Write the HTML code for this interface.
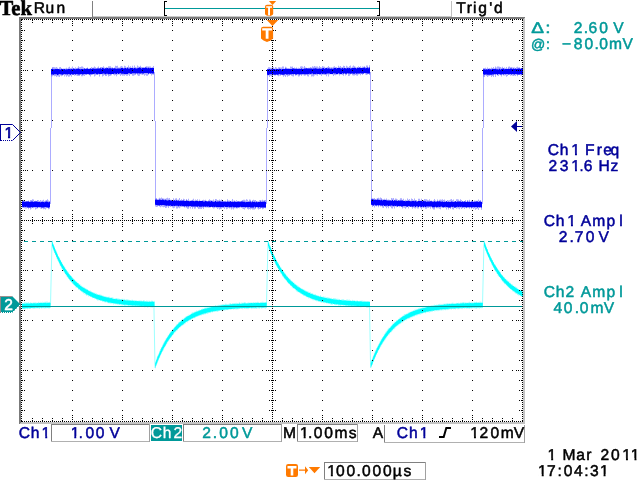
<!DOCTYPE html>
<html lang="en"><head><meta charset="utf-8"><title>Tek oscilloscope capture</title>
<style>
html,body{margin:0;padding:0;background:#fff;overflow:hidden}
svg{display:block;will-change:transform;text-rendering:geometricPrecision;font-family:"Liberation Sans",sans-serif}
text{stroke-linejoin:round;white-space:pre}
</style></head><body>
<svg width="640" height="480" viewBox="0 0 640 480">
<rect width="640" height="480" fill="#fff"/>
<g shape-rendering="crispEdges">
<rect x="51" y="72" width="1" height="56" fill="#acacff"/>
<rect x="50" y="128" width="1" height="76" fill="#acacff"/>
<rect x="267" y="72" width="1" height="56" fill="#acacff"/>
<rect x="266" y="128" width="1" height="76" fill="#acacff"/>
<rect x="483" y="72" width="1" height="56" fill="#acacff"/>
<rect x="482" y="128" width="1" height="76" fill="#acacff"/>
<rect x="154" y="72" width="1" height="49" fill="#acacff"/>
<rect x="155" y="121" width="1" height="80" fill="#acacff"/>
<rect x="370" y="72" width="1" height="49" fill="#acacff"/>
<rect x="371" y="121" width="1" height="80" fill="#acacff"/>
</g>
<path d="M22.0,200.7 23.0,200.7 23.0,199.9 24.0,199.9 24.0,200.2 25.0,200.2 25.0,201.3 26.0,201.3 26.0,201.3 27.0,201.3 27.0,201.3 28.0,201.3 28.0,200.5 29.0,200.5 29.0,201.2 30.0,201.2 30.0,200.0 31.0,200.0 31.0,200.1 32.0,200.1 32.0,199.2 33.0,199.2 33.0,199.5 34.0,199.5 34.0,201.2 35.0,201.2 35.0,200.8 36.0,200.8 36.0,201.1 37.0,201.1 37.0,200.0 38.0,200.0 38.0,200.3 39.0,200.3 39.0,201.4 40.0,201.4 40.0,200.0 41.0,200.0 41.0,200.8 42.0,200.8 42.0,200.5 43.0,200.5 43.0,199.7 44.0,199.7 44.0,201.0 45.0,201.0 45.0,200.4 46.0,200.4 46.0,199.9 47.0,199.9 47.0,199.3 48.0,199.3 48.0,200.6 49.0,200.6 49.0,201.2 50.0,201.2 50.0,208.7 49.0,208.7 49.0,209.3 48.0,209.3 48.0,207.8 47.0,207.8 47.0,208.2 46.0,208.2 46.0,209.6 45.0,209.6 45.0,208.9 44.0,208.9 44.0,209.2 43.0,209.2 43.0,208.2 42.0,208.2 42.0,208.9 41.0,208.9 41.0,208.5 40.0,208.5 40.0,208.0 39.0,208.0 39.0,207.7 38.0,207.7 38.0,208.4 37.0,208.4 37.0,208.8 36.0,208.8 36.0,209.4 35.0,209.4 35.0,207.8 34.0,207.8 34.0,208.2 33.0,208.2 33.0,207.6 32.0,207.6 32.0,208.4 31.0,208.4 31.0,209.6 30.0,209.6 30.0,208.0 29.0,208.0 29.0,209.3 28.0,209.3 28.0,207.6 27.0,207.6 27.0,208.4 26.0,208.4 26.0,208.6 25.0,208.6 25.0,208.3 24.0,208.3 24.0,207.6 23.0,207.6 23.0,207.7 22.0,207.7Z" fill="#5a5aff" fill-opacity="0.5"/>
<path d="M51.0,68.8 52.0,68.8 52.0,67.1 53.0,67.1 53.0,66.9 54.0,66.9 54.0,67.3 55.0,67.3 55.0,67.5 56.0,67.5 56.0,66.9 57.0,66.9 57.0,67.7 58.0,67.7 58.0,68.7 59.0,68.7 59.0,67.3 60.0,67.3 60.0,66.9 61.0,66.9 61.0,67.9 62.0,67.9 62.0,68.7 63.0,68.7 63.0,68.4 64.0,68.4 64.0,68.6 65.0,68.6 65.0,68.4 66.0,68.4 66.0,67.8 67.0,67.8 67.0,68.5 68.0,68.5 68.0,67.4 69.0,67.4 69.0,66.8 70.0,66.8 70.0,68.0 71.0,68.0 71.0,67.8 72.0,67.8 72.0,66.4 73.0,66.4 73.0,68.2 74.0,68.2 74.0,68.1 75.0,68.1 75.0,67.2 76.0,67.2 76.0,68.6 77.0,68.6 77.0,67.7 78.0,67.7 78.0,66.3 79.0,66.3 79.0,67.3 80.0,67.3 80.0,67.0 81.0,67.0 81.0,66.4 82.0,66.4 82.0,66.5 83.0,66.5 83.0,67.6 84.0,67.6 84.0,68.2 85.0,68.2 85.0,68.3 86.0,68.3 86.0,67.9 87.0,67.9 87.0,67.6 88.0,67.6 88.0,68.4 89.0,68.4 89.0,68.2 90.0,68.2 90.0,68.3 91.0,68.3 91.0,66.9 92.0,66.9 92.0,67.8 93.0,67.8 93.0,67.5 94.0,67.5 94.0,66.4 95.0,66.4 95.0,67.2 96.0,67.2 96.0,68.1 97.0,68.1 97.0,67.5 98.0,67.5 98.0,66.4 99.0,66.4 99.0,68.2 100.0,68.2 100.0,67.0 101.0,67.0 101.0,67.0 102.0,67.0 102.0,67.0 103.0,67.0 103.0,66.2 104.0,66.2 104.0,67.6 105.0,67.6 105.0,67.8 106.0,67.8 106.0,66.9 107.0,66.9 107.0,67.4 108.0,67.4 108.0,66.3 109.0,66.3 109.0,66.2 110.0,66.2 110.0,66.2 111.0,66.2 111.0,67.6 112.0,67.6 112.0,67.3 113.0,67.3 113.0,68.0 114.0,68.0 114.0,67.5 115.0,67.5 115.0,65.8 116.0,65.8 116.0,65.9 117.0,65.9 117.0,65.8 118.0,65.8 118.0,67.5 119.0,67.5 119.0,67.5 120.0,67.5 120.0,66.5 121.0,66.5 121.0,66.0 122.0,66.0 122.0,66.4 123.0,66.4 123.0,67.7 124.0,67.7 124.0,65.8 125.0,65.8 125.0,66.2 126.0,66.2 126.0,67.5 127.0,67.5 127.0,67.1 128.0,67.1 128.0,65.6 129.0,65.6 129.0,66.9 130.0,66.9 130.0,66.2 131.0,66.2 131.0,67.5 132.0,67.5 132.0,65.7 133.0,65.7 133.0,67.5 134.0,67.5 134.0,65.5 135.0,65.5 135.0,67.0 136.0,67.0 136.0,67.5 137.0,67.5 137.0,65.5 138.0,65.5 138.0,66.5 139.0,66.5 139.0,66.7 140.0,66.7 140.0,65.8 141.0,65.8 141.0,67.1 142.0,67.1 142.0,67.1 143.0,67.1 143.0,67.1 144.0,67.1 144.0,67.3 145.0,67.3 145.0,66.8 146.0,66.8 146.0,66.3 147.0,66.3 147.0,66.6 148.0,66.6 148.0,66.4 149.0,66.4 149.0,66.4 150.0,66.4 150.0,66.6 151.0,66.6 151.0,67.5 152.0,67.5 152.0,67.1 153.0,67.1 153.0,65.9 154.0,65.9 154.0,74.8 153.0,74.8 153.0,74.6 152.0,74.6 152.0,75.4 151.0,75.4 151.0,74.0 150.0,74.0 150.0,73.6 149.0,73.6 149.0,74.8 148.0,74.8 148.0,75.7 147.0,75.7 147.0,75.7 146.0,75.7 146.0,74.7 145.0,74.7 145.0,75.7 144.0,75.7 144.0,74.6 143.0,74.6 143.0,75.0 142.0,75.0 142.0,74.4 141.0,74.4 141.0,74.2 140.0,74.2 140.0,75.7 139.0,75.7 139.0,75.9 138.0,75.9 138.0,75.2 137.0,75.2 137.0,73.8 136.0,73.8 136.0,75.0 135.0,75.0 135.0,75.3 134.0,75.3 134.0,75.7 133.0,75.7 133.0,75.7 132.0,75.7 132.0,74.2 131.0,74.2 131.0,74.2 130.0,74.2 130.0,76.0 129.0,76.0 129.0,74.8 128.0,74.8 128.0,75.7 127.0,75.7 127.0,75.7 126.0,75.7 126.0,75.0 125.0,75.0 125.0,75.7 124.0,75.7 124.0,75.4 123.0,75.4 123.0,75.8 122.0,75.8 122.0,75.1 121.0,75.1 121.0,76.0 120.0,76.0 120.0,74.5 119.0,74.5 119.0,74.5 118.0,74.5 118.0,74.8 117.0,74.8 117.0,76.3 116.0,76.3 116.0,75.1 115.0,75.1 115.0,75.6 114.0,75.6 114.0,74.7 113.0,74.7 113.0,74.1 112.0,74.1 112.0,75.3 111.0,75.3 111.0,75.8 110.0,75.8 110.0,76.0 109.0,76.0 109.0,76.4 108.0,76.4 108.0,74.7 107.0,74.7 107.0,76.0 106.0,76.0 106.0,75.9 105.0,75.9 105.0,75.0 104.0,75.0 104.0,75.8 103.0,75.8 103.0,76.5 102.0,76.5 102.0,74.3 101.0,74.3 101.0,74.6 100.0,74.6 100.0,76.4 99.0,76.4 99.0,74.6 98.0,74.6 98.0,74.9 97.0,74.9 97.0,74.5 96.0,74.5 96.0,75.4 95.0,75.4 95.0,76.6 94.0,76.6 94.0,74.6 93.0,74.6 93.0,75.1 92.0,75.1 92.0,74.7 91.0,74.7 91.0,76.4 90.0,76.4 90.0,75.2 89.0,75.2 89.0,74.7 88.0,74.7 88.0,74.5 87.0,74.5 87.0,74.8 86.0,74.8 86.0,74.6 85.0,74.6 85.0,75.9 84.0,75.9 84.0,75.4 83.0,75.4 83.0,76.3 82.0,76.3 82.0,76.3 81.0,76.3 81.0,74.6 80.0,74.6 80.0,75.9 79.0,75.9 79.0,76.1 78.0,76.1 78.0,75.9 77.0,75.9 77.0,75.5 76.0,75.5 76.0,75.2 75.0,75.2 75.0,75.7 74.0,75.7 74.0,75.1 73.0,75.1 73.0,75.0 72.0,75.0 72.0,76.7 71.0,76.7 71.0,75.6 70.0,75.6 70.0,76.6 69.0,76.6 69.0,76.7 68.0,76.7 68.0,75.7 67.0,75.7 67.0,76.7 66.0,76.7 66.0,75.3 65.0,75.3 65.0,76.5 64.0,76.5 64.0,75.0 63.0,75.0 63.0,75.8 62.0,75.8 62.0,76.3 61.0,76.3 61.0,75.4 60.0,75.4 60.0,77.1 59.0,77.1 59.0,76.4 58.0,76.4 58.0,76.3 57.0,76.3 57.0,77.0 56.0,77.0 56.0,75.9 55.0,75.9 55.0,76.2 54.0,76.2 54.0,75.6 53.0,75.6 53.0,76.2 52.0,76.2 52.0,76.4 51.0,76.4Z" fill="#5a5aff" fill-opacity="0.5"/>
<path d="M155.0,198.5 156.0,198.5 156.0,198.0 157.0,198.0 157.0,199.1 158.0,199.1 158.0,198.8 159.0,198.8 159.0,197.7 160.0,197.7 160.0,198.2 161.0,198.2 161.0,197.5 162.0,197.5 162.0,198.2 163.0,198.2 163.0,198.5 164.0,198.5 164.0,198.7 165.0,198.7 165.0,198.7 166.0,198.7 166.0,198.2 167.0,198.2 167.0,197.7 168.0,197.7 168.0,198.6 169.0,198.6 169.0,198.0 170.0,198.0 170.0,199.7 171.0,199.7 171.0,199.8 172.0,199.8 172.0,199.9 173.0,199.9 173.0,198.3 174.0,198.3 174.0,199.8 175.0,199.8 175.0,198.6 176.0,198.6 176.0,198.2 177.0,198.2 177.0,199.7 178.0,199.7 178.0,199.4 179.0,199.4 179.0,198.0 180.0,198.0 180.0,200.0 181.0,200.0 181.0,199.2 182.0,199.2 182.0,200.0 183.0,200.0 183.0,198.8 184.0,198.8 184.0,199.2 185.0,199.2 185.0,200.4 186.0,200.4 186.0,199.1 187.0,199.1 187.0,200.4 188.0,200.4 188.0,198.8 189.0,198.8 189.0,200.4 190.0,200.4 190.0,200.5 191.0,200.5 191.0,200.0 192.0,200.0 192.0,199.7 193.0,199.7 193.0,198.8 194.0,198.8 194.0,200.4 195.0,200.4 195.0,199.4 196.0,199.4 196.0,200.6 197.0,200.6 197.0,199.2 198.0,199.2 198.0,200.7 199.0,200.7 199.0,199.4 200.0,199.4 200.0,200.7 201.0,200.7 201.0,200.7 202.0,200.7 202.0,199.9 203.0,199.9 203.0,199.7 204.0,199.7 204.0,200.3 205.0,200.3 205.0,199.7 206.0,199.7 206.0,200.7 207.0,200.7 207.0,200.9 208.0,200.9 208.0,200.3 209.0,200.3 209.0,199.3 210.0,199.3 210.0,199.9 211.0,199.9 211.0,200.3 212.0,200.3 212.0,200.5 213.0,200.5 213.0,199.4 214.0,199.4 214.0,200.7 215.0,200.7 215.0,199.0 216.0,199.0 216.0,199.3 217.0,199.3 217.0,200.0 218.0,200.0 218.0,200.3 219.0,200.3 219.0,199.6 220.0,199.6 220.0,200.4 221.0,200.4 221.0,199.6 222.0,199.6 222.0,200.3 223.0,200.3 223.0,201.1 224.0,201.1 224.0,201.1 225.0,201.1 225.0,200.7 226.0,200.7 226.0,201.1 227.0,201.1 227.0,199.3 228.0,199.3 228.0,200.6 229.0,200.6 229.0,200.6 230.0,200.6 230.0,201.0 231.0,201.0 231.0,200.7 232.0,200.7 232.0,199.1 233.0,199.1 233.0,200.8 234.0,200.8 234.0,200.6 235.0,200.6 235.0,201.4 236.0,201.4 236.0,200.3 237.0,200.3 237.0,200.9 238.0,200.9 238.0,201.4 239.0,201.4 239.0,201.2 240.0,201.2 240.0,201.3 241.0,201.3 241.0,200.7 242.0,200.7 242.0,200.1 243.0,200.1 243.0,199.7 244.0,199.7 244.0,199.8 245.0,199.8 245.0,200.6 246.0,200.6 246.0,199.2 247.0,199.2 247.0,199.8 248.0,199.8 248.0,201.4 249.0,201.4 249.0,199.4 250.0,199.4 250.0,199.8 251.0,199.8 251.0,201.2 252.0,201.2 252.0,200.3 253.0,200.3 253.0,199.7 254.0,199.7 254.0,200.2 255.0,200.2 255.0,200.0 256.0,200.0 256.0,201.0 257.0,201.0 257.0,201.2 258.0,201.2 258.0,201.3 259.0,201.3 259.0,200.3 260.0,200.3 260.0,200.1 261.0,200.1 261.0,200.4 262.0,200.4 262.0,199.7 263.0,199.7 263.0,200.4 264.0,200.4 264.0,200.1 265.0,200.1 265.0,199.9 266.0,199.9 266.0,208.2 265.0,208.2 265.0,207.7 264.0,207.7 264.0,208.8 263.0,208.8 263.0,209.3 262.0,209.3 262.0,207.6 261.0,207.6 261.0,209.1 260.0,209.1 260.0,209.0 259.0,209.0 259.0,209.5 258.0,209.5 258.0,208.4 257.0,208.4 257.0,207.6 256.0,207.6 256.0,209.1 255.0,209.1 255.0,209.6 254.0,209.6 254.0,209.4 253.0,209.4 253.0,209.4 252.0,209.4 252.0,208.7 251.0,208.7 251.0,209.4 250.0,209.4 250.0,208.9 249.0,208.9 249.0,209.4 248.0,209.4 248.0,208.9 247.0,208.9 247.0,207.8 246.0,207.8 246.0,208.2 245.0,208.2 245.0,209.5 244.0,209.5 244.0,209.0 243.0,209.0 243.0,208.6 242.0,208.6 242.0,208.0 241.0,208.0 241.0,207.5 240.0,207.5 240.0,208.3 239.0,208.3 239.0,208.0 238.0,208.0 238.0,208.5 237.0,208.5 237.0,208.5 236.0,208.5 236.0,208.2 235.0,208.2 235.0,208.2 234.0,208.2 234.0,209.6 233.0,209.6 233.0,208.6 232.0,208.6 232.0,209.5 231.0,209.5 231.0,208.3 230.0,208.3 230.0,208.4 229.0,208.4 229.0,207.9 228.0,207.9 228.0,208.8 227.0,208.8 227.0,209.2 226.0,209.2 226.0,207.6 225.0,207.6 225.0,209.0 224.0,209.0 224.0,207.5 223.0,207.5 223.0,208.0 222.0,208.0 222.0,208.7 221.0,208.7 221.0,209.1 220.0,209.1 220.0,209.4 219.0,209.4 219.0,208.3 218.0,208.3 218.0,209.1 217.0,209.1 217.0,208.1 216.0,208.1 216.0,207.4 215.0,207.4 215.0,208.2 214.0,208.2 214.0,208.4 213.0,208.4 213.0,207.1 212.0,207.1 212.0,207.1 211.0,207.1 211.0,207.5 210.0,207.5 210.0,207.7 209.0,207.7 209.0,207.7 208.0,207.7 208.0,207.5 207.0,207.5 207.0,207.4 206.0,207.4 206.0,207.5 205.0,207.5 205.0,207.2 204.0,207.2 204.0,209.1 203.0,209.1 203.0,207.7 202.0,207.7 202.0,208.9 201.0,208.9 201.0,208.8 200.0,208.8 200.0,208.7 199.0,208.7 199.0,209.0 198.0,209.0 198.0,207.8 197.0,207.8 197.0,206.9 196.0,206.9 196.0,208.4 195.0,208.4 195.0,208.8 194.0,208.8 194.0,207.3 193.0,207.3 193.0,208.8 192.0,208.8 192.0,207.0 191.0,207.0 191.0,208.4 190.0,208.4 190.0,207.2 189.0,207.2 189.0,208.8 188.0,208.8 188.0,208.8 187.0,208.8 187.0,207.7 186.0,207.7 186.0,207.3 185.0,207.3 185.0,207.5 184.0,207.5 184.0,206.5 183.0,206.5 183.0,207.1 182.0,207.1 182.0,207.1 181.0,207.1 181.0,207.3 180.0,207.3 180.0,208.2 179.0,208.2 179.0,207.4 178.0,207.4 178.0,208.4 177.0,208.4 177.0,208.4 176.0,208.4 176.0,206.5 175.0,206.5 175.0,207.8 174.0,207.8 174.0,208.2 173.0,208.2 173.0,207.6 172.0,207.6 172.0,206.6 171.0,206.6 171.0,207.0 170.0,207.0 170.0,206.2 169.0,206.2 169.0,208.1 168.0,208.1 168.0,206.4 167.0,206.4 167.0,207.8 166.0,207.8 166.0,207.9 165.0,207.9 165.0,206.9 164.0,206.9 164.0,207.3 163.0,207.3 163.0,206.8 162.0,206.8 162.0,206.6 161.0,206.6 161.0,207.3 160.0,207.3 160.0,206.6 159.0,206.6 159.0,206.1 158.0,206.1 158.0,206.7 157.0,206.7 157.0,207.1 156.0,207.1 156.0,206.4 155.0,206.4Z" fill="#5a5aff" fill-opacity="0.5"/>
<path d="M267.0,68.7 268.0,68.7 268.0,67.2 269.0,67.2 269.0,67.2 270.0,67.2 270.0,67.7 271.0,67.7 271.0,67.7 272.0,67.7 272.0,67.1 273.0,67.1 273.0,67.3 274.0,67.3 274.0,68.5 275.0,68.5 275.0,67.1 276.0,67.1 276.0,67.5 277.0,67.5 277.0,68.6 278.0,68.6 278.0,67.2 279.0,67.2 279.0,67.2 280.0,67.2 280.0,67.5 281.0,67.5 281.0,67.6 282.0,67.6 282.0,66.6 283.0,66.6 283.0,66.4 284.0,66.4 284.0,68.6 285.0,68.6 285.0,66.8 286.0,66.8 286.0,67.6 287.0,67.6 287.0,68.1 288.0,68.1 288.0,68.1 289.0,68.1 289.0,68.3 290.0,68.3 290.0,66.4 291.0,66.4 291.0,66.7 292.0,66.7 292.0,66.5 293.0,66.5 293.0,68.0 294.0,68.0 294.0,67.4 295.0,67.4 295.0,68.5 296.0,68.5 296.0,67.5 297.0,67.5 297.0,68.2 298.0,68.2 298.0,67.8 299.0,67.8 299.0,68.5 300.0,68.5 300.0,66.5 301.0,66.5 301.0,66.3 302.0,66.3 302.0,66.4 303.0,66.4 303.0,67.6 304.0,67.6 304.0,66.1 305.0,66.1 305.0,67.6 306.0,67.6 306.0,67.7 307.0,67.7 307.0,68.1 308.0,68.1 308.0,67.7 309.0,67.7 309.0,67.8 310.0,67.8 310.0,67.1 311.0,67.1 311.0,67.4 312.0,67.4 312.0,66.3 313.0,66.3 313.0,66.8 314.0,66.8 314.0,66.1 315.0,66.1 315.0,66.6 316.0,66.6 316.0,66.6 317.0,66.6 317.0,66.5 318.0,66.5 318.0,67.6 319.0,67.6 319.0,66.1 320.0,66.1 320.0,67.1 321.0,67.1 321.0,67.5 322.0,67.5 322.0,65.9 323.0,65.9 323.0,66.6 324.0,66.6 324.0,66.8 325.0,66.8 325.0,67.7 326.0,67.7 326.0,67.6 327.0,67.6 327.0,66.9 328.0,66.9 328.0,66.0 329.0,66.0 329.0,67.0 330.0,67.0 330.0,67.6 331.0,67.6 331.0,67.3 332.0,67.3 332.0,67.5 333.0,67.5 333.0,66.7 334.0,66.7 334.0,66.3 335.0,66.3 335.0,67.0 336.0,67.0 336.0,67.1 337.0,67.1 337.0,67.8 338.0,67.8 338.0,65.7 339.0,65.7 339.0,66.8 340.0,66.8 340.0,65.9 341.0,65.9 341.0,67.3 342.0,67.3 342.0,67.0 343.0,67.0 343.0,65.7 344.0,65.7 344.0,65.9 345.0,65.9 345.0,67.8 346.0,67.8 346.0,65.8 347.0,65.8 347.0,66.5 348.0,66.5 348.0,66.9 349.0,66.9 349.0,65.9 350.0,65.9 350.0,65.5 351.0,65.5 351.0,67.5 352.0,67.5 352.0,66.6 353.0,66.6 353.0,65.6 354.0,65.6 354.0,66.2 355.0,66.2 355.0,66.7 356.0,66.7 356.0,67.6 357.0,67.6 357.0,67.2 358.0,67.2 358.0,66.2 359.0,66.2 359.0,67.4 360.0,67.4 360.0,66.2 361.0,66.2 361.0,67.4 362.0,67.4 362.0,66.4 363.0,66.4 363.0,66.7 364.0,66.7 364.0,66.2 365.0,66.2 365.0,66.9 366.0,66.9 366.0,65.4 367.0,65.4 367.0,65.5 368.0,65.5 368.0,67.0 369.0,67.0 369.0,65.3 370.0,65.3 370.0,75.1 369.0,75.1 369.0,74.1 368.0,74.1 368.0,74.6 367.0,74.6 367.0,75.0 366.0,75.0 366.0,74.6 365.0,74.6 365.0,73.6 364.0,73.6 364.0,74.1 363.0,74.1 363.0,75.0 362.0,75.0 362.0,73.8 361.0,73.8 361.0,75.3 360.0,75.3 360.0,74.2 359.0,74.2 359.0,74.4 358.0,74.4 358.0,75.8 357.0,75.8 357.0,75.5 356.0,75.5 356.0,75.0 355.0,75.0 355.0,75.5 354.0,75.5 354.0,75.4 353.0,75.4 353.0,75.3 352.0,75.3 352.0,74.1 351.0,74.1 351.0,74.4 350.0,74.4 350.0,75.8 349.0,75.8 349.0,75.9 348.0,75.9 348.0,73.8 347.0,73.8 347.0,74.9 346.0,74.9 346.0,75.5 345.0,75.5 345.0,73.9 344.0,73.9 344.0,75.8 343.0,75.8 343.0,74.9 342.0,74.9 342.0,74.5 341.0,74.5 341.0,74.4 340.0,74.4 340.0,75.4 339.0,75.4 339.0,74.2 338.0,74.2 338.0,74.6 337.0,74.6 337.0,74.7 336.0,74.7 336.0,75.2 335.0,75.2 335.0,74.9 334.0,74.9 334.0,76.1 333.0,76.1 333.0,74.6 332.0,74.6 332.0,74.2 331.0,74.2 331.0,74.3 330.0,74.3 330.0,74.4 329.0,74.4 329.0,76.4 328.0,76.4 328.0,74.6 327.0,74.6 327.0,76.2 326.0,76.2 326.0,74.5 325.0,74.5 325.0,75.0 324.0,75.0 324.0,74.8 323.0,74.8 323.0,74.8 322.0,74.8 322.0,75.9 321.0,75.9 321.0,75.0 320.0,75.0 320.0,74.5 319.0,74.5 319.0,74.3 318.0,74.3 318.0,75.7 317.0,75.7 317.0,75.3 316.0,75.3 316.0,74.4 315.0,74.4 315.0,75.5 314.0,75.5 314.0,76.4 313.0,76.4 313.0,76.2 312.0,76.2 312.0,76.5 311.0,76.5 311.0,74.8 310.0,74.8 310.0,74.9 309.0,74.9 309.0,76.5 308.0,76.5 308.0,76.3 307.0,76.3 307.0,74.5 306.0,74.5 306.0,75.4 305.0,75.4 305.0,75.8 304.0,75.8 304.0,75.3 303.0,75.3 303.0,75.1 302.0,75.1 302.0,76.1 301.0,76.1 301.0,74.7 300.0,74.7 300.0,76.2 299.0,76.2 299.0,76.4 298.0,76.4 298.0,75.3 297.0,75.3 297.0,75.2 296.0,75.2 296.0,75.7 295.0,75.7 295.0,74.6 294.0,74.6 294.0,76.6 293.0,76.6 293.0,76.2 292.0,76.2 292.0,75.7 291.0,75.7 291.0,74.9 290.0,74.9 290.0,75.8 289.0,75.8 289.0,76.0 288.0,76.0 288.0,76.8 287.0,76.8 287.0,75.3 286.0,75.3 286.0,76.9 285.0,76.9 285.0,75.7 284.0,75.7 284.0,76.8 283.0,76.8 283.0,75.2 282.0,75.2 282.0,75.0 281.0,75.0 281.0,75.8 280.0,75.8 280.0,75.4 279.0,75.4 279.0,76.3 278.0,76.3 278.0,75.4 277.0,75.4 277.0,74.8 276.0,74.8 276.0,75.5 275.0,75.5 275.0,75.4 274.0,75.4 274.0,75.0 273.0,75.0 273.0,76.3 272.0,76.3 272.0,76.4 271.0,76.4 271.0,75.7 270.0,75.7 270.0,77.1 269.0,77.1 269.0,75.4 268.0,75.4 268.0,75.5 267.0,75.5Z" fill="#5a5aff" fill-opacity="0.5"/>
<path d="M371.0,198.5 372.0,198.5 372.0,198.2 373.0,198.2 373.0,198.4 374.0,198.4 374.0,197.9 375.0,197.9 375.0,198.9 376.0,198.9 376.0,198.7 377.0,198.7 377.0,198.0 378.0,198.0 378.0,197.8 379.0,197.8 379.0,198.5 380.0,198.5 380.0,197.5 381.0,197.5 381.0,197.9 382.0,197.9 382.0,199.3 383.0,199.3 383.0,199.2 384.0,199.2 384.0,198.8 385.0,198.8 385.0,199.4 386.0,199.4 386.0,198.4 387.0,198.4 387.0,199.7 388.0,199.7 388.0,199.6 389.0,199.6 389.0,199.8 390.0,199.8 390.0,200.0 391.0,200.0 391.0,198.1 392.0,198.1 392.0,198.5 393.0,198.5 393.0,198.1 394.0,198.1 394.0,199.8 395.0,199.8 395.0,198.6 396.0,198.6 396.0,198.8 397.0,198.8 397.0,199.5 398.0,199.5 398.0,200.0 399.0,200.0 399.0,199.8 400.0,199.8 400.0,198.3 401.0,198.3 401.0,198.3 402.0,198.3 402.0,199.7 403.0,199.7 403.0,198.7 404.0,198.7 404.0,200.5 405.0,200.5 405.0,199.7 406.0,199.7 406.0,200.2 407.0,200.2 407.0,198.6 408.0,198.6 408.0,199.7 409.0,199.7 409.0,198.9 410.0,198.9 410.0,200.6 411.0,200.6 411.0,198.6 412.0,198.6 412.0,199.1 413.0,199.1 413.0,200.0 414.0,200.0 414.0,198.6 415.0,198.6 415.0,200.2 416.0,200.2 416.0,200.1 417.0,200.1 417.0,200.9 418.0,200.9 418.0,198.8 419.0,198.8 419.0,198.8 420.0,198.8 420.0,200.4 421.0,200.4 421.0,198.8 422.0,198.8 422.0,200.1 423.0,200.1 423.0,200.0 424.0,200.0 424.0,198.9 425.0,198.9 425.0,199.2 426.0,199.2 426.0,199.2 427.0,199.2 427.0,199.7 428.0,199.7 428.0,200.3 429.0,200.3 429.0,199.3 430.0,199.3 430.0,200.7 431.0,200.7 431.0,200.6 432.0,200.6 432.0,201.1 433.0,201.1 433.0,200.4 434.0,200.4 434.0,199.1 435.0,199.1 435.0,200.6 436.0,200.6 436.0,201.0 437.0,201.0 437.0,199.6 438.0,199.6 438.0,200.7 439.0,200.7 439.0,199.8 440.0,199.8 440.0,199.5 441.0,199.5 441.0,199.7 442.0,199.7 442.0,199.3 443.0,199.3 443.0,200.0 444.0,200.0 444.0,199.6 445.0,199.6 445.0,200.7 446.0,200.7 446.0,201.0 447.0,201.0 447.0,200.0 448.0,200.0 448.0,200.4 449.0,200.4 449.0,200.2 450.0,200.2 450.0,199.5 451.0,199.5 451.0,199.1 452.0,199.1 452.0,200.3 453.0,200.3 453.0,199.5 454.0,199.5 454.0,201.3 455.0,201.3 455.0,201.1 456.0,201.1 456.0,199.2 457.0,199.2 457.0,199.3 458.0,199.3 458.0,199.4 459.0,199.4 459.0,200.8 460.0,200.8 460.0,199.3 461.0,199.3 461.0,200.1 462.0,200.1 462.0,201.0 463.0,201.0 463.0,201.1 464.0,201.1 464.0,200.9 465.0,200.9 465.0,200.0 466.0,200.0 466.0,201.5 467.0,201.5 467.0,199.9 468.0,199.9 468.0,200.8 469.0,200.8 469.0,199.7 470.0,199.7 470.0,201.4 471.0,201.4 471.0,200.6 472.0,200.6 472.0,200.1 473.0,200.1 473.0,201.2 474.0,201.2 474.0,200.6 475.0,200.6 475.0,200.8 476.0,200.8 476.0,200.8 477.0,200.8 477.0,200.7 478.0,200.7 478.0,199.6 479.0,199.6 479.0,200.7 480.0,200.7 480.0,199.9 481.0,199.9 481.0,201.6 482.0,201.6 482.0,209.7 481.0,209.7 481.0,208.0 480.0,208.0 480.0,208.0 479.0,208.0 479.0,209.9 478.0,209.9 478.0,208.5 477.0,208.5 477.0,208.9 476.0,208.9 476.0,209.7 475.0,209.7 475.0,208.2 474.0,208.2 474.0,209.1 473.0,209.1 473.0,207.7 472.0,207.7 472.0,208.8 471.0,208.8 471.0,207.8 470.0,207.8 470.0,208.8 469.0,208.8 469.0,208.0 468.0,208.0 468.0,207.9 467.0,207.9 467.0,208.2 466.0,208.2 466.0,208.0 465.0,208.0 465.0,208.9 464.0,208.9 464.0,207.9 463.0,207.9 463.0,208.3 462.0,208.3 462.0,208.9 461.0,208.9 461.0,207.7 460.0,207.7 460.0,209.2 459.0,209.2 459.0,208.5 458.0,208.5 458.0,208.3 457.0,208.3 457.0,208.8 456.0,208.8 456.0,207.8 455.0,207.8 455.0,208.1 454.0,208.1 454.0,209.5 453.0,209.5 453.0,209.3 452.0,209.3 452.0,207.6 451.0,207.6 451.0,208.9 450.0,208.9 450.0,207.9 449.0,207.9 449.0,209.6 448.0,209.6 448.0,208.1 447.0,208.1 447.0,209.4 446.0,209.4 446.0,207.9 445.0,207.9 445.0,207.8 444.0,207.8 444.0,208.1 443.0,208.1 443.0,207.9 442.0,207.9 442.0,207.5 441.0,207.5 441.0,209.2 440.0,209.2 440.0,208.8 439.0,208.8 439.0,208.2 438.0,208.2 438.0,208.2 437.0,208.2 437.0,208.3 436.0,208.3 436.0,207.4 435.0,207.4 435.0,209.4 434.0,209.4 434.0,209.4 433.0,209.4 433.0,208.4 432.0,208.4 432.0,207.3 431.0,207.3 431.0,208.8 430.0,208.8 430.0,207.3 429.0,207.3 429.0,207.9 428.0,207.9 428.0,207.8 427.0,207.8 427.0,208.8 426.0,208.8 426.0,208.7 425.0,208.7 425.0,207.4 424.0,207.4 424.0,208.1 423.0,208.1 423.0,207.6 422.0,207.6 422.0,209.2 421.0,209.2 421.0,208.0 420.0,208.0 420.0,207.0 419.0,207.0 419.0,208.4 418.0,208.4 418.0,208.6 417.0,208.6 417.0,207.5 416.0,207.5 416.0,208.5 415.0,208.5 415.0,208.2 414.0,208.2 414.0,207.4 413.0,207.4 413.0,208.8 412.0,208.8 412.0,207.3 411.0,207.3 411.0,206.9 410.0,206.9 410.0,206.8 409.0,206.8 409.0,208.5 408.0,208.5 408.0,206.7 407.0,206.7 407.0,207.5 406.0,207.5 406.0,208.7 405.0,208.7 405.0,207.7 404.0,207.7 404.0,207.5 403.0,207.5 403.0,208.4 402.0,208.4 402.0,207.0 401.0,207.0 401.0,206.7 400.0,206.7 400.0,207.2 399.0,207.2 399.0,206.4 398.0,206.4 398.0,207.1 397.0,207.1 397.0,207.2 396.0,207.2 396.0,206.4 395.0,206.4 395.0,208.4 394.0,208.4 394.0,207.0 393.0,207.0 393.0,208.5 392.0,208.5 392.0,208.2 391.0,208.2 391.0,207.0 390.0,207.0 390.0,206.2 389.0,206.2 389.0,208.3 388.0,208.3 388.0,206.9 387.0,206.9 387.0,208.2 386.0,208.2 386.0,206.9 385.0,206.9 385.0,206.3 384.0,206.3 384.0,208.0 383.0,208.0 383.0,207.6 382.0,207.6 382.0,206.3 381.0,206.3 381.0,206.4 380.0,206.4 380.0,206.1 379.0,206.1 379.0,207.3 378.0,207.3 378.0,206.0 377.0,206.0 377.0,206.5 376.0,206.5 376.0,205.5 375.0,205.5 375.0,207.5 374.0,207.5 374.0,206.0 373.0,206.0 373.0,206.9 372.0,206.9 372.0,205.3 371.0,205.3Z" fill="#5a5aff" fill-opacity="0.5"/>
<path d="M483.0,67.9 484.0,67.9 484.0,68.0 485.0,68.0 485.0,67.8 486.0,67.8 486.0,68.8 487.0,68.8 487.0,67.4 488.0,67.4 488.0,68.6 489.0,68.6 489.0,68.0 490.0,68.0 490.0,68.5 491.0,68.5 491.0,67.6 492.0,67.6 492.0,68.5 493.0,68.5 493.0,66.9 494.0,66.9 494.0,68.3 495.0,68.3 495.0,66.6 496.0,66.6 496.0,67.6 497.0,67.6 497.0,66.6 498.0,66.6 498.0,66.6 499.0,66.6 499.0,66.8 500.0,66.8 500.0,66.9 501.0,66.9 501.0,67.7 502.0,67.7 502.0,66.7 503.0,66.7 503.0,68.1 504.0,68.1 504.0,67.4 505.0,67.4 505.0,68.3 506.0,68.3 506.0,66.9 507.0,66.9 507.0,68.5 508.0,68.5 508.0,66.8 509.0,66.8 509.0,66.6 510.0,66.6 510.0,67.2 511.0,67.2 511.0,67.1 512.0,67.1 512.0,67.5 513.0,67.5 513.0,67.5 514.0,67.5 514.0,67.5 515.0,67.5 515.0,68.4 516.0,68.4 516.0,67.3 517.0,67.3 517.0,66.7 518.0,66.7 518.0,67.4 519.0,67.4 519.0,67.3 520.0,67.3 520.0,68.1 521.0,68.1 521.0,68.2 522.0,68.2 522.0,67.2 523.0,67.2 523.0,74.5 522.0,74.5 522.0,75.4 521.0,75.4 521.0,75.4 520.0,75.4 520.0,74.7 519.0,74.7 519.0,74.8 518.0,74.8 518.0,76.2 517.0,76.2 517.0,75.0 516.0,75.0 516.0,75.9 515.0,75.9 515.0,75.5 514.0,75.5 514.0,76.0 513.0,76.0 513.0,75.8 512.0,75.8 512.0,75.2 511.0,75.2 511.0,75.8 510.0,75.8 510.0,74.8 509.0,74.8 509.0,74.6 508.0,74.6 508.0,75.9 507.0,75.9 507.0,76.7 506.0,76.7 506.0,75.2 505.0,75.2 505.0,75.5 504.0,75.5 504.0,75.5 503.0,75.5 503.0,75.1 502.0,75.1 502.0,76.6 501.0,76.6 501.0,75.2 500.0,75.2 500.0,75.1 499.0,75.1 499.0,76.1 498.0,76.1 498.0,75.6 497.0,75.6 497.0,74.8 496.0,74.8 496.0,77.0 495.0,77.0 495.0,75.0 494.0,75.0 494.0,77.0 493.0,77.0 493.0,75.9 492.0,75.9 492.0,76.9 491.0,76.9 491.0,75.5 490.0,75.5 490.0,76.0 489.0,76.0 489.0,76.3 488.0,76.3 488.0,76.9 487.0,76.9 487.0,76.1 486.0,76.1 486.0,75.2 485.0,75.2 485.0,76.9 484.0,76.9 484.0,76.8 483.0,76.8Z" fill="#5a5aff" fill-opacity="0.5"/>
<path d="M22.0,201.6 23.0,201.6 23.0,201.5 24.0,201.5 24.0,201.7 25.0,201.7 25.0,201.7 26.0,201.7 26.0,201.4 27.0,201.4 27.0,201.5 28.0,201.5 28.0,201.6 29.0,201.6 29.0,202.0 30.0,202.0 30.0,201.8 31.0,201.8 31.0,201.4 32.0,201.4 32.0,201.5 33.0,201.5 33.0,202.1 34.0,202.1 34.0,201.6 35.0,201.6 35.0,201.5 36.0,201.5 36.0,201.6 37.0,201.6 37.0,201.8 38.0,201.8 38.0,202.1 39.0,202.1 39.0,201.8 40.0,201.8 40.0,202.2 41.0,202.2 41.0,202.1 42.0,202.1 42.0,201.7 43.0,201.7 43.0,202.1 44.0,202.1 44.0,202.2 45.0,202.2 45.0,201.7 46.0,201.7 46.0,201.6 47.0,201.6 47.0,201.8 48.0,201.8 48.0,202.2 49.0,202.2 49.0,201.8 50.0,201.8 50.0,207.2 49.0,207.2 49.0,207.7 48.0,207.7 48.0,207.6 47.0,207.6 47.0,207.3 46.0,207.3 46.0,207.1 45.0,207.1 45.0,207.3 44.0,207.3 44.0,207.5 43.0,207.5 43.0,207.6 42.0,207.6 42.0,207.6 41.0,207.6 41.0,207.0 40.0,207.0 40.0,207.1 39.0,207.1 39.0,207.0 38.0,207.0 38.0,207.5 37.0,207.5 37.0,206.9 36.0,206.9 36.0,207.0 35.0,207.0 35.0,206.9 34.0,206.9 34.0,207.1 33.0,207.1 33.0,207.5 32.0,207.5 32.0,206.9 31.0,206.9 31.0,207.5 30.0,207.5 30.0,207.5 29.0,207.5 29.0,207.4 28.0,207.4 28.0,207.5 27.0,207.5 27.0,206.8 26.0,206.8 26.0,207.0 25.0,207.0 25.0,206.8 24.0,206.8 24.0,207.3 23.0,207.3 23.0,206.8 22.0,206.8Z" fill="#0000ff" fill-opacity="1"/>
<path d="M51.0,69.0 52.0,69.0 52.0,68.8 53.0,68.8 53.0,69.3 54.0,69.3 54.0,69.2 55.0,69.2 55.0,68.9 56.0,68.9 56.0,68.9 57.0,68.9 57.0,69.0 58.0,69.0 58.0,69.0 59.0,69.0 59.0,69.2 60.0,69.2 60.0,69.5 61.0,69.5 61.0,69.0 62.0,69.0 62.0,69.0 63.0,69.0 63.0,69.3 64.0,69.3 64.0,68.9 65.0,68.9 65.0,69.4 66.0,69.4 66.0,69.3 67.0,69.3 67.0,69.2 68.0,69.2 68.0,68.9 69.0,68.9 69.0,68.9 70.0,68.9 70.0,69.2 71.0,69.2 71.0,69.1 72.0,69.1 72.0,69.2 73.0,69.2 73.0,68.6 74.0,68.6 74.0,69.0 75.0,69.0 75.0,69.3 76.0,69.3 76.0,68.8 77.0,68.8 77.0,68.7 78.0,68.7 78.0,68.5 79.0,68.5 79.0,69.0 80.0,69.0 80.0,69.2 81.0,69.2 81.0,68.9 82.0,68.9 82.0,69.1 83.0,69.1 83.0,69.2 84.0,69.2 84.0,68.4 85.0,68.4 85.0,69.0 86.0,69.0 86.0,68.7 87.0,68.7 87.0,68.5 88.0,68.5 88.0,68.9 89.0,68.9 89.0,69.0 90.0,69.0 90.0,68.4 91.0,68.4 91.0,69.1 92.0,69.1 92.0,68.5 93.0,68.5 93.0,68.4 94.0,68.4 94.0,68.8 95.0,68.8 95.0,68.8 96.0,68.8 96.0,68.7 97.0,68.7 97.0,68.4 98.0,68.4 98.0,68.4 99.0,68.4 99.0,68.5 100.0,68.5 100.0,68.3 101.0,68.3 101.0,68.7 102.0,68.7 102.0,68.1 103.0,68.1 103.0,68.2 104.0,68.2 104.0,68.7 105.0,68.7 105.0,68.3 106.0,68.3 106.0,68.3 107.0,68.3 107.0,68.1 108.0,68.1 108.0,68.6 109.0,68.6 109.0,68.3 110.0,68.3 110.0,68.3 111.0,68.3 111.0,68.4 112.0,68.4 112.0,68.2 113.0,68.2 113.0,68.4 114.0,68.4 114.0,68.3 115.0,68.3 115.0,68.6 116.0,68.6 116.0,68.7 117.0,68.7 117.0,68.6 118.0,68.6 118.0,68.6 119.0,68.6 119.0,68.4 120.0,68.4 120.0,68.6 121.0,68.6 121.0,68.1 122.0,68.1 122.0,68.1 123.0,68.1 123.0,68.6 124.0,68.6 124.0,68.3 125.0,68.3 125.0,67.9 126.0,67.9 126.0,68.5 127.0,68.5 127.0,67.8 128.0,67.8 128.0,68.5 129.0,68.5 129.0,68.5 130.0,68.5 130.0,67.9 131.0,67.9 131.0,68.0 132.0,68.0 132.0,68.0 133.0,68.0 133.0,68.4 134.0,68.4 134.0,67.9 135.0,67.9 135.0,68.2 136.0,68.2 136.0,68.4 137.0,68.4 137.0,68.2 138.0,68.2 138.0,68.1 139.0,68.1 139.0,67.6 140.0,67.6 140.0,67.7 141.0,67.7 141.0,68.4 142.0,68.4 142.0,68.0 143.0,68.0 143.0,68.1 144.0,68.1 144.0,67.9 145.0,67.9 145.0,67.6 146.0,67.6 146.0,67.7 147.0,67.7 147.0,68.3 148.0,68.3 148.0,67.7 149.0,67.7 149.0,68.3 150.0,68.3 150.0,67.9 151.0,67.9 151.0,68.1 152.0,68.1 152.0,68.0 153.0,68.0 153.0,68.0 154.0,68.0 154.0,73.6 153.0,73.6 153.0,73.5 152.0,73.5 152.0,73.2 151.0,73.2 151.0,73.5 150.0,73.5 150.0,73.3 149.0,73.3 149.0,73.7 148.0,73.7 148.0,73.1 147.0,73.1 147.0,73.1 146.0,73.1 146.0,73.0 145.0,73.0 145.0,73.1 144.0,73.1 144.0,73.5 143.0,73.5 143.0,73.6 142.0,73.6 142.0,73.3 141.0,73.3 141.0,73.5 140.0,73.5 140.0,73.4 139.0,73.4 139.0,73.3 138.0,73.3 138.0,73.6 137.0,73.6 137.0,73.3 136.0,73.3 136.0,73.4 135.0,73.4 135.0,73.2 134.0,73.2 134.0,73.2 133.0,73.2 133.0,73.3 132.0,73.3 132.0,73.8 131.0,73.8 131.0,73.8 130.0,73.8 130.0,73.2 129.0,73.2 129.0,73.3 128.0,73.3 128.0,73.9 127.0,73.9 127.0,73.9 126.0,73.9 126.0,73.9 125.0,73.9 125.0,73.9 124.0,73.9 124.0,73.7 123.0,73.7 123.0,73.8 122.0,73.8 122.0,73.8 121.0,73.8 121.0,73.3 120.0,73.3 120.0,73.4 119.0,73.4 119.0,74.0 118.0,74.0 118.0,73.3 117.0,73.3 117.0,74.1 116.0,74.1 116.0,73.8 115.0,73.8 115.0,73.6 114.0,73.6 114.0,73.9 113.0,73.9 113.0,74.1 112.0,74.1 112.0,74.1 111.0,74.1 111.0,74.2 110.0,74.2 110.0,74.0 109.0,74.0 109.0,74.2 108.0,74.2 108.0,73.7 107.0,73.7 107.0,73.7 106.0,73.7 106.0,74.2 105.0,74.2 105.0,73.7 104.0,73.7 104.0,73.5 103.0,73.5 103.0,73.7 102.0,73.7 102.0,74.0 101.0,74.0 101.0,74.0 100.0,74.0 100.0,73.9 99.0,73.9 99.0,73.8 98.0,73.8 98.0,74.3 97.0,74.3 97.0,74.2 96.0,74.2 96.0,73.6 95.0,73.6 95.0,73.7 94.0,73.7 94.0,74.0 93.0,74.0 93.0,74.0 92.0,74.0 92.0,74.3 91.0,74.3 91.0,74.2 90.0,74.2 90.0,74.4 89.0,74.4 89.0,73.9 88.0,73.9 88.0,73.9 87.0,73.9 87.0,74.2 86.0,74.2 86.0,74.2 85.0,74.2 85.0,73.9 84.0,73.9 84.0,74.2 83.0,74.2 83.0,74.4 82.0,74.4 82.0,74.0 81.0,74.0 81.0,74.2 80.0,74.2 80.0,74.5 79.0,74.5 79.0,74.4 78.0,74.4 78.0,74.2 77.0,74.2 77.0,74.1 76.0,74.1 76.0,74.4 75.0,74.4 75.0,74.1 74.0,74.1 74.0,74.5 73.0,74.5 73.0,74.4 72.0,74.4 72.0,74.0 71.0,74.0 71.0,74.7 70.0,74.7 70.0,74.3 69.0,74.3 69.0,74.1 68.0,74.1 68.0,74.5 67.0,74.5 67.0,74.3 66.0,74.3 66.0,74.3 65.0,74.3 65.0,74.0 64.0,74.0 64.0,74.2 63.0,74.2 63.0,74.8 62.0,74.8 62.0,74.4 61.0,74.4 61.0,74.2 60.0,74.2 60.0,74.1 59.0,74.1 59.0,74.6 58.0,74.6 58.0,74.9 57.0,74.9 57.0,74.3 56.0,74.3 56.0,74.2 55.0,74.2 55.0,74.3 54.0,74.3 54.0,74.8 53.0,74.8 53.0,74.6 52.0,74.6 52.0,74.4 51.0,74.4Z" fill="#0000ff" fill-opacity="1"/>
<path d="M155.0,199.7 156.0,199.7 156.0,199.4 157.0,199.4 157.0,200.0 158.0,200.0 158.0,200.1 159.0,200.1 159.0,199.6 160.0,199.6 160.0,199.7 161.0,199.7 161.0,199.9 162.0,199.9 162.0,199.6 163.0,199.6 163.0,199.7 164.0,199.7 164.0,200.2 165.0,200.2 165.0,199.7 166.0,199.7 166.0,200.2 167.0,200.2 167.0,200.4 168.0,200.4 168.0,200.2 169.0,200.2 169.0,200.0 170.0,200.0 170.0,200.4 171.0,200.4 171.0,200.6 172.0,200.6 172.0,200.2 173.0,200.2 173.0,200.7 174.0,200.7 174.0,200.2 175.0,200.2 175.0,200.8 176.0,200.8 176.0,200.2 177.0,200.2 177.0,200.8 178.0,200.8 178.0,200.4 179.0,200.4 179.0,200.9 180.0,200.9 180.0,200.8 181.0,200.8 181.0,200.7 182.0,200.7 182.0,200.8 183.0,200.8 183.0,200.4 184.0,200.4 184.0,201.1 185.0,201.1 185.0,201.1 186.0,201.1 186.0,200.4 187.0,200.4 187.0,200.7 188.0,200.7 188.0,201.1 189.0,201.1 189.0,201.2 190.0,201.2 190.0,201.0 191.0,201.0 191.0,201.0 192.0,201.0 192.0,200.8 193.0,200.8 193.0,200.9 194.0,200.9 194.0,201.3 195.0,201.3 195.0,201.1 196.0,201.1 196.0,200.7 197.0,200.7 197.0,201.0 198.0,201.0 198.0,201.2 199.0,201.2 199.0,201.0 200.0,201.0 200.0,200.9 201.0,200.9 201.0,200.9 202.0,200.9 202.0,201.1 203.0,201.1 203.0,201.4 204.0,201.4 204.0,201.6 205.0,201.6 205.0,201.0 206.0,201.0 206.0,201.2 207.0,201.2 207.0,201.4 208.0,201.4 208.0,201.2 209.0,201.2 209.0,201.2 210.0,201.2 210.0,201.6 211.0,201.6 211.0,201.1 212.0,201.1 212.0,201.4 213.0,201.4 213.0,201.8 214.0,201.8 214.0,201.7 215.0,201.7 215.0,201.1 216.0,201.1 216.0,201.8 217.0,201.8 217.0,201.4 218.0,201.4 218.0,201.5 219.0,201.5 219.0,201.2 220.0,201.2 220.0,201.6 221.0,201.6 221.0,201.7 222.0,201.7 222.0,201.6 223.0,201.6 223.0,201.8 224.0,201.8 224.0,201.7 225.0,201.7 225.0,201.7 226.0,201.7 226.0,202.0 227.0,202.0 227.0,201.6 228.0,201.6 228.0,201.7 229.0,201.7 229.0,201.8 230.0,201.8 230.0,201.3 231.0,201.3 231.0,201.9 232.0,201.9 232.0,201.7 233.0,201.7 233.0,201.9 234.0,201.9 234.0,201.4 235.0,201.4 235.0,201.7 236.0,201.7 236.0,201.9 237.0,201.9 237.0,201.8 238.0,201.8 238.0,201.4 239.0,201.4 239.0,201.7 240.0,201.7 240.0,201.7 241.0,201.7 241.0,201.5 242.0,201.5 242.0,201.5 243.0,201.5 243.0,201.8 244.0,201.8 244.0,201.8 245.0,201.8 245.0,202.2 246.0,202.2 246.0,201.9 247.0,201.9 247.0,201.9 248.0,201.9 248.0,201.8 249.0,201.8 249.0,201.7 250.0,201.7 250.0,201.4 251.0,201.4 251.0,202.2 252.0,202.2 252.0,201.5 253.0,201.5 253.0,202.1 254.0,202.1 254.0,201.7 255.0,201.7 255.0,202.2 256.0,202.2 256.0,201.7 257.0,201.7 257.0,202.2 258.0,202.2 258.0,202.1 259.0,202.1 259.0,202.0 260.0,202.0 260.0,201.5 261.0,201.5 261.0,202.1 262.0,202.1 262.0,201.8 263.0,201.8 263.0,201.7 264.0,201.7 264.0,201.6 265.0,201.6 265.0,202.1 266.0,202.1 266.0,207.4 265.0,207.4 265.0,207.5 264.0,207.5 264.0,207.6 263.0,207.6 263.0,207.5 262.0,207.5 262.0,207.6 261.0,207.6 261.0,207.5 260.0,207.5 260.0,207.0 259.0,207.0 259.0,207.5 258.0,207.5 258.0,207.0 257.0,207.0 257.0,207.0 256.0,207.0 256.0,207.6 255.0,207.6 255.0,206.8 254.0,206.8 254.0,207.5 253.0,207.5 253.0,207.4 252.0,207.4 252.0,207.5 251.0,207.5 251.0,207.5 250.0,207.5 250.0,207.1 249.0,207.1 249.0,207.3 248.0,207.3 248.0,207.2 247.0,207.2 247.0,207.0 246.0,207.0 246.0,207.3 245.0,207.3 245.0,206.9 244.0,206.9 244.0,206.9 243.0,206.9 243.0,206.9 242.0,206.9 242.0,207.0 241.0,207.0 241.0,206.8 240.0,206.8 240.0,206.9 239.0,206.9 239.0,207.3 238.0,207.3 238.0,207.2 237.0,207.2 237.0,207.4 236.0,207.4 236.0,207.1 235.0,207.1 235.0,207.2 234.0,207.2 234.0,207.3 233.0,207.3 233.0,206.8 232.0,206.8 232.0,207.3 231.0,207.3 231.0,207.0 230.0,207.0 230.0,207.2 229.0,207.2 229.0,206.8 228.0,206.8 228.0,207.1 227.0,207.1 227.0,206.9 226.0,206.9 226.0,206.9 225.0,206.9 225.0,206.6 224.0,206.6 224.0,207.3 223.0,207.3 223.0,207.1 222.0,207.1 222.0,207.1 221.0,207.1 221.0,207.3 220.0,207.3 220.0,206.9 219.0,206.9 219.0,207.0 218.0,207.0 218.0,207.0 217.0,207.0 217.0,206.9 216.0,206.9 216.0,206.8 215.0,206.8 215.0,207.0 214.0,207.0 214.0,206.8 213.0,206.8 213.0,207.2 212.0,207.2 212.0,206.7 211.0,206.7 211.0,206.9 210.0,206.9 210.0,207.1 209.0,207.1 209.0,206.6 208.0,206.6 208.0,206.7 207.0,206.7 207.0,206.5 206.0,206.5 206.0,206.8 205.0,206.8 205.0,206.6 204.0,206.6 204.0,206.7 203.0,206.7 203.0,206.6 202.0,206.6 202.0,206.7 201.0,206.7 201.0,206.7 200.0,206.7 200.0,206.8 199.0,206.8 199.0,206.3 198.0,206.3 198.0,206.7 197.0,206.7 197.0,206.4 196.0,206.4 196.0,206.6 195.0,206.6 195.0,206.5 194.0,206.5 194.0,206.4 193.0,206.4 193.0,206.4 192.0,206.4 192.0,206.6 191.0,206.6 191.0,206.0 190.0,206.0 190.0,206.1 189.0,206.1 189.0,206.4 188.0,206.4 188.0,206.2 187.0,206.2 187.0,206.5 186.0,206.5 186.0,206.1 185.0,206.1 185.0,206.5 184.0,206.5 184.0,206.3 183.0,206.3 183.0,205.9 182.0,205.9 182.0,205.8 181.0,205.8 181.0,205.9 180.0,205.9 180.0,205.7 179.0,205.7 179.0,206.2 178.0,206.2 178.0,205.8 177.0,205.8 177.0,205.7 176.0,205.7 176.0,205.8 175.0,205.8 175.0,205.9 174.0,205.9 174.0,205.7 173.0,205.7 173.0,205.9 172.0,205.9 172.0,206.0 171.0,206.0 171.0,205.5 170.0,205.5 170.0,205.7 169.0,205.7 169.0,205.8 168.0,205.8 168.0,205.5 167.0,205.5 167.0,205.8 166.0,205.8 166.0,205.5 165.0,205.5 165.0,205.2 164.0,205.2 164.0,205.0 163.0,205.0 163.0,205.0 162.0,205.0 162.0,205.2 161.0,205.2 161.0,205.1 160.0,205.1 160.0,205.4 159.0,205.4 159.0,205.3 158.0,205.3 158.0,205.2 157.0,205.2 157.0,205.0 156.0,205.0 156.0,204.7 155.0,204.7Z" fill="#0000ff" fill-opacity="1"/>
<path d="M267.0,69.2 268.0,69.2 268.0,69.2 269.0,69.2 269.0,69.1 270.0,69.1 270.0,69.4 271.0,69.4 271.0,69.2 272.0,69.2 272.0,69.2 273.0,69.2 273.0,69.1 274.0,69.1 274.0,69.1 275.0,69.1 275.0,69.5 276.0,69.5 276.0,69.1 277.0,69.1 277.0,68.9 278.0,68.9 278.0,69.2 279.0,69.2 279.0,68.7 280.0,68.7 280.0,68.9 281.0,68.9 281.0,69.4 282.0,69.4 282.0,68.9 283.0,68.9 283.0,69.1 284.0,69.1 284.0,69.0 285.0,69.0 285.0,68.6 286.0,68.6 286.0,68.8 287.0,68.8 287.0,69.1 288.0,69.1 288.0,69.0 289.0,69.0 289.0,68.9 290.0,68.9 290.0,69.1 291.0,69.1 291.0,68.9 292.0,68.9 292.0,68.6 293.0,68.6 293.0,68.6 294.0,68.6 294.0,68.8 295.0,68.8 295.0,68.8 296.0,68.8 296.0,68.7 297.0,68.7 297.0,68.9 298.0,68.9 298.0,68.9 299.0,68.9 299.0,68.7 300.0,68.7 300.0,69.1 301.0,69.1 301.0,68.4 302.0,68.4 302.0,69.1 303.0,69.1 303.0,69.1 304.0,69.1 304.0,68.4 305.0,68.4 305.0,68.6 306.0,68.6 306.0,68.3 307.0,68.3 307.0,68.6 308.0,68.6 308.0,68.5 309.0,68.5 309.0,68.5 310.0,68.5 310.0,68.5 311.0,68.5 311.0,68.4 312.0,68.4 312.0,68.8 313.0,68.8 313.0,68.4 314.0,68.4 314.0,68.4 315.0,68.4 315.0,68.3 316.0,68.3 316.0,68.5 317.0,68.5 317.0,68.7 318.0,68.7 318.0,68.7 319.0,68.7 319.0,68.4 320.0,68.4 320.0,68.8 321.0,68.8 321.0,68.8 322.0,68.8 322.0,68.2 323.0,68.2 323.0,68.1 324.0,68.1 324.0,68.8 325.0,68.8 325.0,68.3 326.0,68.3 326.0,68.0 327.0,68.0 327.0,68.5 328.0,68.5 328.0,68.3 329.0,68.3 329.0,68.6 330.0,68.6 330.0,68.7 331.0,68.7 331.0,68.6 332.0,68.6 332.0,68.7 333.0,68.7 333.0,68.6 334.0,68.6 334.0,68.1 335.0,68.1 335.0,68.1 336.0,68.1 336.0,68.6 337.0,68.6 337.0,68.1 338.0,68.1 338.0,68.1 339.0,68.1 339.0,68.1 340.0,68.1 340.0,68.2 341.0,68.2 341.0,68.4 342.0,68.4 342.0,68.0 343.0,68.0 343.0,68.6 344.0,68.6 344.0,67.9 345.0,67.9 345.0,68.3 346.0,68.3 346.0,68.4 347.0,68.4 347.0,68.1 348.0,68.1 348.0,68.2 349.0,68.2 349.0,68.1 350.0,68.1 350.0,68.4 351.0,68.4 351.0,68.2 352.0,68.2 352.0,68.0 353.0,68.0 353.0,68.1 354.0,68.1 354.0,67.7 355.0,67.7 355.0,68.0 356.0,68.0 356.0,68.4 357.0,68.4 357.0,67.8 358.0,67.8 358.0,68.1 359.0,68.1 359.0,67.6 360.0,67.6 360.0,67.9 361.0,67.9 361.0,68.0 362.0,68.0 362.0,68.0 363.0,68.0 363.0,67.8 364.0,67.8 364.0,67.6 365.0,67.6 365.0,68.3 366.0,68.3 366.0,67.9 367.0,67.9 367.0,67.6 368.0,67.6 368.0,68.2 369.0,68.2 369.0,67.6 370.0,67.6 370.0,73.5 369.0,73.5 369.0,73.5 368.0,73.5 368.0,73.6 367.0,73.6 367.0,73.3 366.0,73.3 366.0,73.1 365.0,73.1 365.0,73.1 364.0,73.1 364.0,73.6 363.0,73.6 363.0,73.5 362.0,73.5 362.0,73.6 361.0,73.6 361.0,73.2 360.0,73.2 360.0,73.6 359.0,73.6 359.0,73.5 358.0,73.5 358.0,73.6 357.0,73.6 357.0,73.8 356.0,73.8 356.0,73.2 355.0,73.2 355.0,73.7 354.0,73.7 354.0,73.7 353.0,73.7 353.0,73.4 352.0,73.4 352.0,73.6 351.0,73.6 351.0,73.7 350.0,73.7 350.0,73.6 349.0,73.6 349.0,73.6 348.0,73.6 348.0,73.2 347.0,73.2 347.0,73.8 346.0,73.8 346.0,73.7 345.0,73.7 345.0,73.2 344.0,73.2 344.0,73.7 343.0,73.7 343.0,73.2 342.0,73.2 342.0,74.0 341.0,74.0 341.0,74.0 340.0,74.0 340.0,73.8 339.0,73.8 339.0,73.3 338.0,73.3 338.0,73.9 337.0,73.9 337.0,73.9 336.0,73.9 336.0,73.4 335.0,73.4 335.0,73.5 334.0,73.5 334.0,73.3 333.0,73.3 333.0,74.0 332.0,74.0 332.0,74.1 331.0,74.1 331.0,73.9 330.0,73.9 330.0,73.4 329.0,73.4 329.0,73.5 328.0,73.5 328.0,73.5 327.0,73.5 327.0,73.8 326.0,73.8 326.0,74.2 325.0,74.2 325.0,73.7 324.0,73.7 324.0,73.8 323.0,73.8 323.0,73.9 322.0,73.9 322.0,73.6 321.0,73.6 321.0,73.9 320.0,73.9 320.0,74.2 319.0,74.2 319.0,73.9 318.0,73.9 318.0,73.9 317.0,73.9 317.0,73.7 316.0,73.7 316.0,74.2 315.0,74.2 315.0,73.9 314.0,73.9 314.0,74.3 313.0,74.3 313.0,73.6 312.0,73.6 312.0,73.7 311.0,73.7 311.0,74.0 310.0,74.0 310.0,73.8 309.0,73.8 309.0,74.1 308.0,74.1 308.0,74.2 307.0,74.2 307.0,74.2 306.0,74.2 306.0,74.3 305.0,74.3 305.0,74.2 304.0,74.2 304.0,73.9 303.0,73.9 303.0,74.0 302.0,74.0 302.0,74.2 301.0,74.2 301.0,74.3 300.0,74.3 300.0,74.4 299.0,74.4 299.0,74.3 298.0,74.3 298.0,74.0 297.0,74.0 297.0,74.4 296.0,74.4 296.0,74.6 295.0,74.6 295.0,74.1 294.0,74.1 294.0,74.2 293.0,74.2 293.0,74.1 292.0,74.1 292.0,74.3 291.0,74.3 291.0,74.2 290.0,74.2 290.0,74.5 289.0,74.5 289.0,74.3 288.0,74.3 288.0,74.6 287.0,74.6 287.0,74.4 286.0,74.4 286.0,74.0 285.0,74.0 285.0,74.4 284.0,74.4 284.0,74.8 283.0,74.8 283.0,74.7 282.0,74.7 282.0,74.5 281.0,74.5 281.0,74.5 280.0,74.5 280.0,74.1 279.0,74.1 279.0,74.4 278.0,74.4 278.0,74.7 277.0,74.7 277.0,74.5 276.0,74.5 276.0,74.8 275.0,74.8 275.0,74.8 274.0,74.8 274.0,74.5 273.0,74.5 273.0,74.2 272.0,74.2 272.0,74.2 271.0,74.2 271.0,74.3 270.0,74.3 270.0,74.4 269.0,74.4 269.0,74.9 268.0,74.9 268.0,74.8 267.0,74.8Z" fill="#0000ff" fill-opacity="1"/>
<path d="M371.0,199.5 372.0,199.5 372.0,199.3 373.0,199.3 373.0,199.5 374.0,199.5 374.0,199.8 375.0,199.8 375.0,199.7 376.0,199.7 376.0,200.1 377.0,200.1 377.0,199.5 378.0,199.5 378.0,199.8 379.0,199.8 379.0,200.0 380.0,200.0 380.0,200.2 381.0,200.2 381.0,199.8 382.0,199.8 382.0,200.4 383.0,200.4 383.0,199.9 384.0,199.9 384.0,200.1 385.0,200.1 385.0,199.9 386.0,199.9 386.0,200.3 387.0,200.3 387.0,200.6 388.0,200.6 388.0,200.6 389.0,200.6 389.0,200.5 390.0,200.5 390.0,200.5 391.0,200.5 391.0,200.7 392.0,200.7 392.0,200.1 393.0,200.1 393.0,200.9 394.0,200.9 394.0,200.3 395.0,200.3 395.0,200.5 396.0,200.5 396.0,200.6 397.0,200.6 397.0,201.0 398.0,201.0 398.0,200.4 399.0,200.4 399.0,200.7 400.0,200.7 400.0,200.5 401.0,200.5 401.0,200.4 402.0,200.4 402.0,200.6 403.0,200.6 403.0,201.0 404.0,201.0 404.0,201.1 405.0,201.1 405.0,201.2 406.0,201.2 406.0,200.9 407.0,200.9 407.0,201.0 408.0,201.0 408.0,200.7 409.0,200.7 409.0,200.9 410.0,200.9 410.0,201.3 411.0,201.3 411.0,201.2 412.0,201.2 412.0,201.0 413.0,201.0 413.0,201.0 414.0,201.0 414.0,201.2 415.0,201.2 415.0,200.8 416.0,200.8 416.0,201.4 417.0,201.4 417.0,201.4 418.0,201.4 418.0,200.9 419.0,200.9 419.0,201.0 420.0,201.0 420.0,201.0 421.0,201.0 421.0,201.1 422.0,201.1 422.0,201.6 423.0,201.6 423.0,201.1 424.0,201.1 424.0,201.2 425.0,201.2 425.0,201.3 426.0,201.3 426.0,201.7 427.0,201.7 427.0,201.6 428.0,201.6 428.0,201.4 429.0,201.4 429.0,201.6 430.0,201.6 430.0,201.3 431.0,201.3 431.0,201.3 432.0,201.3 432.0,201.8 433.0,201.8 433.0,201.7 434.0,201.7 434.0,201.2 435.0,201.2 435.0,201.8 436.0,201.8 436.0,201.8 437.0,201.8 437.0,201.2 438.0,201.2 438.0,201.6 439.0,201.6 439.0,201.3 440.0,201.3 440.0,201.4 441.0,201.4 441.0,201.8 442.0,201.8 442.0,201.4 443.0,201.4 443.0,201.9 444.0,201.9 444.0,201.8 445.0,201.8 445.0,201.9 446.0,201.9 446.0,201.3 447.0,201.3 447.0,201.9 448.0,201.9 448.0,201.8 449.0,201.8 449.0,202.0 450.0,202.0 450.0,202.0 451.0,202.0 451.0,201.5 452.0,201.5 452.0,201.7 453.0,201.7 453.0,201.9 454.0,201.9 454.0,201.8 455.0,201.8 455.0,201.3 456.0,201.3 456.0,202.0 457.0,202.0 457.0,201.4 458.0,201.4 458.0,201.6 459.0,201.6 459.0,201.4 460.0,201.4 460.0,201.5 461.0,201.5 461.0,202.0 462.0,202.0 462.0,201.5 463.0,201.5 463.0,202.0 464.0,202.0 464.0,201.4 465.0,201.4 465.0,201.7 466.0,201.7 466.0,202.0 467.0,202.0 467.0,201.6 468.0,201.6 468.0,202.1 469.0,202.1 469.0,201.7 470.0,201.7 470.0,202.0 471.0,202.0 471.0,201.7 472.0,201.7 472.0,201.6 473.0,201.6 473.0,202.1 474.0,202.1 474.0,201.7 475.0,201.7 475.0,201.7 476.0,201.7 476.0,201.6 477.0,201.6 477.0,201.6 478.0,201.6 478.0,201.9 479.0,201.9 479.0,201.5 480.0,201.5 480.0,201.6 481.0,201.6 481.0,202.1 482.0,202.1 482.0,207.5 481.0,207.5 481.0,207.1 480.0,207.1 480.0,207.3 479.0,207.3 479.0,206.9 478.0,206.9 478.0,207.5 477.0,207.5 477.0,207.1 476.0,207.1 476.0,206.9 475.0,206.9 475.0,207.2 474.0,207.2 474.0,206.9 473.0,206.9 473.0,207.3 472.0,207.3 472.0,207.4 471.0,207.4 471.0,207.0 470.0,207.0 470.0,207.2 469.0,207.2 469.0,206.9 468.0,206.9 468.0,207.0 467.0,207.0 467.0,207.4 466.0,207.4 466.0,206.9 465.0,206.9 465.0,207.0 464.0,207.0 464.0,207.1 463.0,207.1 463.0,207.2 462.0,207.2 462.0,206.8 461.0,206.8 461.0,207.0 460.0,207.0 460.0,206.8 459.0,206.8 459.0,207.0 458.0,207.0 458.0,206.8 457.0,206.8 457.0,206.9 456.0,206.9 456.0,207.4 455.0,207.4 455.0,207.5 454.0,207.5 454.0,206.8 453.0,206.8 453.0,206.9 452.0,206.9 452.0,206.8 451.0,206.8 451.0,207.4 450.0,207.4 450.0,207.4 449.0,207.4 449.0,207.4 448.0,207.4 448.0,207.0 447.0,207.0 447.0,206.9 446.0,206.9 446.0,206.8 445.0,206.8 445.0,206.9 444.0,206.9 444.0,207.3 443.0,207.3 443.0,207.0 442.0,207.0 442.0,206.6 441.0,206.6 441.0,206.7 440.0,206.7 440.0,206.9 439.0,206.9 439.0,206.8 438.0,206.8 438.0,207.0 437.0,207.0 437.0,207.2 436.0,207.2 436.0,206.8 435.0,206.8 435.0,207.2 434.0,207.2 434.0,207.2 433.0,207.2 433.0,207.2 432.0,207.2 432.0,206.6 431.0,206.6 431.0,206.4 430.0,206.4 430.0,206.5 429.0,206.5 429.0,206.5 428.0,206.5 428.0,206.5 427.0,206.5 427.0,206.6 426.0,206.6 426.0,206.9 425.0,206.9 425.0,206.6 424.0,206.6 424.0,207.0 423.0,207.0 423.0,206.4 422.0,206.4 422.0,207.0 421.0,207.0 421.0,206.8 420.0,206.8 420.0,206.3 419.0,206.3 419.0,206.9 418.0,206.9 418.0,206.5 417.0,206.5 417.0,206.2 416.0,206.2 416.0,206.9 415.0,206.9 415.0,206.2 414.0,206.2 414.0,206.4 413.0,206.4 413.0,206.8 412.0,206.8 412.0,206.5 411.0,206.5 411.0,206.8 410.0,206.8 410.0,206.3 409.0,206.3 409.0,206.0 408.0,206.0 408.0,206.7 407.0,206.7 407.0,206.6 406.0,206.6 406.0,205.9 405.0,205.9 405.0,206.0 404.0,206.0 404.0,205.9 403.0,205.9 403.0,206.6 402.0,206.6 402.0,206.4 401.0,206.4 401.0,206.1 400.0,206.1 400.0,205.9 399.0,205.9 399.0,206.1 398.0,206.1 398.0,206.5 397.0,206.5 397.0,205.7 396.0,205.7 396.0,205.9 395.0,205.9 395.0,205.7 394.0,205.7 394.0,206.0 393.0,206.0 393.0,205.8 392.0,205.8 392.0,205.5 391.0,205.5 391.0,205.8 390.0,205.8 390.0,205.8 389.0,205.8 389.0,205.9 388.0,205.9 388.0,205.5 387.0,205.5 387.0,205.7 386.0,205.7 386.0,205.7 385.0,205.7 385.0,205.9 384.0,205.9 384.0,205.3 383.0,205.3 383.0,205.7 382.0,205.7 382.0,205.4 381.0,205.4 381.0,205.6 380.0,205.6 380.0,205.1 379.0,205.1 379.0,205.5 378.0,205.5 378.0,205.1 377.0,205.1 377.0,205.4 376.0,205.4 376.0,205.4 375.0,205.4 375.0,204.8 374.0,204.8 374.0,205.4 373.0,205.4 373.0,205.3 372.0,205.3 372.0,204.8 371.0,204.8Z" fill="#0000ff" fill-opacity="1"/>
<path d="M483.0,69.3 484.0,69.3 484.0,69.3 485.0,69.3 485.0,69.6 486.0,69.6 486.0,69.2 487.0,69.2 487.0,69.4 488.0,69.4 488.0,68.9 489.0,68.9 489.0,69.3 490.0,69.3 490.0,69.2 491.0,69.2 491.0,69.4 492.0,69.4 492.0,68.7 493.0,68.7 493.0,69.1 494.0,69.1 494.0,69.0 495.0,69.0 495.0,68.7 496.0,68.7 496.0,69.3 497.0,69.3 497.0,69.2 498.0,69.2 498.0,69.4 499.0,69.4 499.0,68.8 500.0,68.8 500.0,69.4 501.0,69.4 501.0,68.9 502.0,68.9 502.0,68.8 503.0,68.8 503.0,68.6 504.0,68.6 504.0,69.3 505.0,69.3 505.0,68.9 506.0,68.9 506.0,69.1 507.0,69.1 507.0,69.0 508.0,69.0 508.0,68.8 509.0,68.8 509.0,69.1 510.0,69.1 510.0,68.6 511.0,68.6 511.0,68.6 512.0,68.6 512.0,68.9 513.0,68.9 513.0,68.5 514.0,68.5 514.0,68.9 515.0,68.9 515.0,68.5 516.0,68.5 516.0,69.0 517.0,69.0 517.0,68.8 518.0,68.8 518.0,68.5 519.0,68.5 519.0,68.5 520.0,68.5 520.0,69.1 521.0,69.1 521.0,68.3 522.0,68.3 522.0,68.9 523.0,68.9 523.0,74.0 522.0,74.0 522.0,74.4 521.0,74.4 521.0,74.1 520.0,74.1 520.0,74.4 519.0,74.4 519.0,74.5 518.0,74.5 518.0,74.5 517.0,74.5 517.0,74.0 516.0,74.0 516.0,74.0 515.0,74.0 515.0,74.5 514.0,74.5 514.0,74.2 513.0,74.2 513.0,74.1 512.0,74.1 512.0,74.6 511.0,74.6 511.0,74.0 510.0,74.0 510.0,74.3 509.0,74.3 509.0,74.6 508.0,74.6 508.0,74.0 507.0,74.0 507.0,74.0 506.0,74.0 506.0,74.3 505.0,74.3 505.0,74.0 504.0,74.0 504.0,74.5 503.0,74.5 503.0,74.0 502.0,74.0 502.0,74.4 501.0,74.4 501.0,74.4 500.0,74.4 500.0,74.1 499.0,74.1 499.0,74.1 498.0,74.1 498.0,74.7 497.0,74.7 497.0,74.1 496.0,74.1 496.0,74.2 495.0,74.2 495.0,74.1 494.0,74.1 494.0,74.5 493.0,74.5 493.0,74.5 492.0,74.5 492.0,74.8 491.0,74.8 491.0,74.7 490.0,74.7 490.0,74.7 489.0,74.7 489.0,74.8 488.0,74.8 488.0,74.7 487.0,74.7 487.0,74.6 486.0,74.6 486.0,74.6 485.0,74.6 485.0,74.7 484.0,74.7 484.0,74.3 483.0,74.3Z" fill="#0000ff" fill-opacity="1"/>
<g stroke="#9dffff" stroke-width="1" fill="none">
<path d="M50.5 305 L52.0 241"/>
<path d="M266.5 305 L268.0 241"/>
<path d="M482.5 305 L484.0 241"/>
<path d="M153.9 304 L155.0 368"/>
<path d="M369.5 304 L370.6 368"/>
</g>
<path d="M22.0,302.8 22.5,302.8 22.5,302.9 23.0,302.9 23.0,303.0 23.5,303.0 23.5,303.5 24.0,303.5 24.0,302.3 24.5,302.3 24.5,302.3 25.0,302.3 25.0,302.4 25.5,302.4 25.5,302.3 26.0,302.3 26.0,302.6 26.5,302.6 26.5,302.5 27.0,302.5 27.0,302.7 27.5,302.7 27.5,302.5 28.0,302.5 28.0,302.6 28.5,302.6 28.5,302.1 29.0,302.1 29.0,302.8 29.5,302.8 29.5,303.0 30.0,303.0 30.0,302.0 30.5,302.0 30.5,302.8 31.0,302.8 31.0,302.5 31.5,302.5 31.5,303.0 32.0,303.0 32.0,302.7 32.5,302.7 32.5,302.7 33.0,302.7 33.0,302.9 33.5,302.9 33.5,302.0 34.0,302.0 34.0,302.3 34.5,302.3 34.5,302.8 35.0,302.8 35.0,302.4 35.5,302.4 35.5,302.2 36.0,302.2 36.0,302.6 36.5,302.6 36.5,302.7 37.0,302.7 37.0,302.4 37.5,302.4 37.5,302.9 38.0,302.9 38.0,301.8 38.5,301.8 38.5,302.2 39.0,302.2 39.0,302.5 39.5,302.5 39.5,302.5 40.0,302.5 40.0,302.6 40.5,302.6 40.5,301.8 41.0,301.8 41.0,302.7 41.5,302.7 41.5,302.2 42.0,302.2 42.0,302.6 42.5,302.6 42.5,301.6 43.0,301.6 43.0,302.6 43.5,302.6 43.5,302.3 44.0,302.3 44.0,302.0 44.5,302.0 44.5,301.7 45.0,301.7 45.0,301.8 45.5,301.8 45.5,301.8 46.0,301.8 46.0,301.7 46.5,301.7 46.5,301.6 47.0,301.6 47.0,301.6 47.5,301.6 47.5,301.7 48.0,301.7 48.0,302.0 48.5,302.0 48.5,301.9 49.0,301.9 49.0,301.7 49.5,301.7 49.5,301.9 50.0,301.9 50.0,302.0 50.5,302.0 50.5,308.1 50.0,308.1 50.0,308.1 49.5,308.1 49.5,308.7 49.0,308.7 49.0,308.1 48.5,308.1 48.5,308.8 48.0,308.8 48.0,308.3 47.5,308.3 47.5,307.7 47.0,307.7 47.0,307.8 46.5,307.8 46.5,308.5 46.0,308.5 46.0,308.3 45.5,308.3 45.5,308.6 45.0,308.6 45.0,308.3 44.5,308.3 44.5,308.7 44.0,308.7 44.0,308.5 43.5,308.5 43.5,308.1 43.0,308.1 43.0,308.6 42.5,308.6 42.5,308.0 42.0,308.0 42.0,308.7 41.5,308.7 41.5,308.3 41.0,308.3 41.0,308.3 40.5,308.3 40.5,307.9 40.0,307.9 40.0,308.8 39.5,308.8 39.5,309.0 39.0,309.0 39.0,308.4 38.5,308.4 38.5,308.2 38.0,308.2 38.0,308.3 37.5,308.3 37.5,308.6 37.0,308.6 37.0,308.5 36.5,308.5 36.5,308.2 36.0,308.2 36.0,308.5 35.5,308.5 35.5,308.6 35.0,308.6 35.0,308.8 34.5,308.8 34.5,308.8 34.0,308.8 34.0,308.8 33.5,308.8 33.5,308.7 33.0,308.7 33.0,308.4 32.5,308.4 32.5,308.6 32.0,308.6 32.0,308.3 31.5,308.3 31.5,308.3 31.0,308.3 31.0,308.7 30.5,308.7 30.5,308.8 30.0,308.8 30.0,308.9 29.5,308.9 29.5,309.0 29.0,309.0 29.0,308.6 28.5,308.6 28.5,308.8 28.0,308.8 28.0,308.6 27.5,308.6 27.5,309.4 27.0,309.4 27.0,308.7 26.5,308.7 26.5,308.7 26.0,308.7 26.0,308.4 25.5,308.4 25.5,309.5 25.0,309.5 25.0,309.2 24.5,309.2 24.5,309.4 24.0,309.4 24.0,308.7 23.5,308.7 23.5,309.1 23.0,309.1 23.0,308.6 22.5,308.6 22.5,309.0 22.0,309.0Z" fill="#8cffff" fill-opacity="0.8"/>
<path d="M52.0,240.6 52.5,240.6 52.5,242.4 53.0,242.4 53.0,243.7 53.5,243.7 53.5,244.5 54.0,244.5 54.0,246.1 54.5,246.1 54.5,247.8 55.0,247.8 55.0,249.0 55.5,249.0 55.5,249.7 56.0,249.7 56.0,250.4 56.5,250.4 56.5,251.7 57.0,251.7 57.0,252.7 57.5,252.7 57.5,254.4 58.0,254.4 58.0,255.9 58.5,255.9 58.5,256.3 59.0,256.3 59.0,256.9 59.5,256.9 59.5,258.4 60.0,258.4 60.0,259.4 60.5,259.4 60.5,260.1 61.0,260.1 61.0,261.4 61.5,261.4 61.5,262.3 62.0,262.3 62.0,262.8 62.5,262.8 62.5,264.4 63.0,264.4 63.0,264.9 63.5,264.9 63.5,265.5 64.0,265.5 64.0,265.8 64.5,265.8 64.5,267.3 65.0,267.3 65.0,267.4 65.5,267.4 65.5,268.7 66.0,268.7 66.0,269.8 66.5,269.8 66.5,269.6 67.0,269.6 67.0,270.9 67.5,270.9 67.5,271.1 68.0,271.1 68.0,271.9 68.5,271.9 68.5,272.4 69.0,272.4 69.0,274.0 69.5,274.0 69.5,274.2 70.0,274.2 70.0,275.2 70.5,275.2 70.5,275.2 71.0,275.2 71.0,276.2 71.5,276.2 71.5,276.4 72.0,276.4 72.0,277.2 72.5,277.2 72.5,277.9 73.0,277.9 73.0,278.8 73.5,278.8 73.5,278.3 74.0,278.3 74.0,279.1 74.5,279.1 74.5,279.8 75.0,279.8 75.0,280.5 75.5,280.5 75.5,280.7 76.0,280.7 76.0,281.1 76.5,281.1 76.5,282.1 77.0,282.1 77.0,281.8 77.5,281.8 77.5,283.0 78.0,283.0 78.0,282.9 78.5,282.9 78.5,283.3 79.0,283.3 79.0,284.3 79.5,284.3 79.5,283.9 80.0,283.9 80.0,284.3 80.5,284.3 80.5,285.4 81.0,285.4 81.0,285.8 81.5,285.8 81.5,285.6 82.0,285.6 82.0,286.1 82.5,286.1 82.5,286.9 83.0,286.9 83.0,286.7 83.5,286.7 83.5,287.2 84.0,287.2 84.0,287.7 84.5,287.7 84.5,287.2 85.0,287.2 85.0,288.3 85.5,288.3 85.5,288.0 86.0,288.0 86.0,288.5 86.5,288.5 86.5,288.9 87.0,288.9 87.0,289.5 87.5,289.5 87.5,289.2 88.0,289.2 88.0,290.0 88.5,290.0 88.5,290.1 89.0,290.1 89.0,290.6 89.5,290.6 89.5,290.7 90.0,290.7 90.0,290.2 90.5,290.2 90.5,291.0 91.0,291.0 91.0,291.2 91.5,291.2 91.5,291.6 92.0,291.6 92.0,292.2 92.5,292.2 92.5,292.1 93.0,292.1 93.0,292.5 93.5,292.5 93.5,292.7 94.0,292.7 94.0,292.4 94.5,292.4 94.5,293.2 95.0,293.2 95.0,293.5 95.5,293.5 95.5,292.8 96.0,292.8 96.0,293.4 96.5,293.4 96.5,293.2 97.0,293.2 97.0,293.9 97.5,293.9 97.5,294.1 98.0,294.1 98.0,294.4 98.5,294.4 98.5,294.3 99.0,294.3 99.0,294.5 99.5,294.5 99.5,294.3 100.0,294.3 100.0,294.3 100.5,294.3 100.5,295.1 101.0,295.1 101.0,294.9 101.5,294.9 101.5,294.8 102.0,294.8 102.0,295.3 102.5,295.3 102.5,295.8 103.0,295.8 103.0,295.8 103.5,295.8 103.5,295.7 104.0,295.7 104.0,296.0 104.5,296.0 104.5,296.4 105.0,296.4 105.0,296.4 105.5,296.4 105.5,296.7 106.0,296.7 106.0,296.5 106.5,296.5 106.5,296.7 107.0,296.7 107.0,296.8 107.5,296.8 107.5,297.2 108.0,297.2 108.0,297.1 108.5,297.1 108.5,296.5 109.0,296.5 109.0,296.6 109.5,296.6 109.5,297.6 110.0,297.6 110.0,297.8 110.5,297.8 110.5,297.2 111.0,297.2 111.0,297.5 111.5,297.5 111.5,297.3 112.0,297.3 112.0,297.2 112.5,297.2 112.5,297.6 113.0,297.6 113.0,298.3 113.5,298.3 113.5,297.6 114.0,297.6 114.0,298.5 114.5,298.5 114.5,298.5 115.0,298.5 115.0,298.4 115.5,298.4 115.5,298.8 116.0,298.8 116.0,298.1 116.5,298.1 116.5,298.0 117.0,298.0 117.0,298.2 117.5,298.2 117.5,298.6 118.0,298.6 118.0,298.8 118.5,298.8 118.5,298.2 119.0,298.2 119.0,299.0 119.5,299.0 119.5,298.4 120.0,298.4 120.0,299.4 120.5,299.4 120.5,299.4 121.0,299.4 121.0,299.3 121.5,299.3 121.5,298.7 122.0,298.7 122.0,298.8 122.5,298.8 122.5,298.8 123.0,298.8 123.0,299.5 123.5,299.5 123.5,298.7 124.0,298.7 124.0,298.8 124.5,298.8 124.5,299.1 125.0,299.1 125.0,299.2 125.5,299.2 125.5,300.0 126.0,300.0 126.0,299.6 126.5,299.6 126.5,299.0 127.0,299.0 127.0,299.3 127.5,299.3 127.5,299.4 128.0,299.4 128.0,300.0 128.5,300.0 128.5,299.2 129.0,299.2 129.0,299.7 129.5,299.7 129.5,300.3 130.0,300.3 130.0,300.0 130.5,300.0 130.5,300.1 131.0,300.1 131.0,299.7 131.5,299.7 131.5,300.3 132.0,300.3 132.0,300.0 132.5,300.0 132.5,299.5 133.0,299.5 133.0,300.3 133.5,300.3 133.5,300.5 134.0,300.5 134.0,300.3 134.5,300.3 134.5,300.1 135.0,300.1 135.0,300.6 135.5,300.6 135.5,300.1 136.0,300.1 136.0,299.9 136.5,299.9 136.5,300.8 137.0,300.8 137.0,300.5 137.5,300.5 137.5,300.9 138.0,300.9 138.0,300.7 138.5,300.7 138.5,300.5 139.0,300.5 139.0,300.6 139.5,300.6 139.5,300.6 140.0,300.6 140.0,301.0 140.5,301.0 140.5,299.9 141.0,299.9 141.0,301.0 141.5,301.0 141.5,300.0 142.0,300.0 142.0,301.1 142.5,301.1 142.5,300.7 143.0,300.7 143.0,300.6 143.5,300.6 143.5,300.1 144.0,300.1 144.0,300.5 144.5,300.5 144.5,300.5 145.0,300.5 145.0,301.0 145.5,301.0 145.5,301.3 146.0,301.3 146.0,300.3 146.5,300.3 146.5,301.1 147.0,301.1 147.0,300.4 147.5,300.4 147.5,301.2 148.0,301.2 148.0,300.4 148.5,300.4 148.5,301.1 149.0,301.1 149.0,300.5 149.5,300.5 149.5,301.0 150.0,301.0 150.0,301.1 150.5,301.1 150.5,301.2 151.0,301.2 151.0,300.8 151.5,300.8 151.5,300.6 152.0,300.6 152.0,300.5 152.5,300.5 152.5,301.0 153.0,301.0 153.0,301.4 153.5,301.4 153.5,300.9 154.0,300.9 154.0,300.8 154.5,300.8 154.5,306.8 154.0,306.8 154.0,306.7 153.5,306.7 153.5,306.9 153.0,306.9 153.0,307.2 152.5,307.2 152.5,307.7 152.0,307.7 152.0,307.4 151.5,307.4 151.5,307.3 151.0,307.3 151.0,306.6 150.5,306.6 150.5,307.5 150.0,307.5 150.0,307.1 149.5,307.1 149.5,306.8 149.0,306.8 149.0,306.7 148.5,306.7 148.5,307.3 148.0,307.3 148.0,307.4 147.5,307.4 147.5,307.5 147.0,307.5 147.0,307.1 146.5,307.1 146.5,306.7 146.0,306.7 146.0,307.3 145.5,307.3 145.5,306.5 145.0,306.5 145.0,306.6 144.5,306.6 144.5,307.4 144.0,307.4 144.0,307.0 143.5,307.0 143.5,306.2 143.0,306.2 143.0,306.4 142.5,306.4 142.5,306.8 142.0,306.8 142.0,306.8 141.5,306.8 141.5,307.0 141.0,307.0 141.0,307.0 140.5,307.0 140.5,306.1 140.0,306.1 140.0,306.3 139.5,306.3 139.5,306.6 139.0,306.6 139.0,306.1 138.5,306.1 138.5,306.8 138.0,306.8 138.0,306.3 137.5,306.3 137.5,306.2 137.0,306.2 137.0,306.2 136.5,306.2 136.5,306.9 136.0,306.9 136.0,306.4 135.5,306.4 135.5,306.6 135.0,306.6 135.0,306.7 134.5,306.7 134.5,306.7 134.0,306.7 134.0,306.4 133.5,306.4 133.5,306.7 133.0,306.7 133.0,306.1 132.5,306.1 132.5,306.1 132.0,306.1 132.0,305.9 131.5,305.9 131.5,306.3 131.0,306.3 131.0,305.7 130.5,305.7 130.5,305.7 130.0,305.7 130.0,305.8 129.5,305.8 129.5,305.7 129.0,305.7 129.0,306.1 128.5,306.1 128.5,305.9 128.0,305.9 128.0,306.2 127.5,306.2 127.5,305.2 127.0,305.2 127.0,305.3 126.5,305.3 126.5,305.7 126.0,305.7 126.0,305.9 125.5,305.9 125.5,305.5 125.0,305.5 125.0,305.9 124.5,305.9 124.5,305.7 124.0,305.7 124.0,305.4 123.5,305.4 123.5,304.9 123.0,304.9 123.0,305.7 122.5,305.7 122.5,305.2 122.0,305.2 122.0,304.7 121.5,304.7 121.5,305.7 121.0,305.7 121.0,305.5 120.5,305.5 120.5,304.7 120.0,304.7 120.0,305.1 119.5,305.1 119.5,304.4 119.0,304.4 119.0,305.2 118.5,305.2 118.5,304.2 118.0,304.2 118.0,304.9 117.5,304.9 117.5,304.3 117.0,304.3 117.0,304.6 116.5,304.6 116.5,304.1 116.0,304.1 116.0,304.2 115.5,304.2 115.5,304.2 115.0,304.2 115.0,303.9 114.5,303.9 114.5,303.6 114.0,303.6 114.0,304.3 113.5,304.3 113.5,304.5 113.0,304.5 113.0,303.5 112.5,303.5 112.5,303.7 112.0,303.7 112.0,303.4 111.5,303.4 111.5,303.8 111.0,303.8 111.0,303.4 110.5,303.4 110.5,303.7 110.0,303.7 110.0,303.1 109.5,303.1 109.5,303.7 109.0,303.7 109.0,303.5 108.5,303.5 108.5,302.9 108.0,302.9 108.0,303.2 107.5,303.2 107.5,302.5 107.0,302.5 107.0,302.2 106.5,302.2 106.5,302.6 106.0,302.6 106.0,302.5 105.5,302.5 105.5,302.5 105.0,302.5 105.0,302.6 104.5,302.6 104.5,301.6 104.0,301.6 104.0,301.7 103.5,301.7 103.5,302.0 103.0,302.0 103.0,302.0 102.5,302.0 102.5,301.6 102.0,301.6 102.0,300.9 101.5,300.9 101.5,300.9 101.0,300.9 101.0,300.8 100.5,300.8 100.5,301.1 100.0,301.1 100.0,300.5 99.5,300.5 99.5,300.2 99.0,300.2 99.0,300.1 98.5,300.1 98.5,300.8 98.0,300.8 98.0,300.7 97.5,300.7 97.5,300.2 97.0,300.2 97.0,299.4 96.5,299.4 96.5,300.0 96.0,300.0 96.0,298.9 95.5,298.9 95.5,298.9 95.0,298.9 95.0,299.2 94.5,299.2 94.5,298.6 94.0,298.6 94.0,298.0 93.5,298.0 93.5,298.1 93.0,298.1 93.0,297.9 92.5,297.9 92.5,298.3 92.0,298.3 92.0,297.2 91.5,297.2 91.5,297.3 91.0,297.3 91.0,296.8 90.5,296.8 90.5,296.8 90.0,296.8 90.0,296.4 89.5,296.4 89.5,296.1 89.0,296.1 89.0,296.6 88.5,296.6 88.5,296.4 88.0,296.4 88.0,295.4 87.5,295.4 87.5,295.3 87.0,295.3 87.0,295.7 86.5,295.7 86.5,295.4 86.0,295.4 86.0,294.3 85.5,294.3 85.5,294.7 85.0,294.7 85.0,294.4 84.5,294.4 84.5,293.1 84.0,293.1 84.0,293.4 83.5,293.4 83.5,293.5 83.0,293.5 83.0,293.1 82.5,293.1 82.5,292.1 82.0,292.1 82.0,291.7 81.5,291.7 81.5,292.0 81.0,292.0 81.0,290.9 80.5,290.9 80.5,290.6 80.0,290.6 80.0,290.2 79.5,290.2 79.5,289.4 79.0,289.4 79.0,290.0 78.5,290.0 78.5,289.6 78.0,289.6 78.0,288.3 77.5,288.3 77.5,287.8 77.0,287.8 77.0,287.4 76.5,287.4 76.5,287.3 76.0,287.3 76.0,287.5 75.5,287.5 75.5,286.6 75.0,286.6 75.0,286.0 74.5,286.0 74.5,285.1 74.0,285.1 74.0,285.0 73.5,285.0 73.5,284.2 73.0,284.2 73.0,284.1 72.5,284.1 72.5,283.7 72.0,283.7 72.0,282.2 71.5,282.2 71.5,282.8 71.0,282.8 71.0,281.7 70.5,281.7 70.5,280.6 70.0,280.6 70.0,280.4 69.5,280.4 69.5,279.5 69.0,279.5 69.0,279.0 68.5,279.0 68.5,279.0 68.0,279.0 68.0,278.0 67.5,278.0 67.5,276.6 67.0,276.6 67.0,276.8 66.5,276.8 66.5,275.4 66.0,275.4 66.0,275.3 65.5,275.3 65.5,274.0 65.0,274.0 65.0,273.5 64.5,273.5 64.5,272.6 64.0,272.6 64.0,272.2 63.5,272.2 63.5,271.0 63.0,271.0 63.0,270.0 62.5,270.0 62.5,269.3 62.0,269.3 62.0,268.9 61.5,268.9 61.5,267.6 61.0,267.6 61.0,266.4 60.5,266.4 60.5,265.6 60.0,265.6 60.0,265.2 59.5,265.2 59.5,263.9 59.0,263.9 59.0,262.6 58.5,262.6 58.5,261.0 58.0,261.0 58.0,261.0 57.5,261.0 57.5,259.0 57.0,259.0 57.0,258.7 56.5,258.7 56.5,256.9 56.0,256.9 56.0,255.5 55.5,255.5 55.5,254.9 55.0,254.9 55.0,253.3 54.5,253.3 54.5,252.3 54.0,252.3 54.0,251.5 53.5,251.5 53.5,249.5 53.0,249.5 53.0,248.5 52.5,248.5 52.5,246.8 52.0,246.8Z" fill="#8cffff" fill-opacity="0.8"/>
<path d="M155.2,361.9 155.7,361.9 155.7,361.0 156.2,361.0 156.2,359.2 156.7,359.2 156.7,357.6 157.2,357.6 157.2,356.2 157.7,356.2 157.7,355.0 158.2,355.0 158.2,354.4 158.7,354.4 158.7,352.9 159.2,352.9 159.2,352.0 159.7,352.0 159.7,350.5 160.2,350.5 160.2,349.1 160.7,349.1 160.7,348.7 161.2,348.7 161.2,347.4 161.7,347.4 161.7,346.8 162.2,346.8 162.2,345.6 162.7,345.6 162.7,343.9 163.2,343.9 163.2,343.0 163.7,343.0 163.7,342.0 164.2,342.0 164.2,341.2 164.7,341.2 164.7,340.5 165.2,340.5 165.2,340.1 165.7,340.1 165.7,338.4 166.2,338.4 166.2,337.9 166.7,337.9 166.7,337.5 167.2,337.5 167.2,337.1 167.7,337.1 167.7,335.5 168.2,335.5 168.2,335.4 168.7,335.4 168.7,334.4 169.2,334.4 169.2,333.6 169.7,333.6 169.7,332.7 170.2,332.7 170.2,332.5 170.7,332.5 170.7,330.9 171.2,330.9 171.2,331.2 171.7,331.2 171.7,330.3 172.2,330.3 172.2,329.4 172.7,329.4 172.7,328.8 173.2,328.8 173.2,328.5 173.7,328.5 173.7,328.0 174.2,328.0 174.2,326.9 174.7,326.9 174.7,326.5 175.2,326.5 175.2,325.9 175.7,325.9 175.7,325.3 176.2,325.3 176.2,324.5 176.7,324.5 176.7,323.7 177.2,323.7 177.2,324.2 177.7,324.2 177.7,323.4 178.2,323.4 178.2,322.2 178.7,322.2 178.7,322.0 179.2,322.0 179.2,321.5 179.7,321.5 179.7,321.7 180.2,321.7 180.2,321.5 180.7,321.5 180.7,320.8 181.2,320.8 181.2,319.8 181.7,319.8 181.7,319.2 182.2,319.2 182.2,318.8 182.7,318.8 182.7,318.4 183.2,318.4 183.2,318.9 183.7,318.9 183.7,318.3 184.2,318.3 184.2,317.5 184.7,317.5 184.7,317.8 185.2,317.8 185.2,316.7 185.7,316.7 185.7,316.4 186.2,316.4 186.2,316.2 186.7,316.2 186.7,315.9 187.2,315.9 187.2,316.1 187.7,316.1 187.7,315.1 188.2,315.1 188.2,315.4 188.7,315.4 188.7,314.3 189.2,314.3 189.2,314.9 189.7,314.9 189.7,314.6 190.2,314.6 190.2,314.2 190.7,314.2 190.7,313.8 191.2,313.8 191.2,313.5 191.7,313.5 191.7,312.6 192.2,312.6 192.2,312.6 192.7,312.6 192.7,312.0 193.2,312.0 193.2,312.5 193.7,312.5 193.7,312.1 194.2,312.1 194.2,311.5 194.7,311.5 194.7,312.0 195.2,312.0 195.2,311.2 195.7,311.2 195.7,311.2 196.2,311.2 196.2,310.5 196.7,310.5 196.7,310.3 197.2,310.3 197.2,311.0 197.7,311.0 197.7,310.7 198.2,310.7 198.2,310.0 198.7,310.0 198.7,310.3 199.2,310.3 199.2,309.8 199.7,309.8 199.7,309.7 200.2,309.7 200.2,310.0 200.7,310.0 200.7,309.4 201.2,309.4 201.2,309.1 201.7,309.1 201.7,309.4 202.2,309.4 202.2,308.5 202.7,308.5 202.7,308.8 203.2,308.8 203.2,308.7 203.7,308.7 203.7,308.2 204.2,308.2 204.2,307.5 204.7,307.5 204.7,307.9 205.2,307.9 205.2,307.4 205.7,307.4 205.7,307.5 206.2,307.5 206.2,307.7 206.7,307.7 206.7,307.0 207.2,307.0 207.2,306.7 207.7,306.7 207.7,307.4 208.2,307.4 208.2,306.7 208.7,306.7 208.7,306.7 209.2,306.7 209.2,306.7 209.7,306.7 209.7,307.2 210.2,307.2 210.2,306.8 210.7,306.8 210.7,306.5 211.2,306.5 211.2,306.6 211.7,306.6 211.7,306.4 212.2,306.4 212.2,306.7 212.7,306.7 212.7,306.1 213.2,306.1 213.2,305.8 213.7,305.8 213.7,306.2 214.2,306.2 214.2,306.0 214.7,306.0 214.7,305.4 215.2,305.4 215.2,305.0 215.7,305.0 215.7,304.9 216.2,304.9 216.2,305.9 216.7,305.9 216.7,305.2 217.2,305.2 217.2,305.4 217.7,305.4 217.7,305.2 218.2,305.2 218.2,305.6 218.7,305.6 218.7,304.5 219.2,304.5 219.2,305.2 219.7,305.2 219.7,305.2 220.2,305.2 220.2,304.5 220.7,304.5 220.7,304.8 221.2,304.8 221.2,304.5 221.7,304.5 221.7,304.4 222.2,304.4 222.2,304.2 222.7,304.2 222.7,304.3 223.2,304.3 223.2,304.0 223.7,304.0 223.7,304.5 224.2,304.5 224.2,304.6 224.7,304.6 224.7,303.7 225.2,303.7 225.2,303.6 225.7,303.6 225.7,304.3 226.2,304.3 226.2,303.8 226.7,303.8 226.7,303.7 227.2,303.7 227.2,304.4 227.7,304.4 227.7,304.4 228.2,304.4 228.2,304.0 228.7,304.0 228.7,303.6 229.2,303.6 229.2,303.7 229.7,303.7 229.7,303.1 230.2,303.1 230.2,303.0 230.7,303.0 230.7,303.4 231.2,303.4 231.2,303.7 231.7,303.7 231.7,303.9 232.2,303.9 232.2,303.1 232.7,303.1 232.7,303.0 233.2,303.0 233.2,303.3 233.7,303.3 233.7,303.2 234.2,303.2 234.2,303.1 234.7,303.1 234.7,302.9 235.2,302.9 235.2,302.9 235.7,302.9 235.7,302.8 236.2,302.8 236.2,302.8 236.7,302.8 236.7,303.1 237.2,303.1 237.2,303.0 237.7,303.0 237.7,303.5 238.2,303.5 238.2,303.0 238.7,303.0 238.7,302.6 239.2,302.6 239.2,302.3 239.7,302.3 239.7,302.6 240.2,302.6 240.2,303.4 240.7,303.4 240.7,303.4 241.2,303.4 241.2,302.7 241.7,302.7 241.7,302.3 242.2,302.3 242.2,303.2 242.7,303.2 242.7,302.4 243.2,302.4 243.2,303.1 243.7,303.1 243.7,302.3 244.2,302.3 244.2,302.1 244.7,302.1 244.7,302.5 245.2,302.5 245.2,302.2 245.7,302.2 245.7,302.8 246.2,302.8 246.2,303.0 246.7,303.0 246.7,303.1 247.2,303.1 247.2,302.6 247.7,302.6 247.7,303.0 248.2,303.0 248.2,302.6 248.7,302.6 248.7,301.9 249.2,301.9 249.2,302.8 249.7,302.8 249.7,302.7 250.2,302.7 250.2,302.7 250.7,302.7 250.7,302.1 251.2,302.1 251.2,302.6 251.7,302.6 251.7,302.7 252.2,302.7 252.2,302.7 252.7,302.7 252.7,301.9 253.2,301.9 253.2,302.0 253.7,302.0 253.7,302.5 254.2,302.5 254.2,302.3 254.7,302.3 254.7,302.7 255.2,302.7 255.2,302.1 255.7,302.1 255.7,302.1 256.2,302.1 256.2,302.6 256.7,302.6 256.7,302.4 257.2,302.4 257.2,301.7 257.7,301.7 257.7,301.7 258.2,301.7 258.2,302.4 258.7,302.4 258.7,302.6 259.2,302.6 259.2,302.7 259.7,302.7 259.7,302.5 260.2,302.5 260.2,302.6 260.7,302.6 260.7,301.9 261.2,301.9 261.2,302.3 261.7,302.3 261.7,301.8 262.2,301.8 262.2,301.5 262.7,301.5 262.7,302.4 263.2,302.4 263.2,301.8 263.7,301.8 263.7,302.0 264.2,302.0 264.2,302.1 264.7,302.1 264.7,302.6 265.2,302.6 265.2,302.2 265.7,302.2 265.7,302.5 266.2,302.5 266.2,302.4 266.7,302.4 266.7,308.1 266.2,308.1 266.2,308.2 265.7,308.2 265.7,308.7 265.2,308.7 265.2,308.8 264.7,308.8 264.7,307.8 264.2,307.8 264.2,307.9 263.7,307.9 263.7,307.7 263.2,307.7 263.2,308.6 262.7,308.6 262.7,307.7 262.2,307.7 262.2,308.7 261.7,308.7 261.7,308.8 261.2,308.8 261.2,307.8 260.7,307.8 260.7,307.9 260.2,307.9 260.2,308.6 259.7,308.6 259.7,308.8 259.2,308.8 259.2,308.9 258.7,308.9 258.7,307.8 258.2,307.8 258.2,309.0 257.7,309.0 257.7,308.0 257.2,308.0 257.2,308.7 256.7,308.7 256.7,308.9 256.2,308.9 256.2,308.9 255.7,308.9 255.7,308.4 255.2,308.4 255.2,308.7 254.7,308.7 254.7,308.9 254.2,308.9 254.2,308.3 253.7,308.3 253.7,308.9 253.2,308.9 253.2,308.2 252.7,308.2 252.7,309.0 252.2,309.0 252.2,308.6 251.7,308.6 251.7,309.2 251.2,309.2 251.2,308.8 250.7,308.8 250.7,308.2 250.2,308.2 250.2,308.5 249.7,308.5 249.7,308.3 249.2,308.3 249.2,308.8 248.7,308.8 248.7,309.2 248.2,309.2 248.2,308.8 247.7,308.8 247.7,309.2 247.2,309.2 247.2,308.9 246.7,308.9 246.7,309.0 246.2,309.0 246.2,309.3 245.7,309.3 245.7,308.8 245.2,308.8 245.2,308.6 244.7,308.6 244.7,308.9 244.2,308.9 244.2,308.6 243.7,308.6 243.7,308.3 243.2,308.3 243.2,309.4 242.7,309.4 242.7,308.6 242.2,308.6 242.2,308.8 241.7,308.8 241.7,308.6 241.2,308.6 241.2,309.0 240.7,309.0 240.7,308.6 240.2,308.6 240.2,308.6 239.7,308.6 239.7,308.8 239.2,308.8 239.2,309.0 238.7,309.0 238.7,309.4 238.2,309.4 238.2,308.6 237.7,308.6 237.7,309.8 237.2,309.8 237.2,309.0 236.7,309.0 236.7,309.9 236.2,309.9 236.2,309.1 235.7,309.1 235.7,309.7 235.2,309.7 235.2,309.1 234.7,309.1 234.7,309.3 234.2,309.3 234.2,309.7 233.7,309.7 233.7,309.6 233.2,309.6 233.2,309.5 232.7,309.5 232.7,309.1 232.2,309.1 232.2,309.2 231.7,309.2 231.7,309.2 231.2,309.2 231.2,310.0 230.7,310.0 230.7,309.3 230.2,309.3 230.2,309.9 229.7,309.9 229.7,309.3 229.2,309.3 229.2,309.6 228.7,309.6 228.7,310.0 228.2,310.0 228.2,310.2 227.7,310.2 227.7,310.0 227.2,310.0 227.2,309.9 226.7,309.9 226.7,310.1 226.2,310.1 226.2,310.5 225.7,310.5 225.7,310.0 225.2,310.0 225.2,310.5 224.7,310.5 224.7,310.5 224.2,310.5 224.2,310.0 223.7,310.0 223.7,311.0 223.2,311.0 223.2,310.1 222.7,310.1 222.7,311.2 222.2,311.2 222.2,310.4 221.7,310.4 221.7,311.2 221.2,311.2 221.2,310.5 220.7,310.5 220.7,310.6 220.2,310.6 220.2,310.7 219.7,310.7 219.7,310.5 219.2,310.5 219.2,310.9 218.7,310.9 218.7,311.2 218.2,311.2 218.2,311.8 217.7,311.8 217.7,311.7 217.2,311.7 217.2,312.1 216.7,312.1 216.7,311.2 216.2,311.2 216.2,311.7 215.7,311.7 215.7,311.5 215.2,311.5 215.2,311.9 214.7,311.9 214.7,311.7 214.2,311.7 214.2,311.5 213.7,311.5 213.7,311.9 213.2,311.9 213.2,312.1 212.7,312.1 212.7,312.8 212.2,312.8 212.2,312.0 211.7,312.0 211.7,312.2 211.2,312.2 211.2,312.5 210.7,312.5 210.7,313.3 210.2,313.3 210.2,312.7 209.7,312.7 209.7,312.9 209.2,312.9 209.2,312.9 208.7,312.9 208.7,313.2 208.2,313.2 208.2,313.7 207.7,313.7 207.7,313.7 207.2,313.7 207.2,314.0 206.7,314.0 206.7,313.5 206.2,313.5 206.2,314.0 205.7,314.0 205.7,314.3 205.2,314.3 205.2,314.5 204.7,314.5 204.7,313.7 204.2,313.7 204.2,315.0 203.7,315.0 203.7,314.7 203.2,314.7 203.2,314.8 202.7,314.8 202.7,314.6 202.2,314.6 202.2,314.6 201.7,314.6 201.7,315.8 201.2,315.8 201.2,314.8 200.7,314.8 200.7,315.7 200.2,315.7 200.2,315.6 199.7,315.6 199.7,316.0 199.2,316.0 199.2,316.0 198.7,316.0 198.7,315.8 198.2,315.8 198.2,317.0 197.7,317.0 197.7,316.5 197.2,316.5 197.2,317.1 196.7,317.1 196.7,317.0 196.2,317.0 196.2,316.9 195.7,316.9 195.7,317.4 195.2,317.4 195.2,318.2 194.7,318.2 194.7,317.5 194.2,317.5 194.2,318.7 193.7,318.7 193.7,318.1 193.2,318.1 193.2,318.2 192.7,318.2 192.7,319.4 192.2,319.4 192.2,319.3 191.7,319.3 191.7,319.1 191.2,319.1 191.2,320.0 190.7,320.0 190.7,320.1 190.2,320.1 190.2,320.7 189.7,320.7 189.7,320.1 189.2,320.1 189.2,321.0 188.7,321.0 188.7,321.2 188.2,321.2 188.2,321.3 187.7,321.3 187.7,322.4 187.2,322.4 187.2,322.5 186.7,322.5 186.7,322.0 186.2,322.0 186.2,322.3 185.7,322.3 185.7,323.7 185.2,323.7 185.2,323.4 184.7,323.4 184.7,324.3 184.2,324.3 184.2,324.6 183.7,324.6 183.7,325.0 183.2,325.0 183.2,325.5 182.7,325.5 182.7,325.5 182.2,325.5 182.2,326.0 181.7,326.0 181.7,326.2 181.2,326.2 181.2,326.5 180.7,326.5 180.7,327.2 180.2,327.2 180.2,327.4 179.7,327.4 179.7,327.5 179.2,327.5 179.2,328.1 178.7,328.1 178.7,329.0 178.2,329.0 178.2,329.1 177.7,329.1 177.7,330.3 177.2,330.3 177.2,330.7 176.7,330.7 176.7,330.5 176.2,330.5 176.2,331.8 175.7,331.8 175.7,332.5 175.2,332.5 175.2,332.1 174.7,332.1 174.7,332.7 174.2,332.7 174.2,333.8 173.7,333.8 173.7,334.5 173.2,334.5 173.2,335.0 172.7,335.0 172.7,335.3 172.2,335.3 172.2,335.8 171.7,335.8 171.7,337.3 171.2,337.3 171.2,337.6 170.7,337.6 170.7,337.9 170.2,337.9 170.2,338.8 169.7,338.8 169.7,339.7 169.2,339.7 169.2,340.5 168.7,340.5 168.7,341.3 168.2,341.3 168.2,341.9 167.7,341.9 167.7,342.3 167.2,342.3 167.2,344.0 166.7,344.0 166.7,344.1 166.2,344.1 166.2,345.1 165.7,345.1 165.7,346.1 165.2,346.1 165.2,347.0 164.7,347.0 164.7,347.3 164.2,347.3 164.2,348.9 163.7,348.9 163.7,350.2 163.2,350.2 163.2,351.1 162.7,351.1 162.7,351.6 162.2,351.6 162.2,352.1 161.7,352.1 161.7,353.5 161.2,353.5 161.2,354.6 160.7,354.6 160.7,355.4 160.2,355.4 160.2,357.3 159.7,357.3 159.7,357.9 159.2,357.9 159.2,359.1 158.7,359.1 158.7,360.5 158.2,360.5 158.2,361.5 157.7,361.5 157.7,363.2 157.2,363.2 157.2,363.5 156.7,363.5 156.7,365.0 156.2,365.0 156.2,366.1 155.7,366.1 155.7,368.6 155.2,368.6Z" fill="#8cffff" fill-opacity="0.8"/>
<path d="M268.0,241.2 268.5,241.2 268.5,242.6 269.0,242.6 269.0,243.6 269.5,243.6 269.5,245.0 270.0,245.0 270.0,245.6 270.5,245.6 270.5,247.7 271.0,247.7 271.0,248.1 271.5,248.1 271.5,250.1 272.0,250.1 272.0,251.2 272.5,251.2 272.5,252.6 273.0,252.6 273.0,253.3 273.5,253.3 273.5,254.5 274.0,254.5 274.0,255.1 274.5,255.1 274.5,256.3 275.0,256.3 275.0,257.2 275.5,257.2 275.5,258.0 276.0,258.0 276.0,259.5 276.5,259.5 276.5,260.4 277.0,260.4 277.0,261.4 277.5,261.4 277.5,262.3 278.0,262.3 278.0,262.4 278.5,262.4 278.5,263.8 279.0,263.8 279.0,265.1 279.5,265.1 279.5,265.7 280.0,265.7 280.0,266.8 280.5,266.8 280.5,266.8 281.0,266.8 281.0,267.5 281.5,267.5 281.5,268.5 282.0,268.5 282.0,269.3 282.5,269.3 282.5,270.4 283.0,270.4 283.0,271.5 283.5,271.5 283.5,271.1 284.0,271.1 284.0,272.1 284.5,272.1 284.5,273.2 285.0,273.2 285.0,273.3 285.5,273.3 285.5,273.9 286.0,273.9 286.0,274.8 286.5,274.8 286.5,275.2 287.0,275.2 287.0,275.8 287.5,275.8 287.5,276.9 288.0,276.9 288.0,277.4 288.5,277.4 288.5,277.7 289.0,277.7 289.0,278.2 289.5,278.2 289.5,279.1 290.0,279.1 290.0,278.7 290.5,278.7 290.5,279.7 291.0,279.7 291.0,279.9 291.5,279.9 291.5,281.1 292.0,281.1 292.0,281.2 292.5,281.2 292.5,281.3 293.0,281.3 293.0,281.7 293.5,281.7 293.5,282.7 294.0,282.7 294.0,282.6 294.5,282.6 294.5,283.8 295.0,283.8 295.0,284.3 295.5,284.3 295.5,283.8 296.0,283.8 296.0,284.6 296.5,284.6 296.5,285.1 297.0,285.1 297.0,285.1 297.5,285.1 297.5,285.7 298.0,285.7 298.0,285.8 298.5,285.8 298.5,286.2 299.0,286.2 299.0,286.7 299.5,286.7 299.5,287.2 300.0,287.2 300.0,287.6 300.5,287.6 300.5,288.1 301.0,288.1 301.0,288.6 301.5,288.6 301.5,288.1 302.0,288.1 302.0,288.9 302.5,288.9 302.5,288.5 303.0,288.5 303.0,289.1 303.5,289.1 303.5,289.9 304.0,289.9 304.0,289.4 304.5,289.4 304.5,290.2 305.0,290.2 305.0,290.4 305.5,290.4 305.5,290.3 306.0,290.3 306.0,290.9 306.5,290.9 306.5,290.7 307.0,290.7 307.0,291.4 307.5,291.4 307.5,291.0 308.0,291.0 308.0,291.2 308.5,291.2 308.5,292.1 309.0,292.1 309.0,292.4 309.5,292.4 309.5,292.1 310.0,292.1 310.0,292.6 310.5,292.6 310.5,292.3 311.0,292.3 311.0,293.6 311.5,293.6 311.5,293.2 312.0,293.2 312.0,293.0 312.5,293.0 312.5,293.6 313.0,293.6 313.0,293.8 313.5,293.8 313.5,293.9 314.0,293.9 314.0,293.9 314.5,293.9 314.5,294.4 315.0,294.4 315.0,294.2 315.5,294.2 315.5,294.3 316.0,294.3 316.0,295.2 316.5,295.2 316.5,295.4 317.0,295.4 317.0,295.5 317.5,295.5 317.5,294.9 318.0,294.9 318.0,295.9 318.5,295.9 318.5,295.2 319.0,295.2 319.0,296.2 319.5,296.2 319.5,295.9 320.0,295.9 320.0,295.3 320.5,295.3 320.5,295.6 321.0,295.6 321.0,296.3 321.5,296.3 321.5,296.9 322.0,296.9 322.0,296.7 322.5,296.7 322.5,296.7 323.0,296.7 323.0,296.2 323.5,296.2 323.5,296.7 324.0,296.7 324.0,297.4 324.5,297.4 324.5,296.5 325.0,296.5 325.0,296.6 325.5,296.6 325.5,297.5 326.0,297.5 326.0,297.2 326.5,297.2 326.5,297.4 327.0,297.4 327.0,297.3 327.5,297.3 327.5,297.2 328.0,297.2 328.0,297.1 328.5,297.1 328.5,298.3 329.0,298.3 329.0,297.8 329.5,297.8 329.5,297.8 330.0,297.8 330.0,298.2 330.5,298.2 330.5,298.3 331.0,298.3 331.0,297.8 331.5,297.8 331.5,298.3 332.0,298.3 332.0,298.4 332.5,298.4 332.5,298.9 333.0,298.9 333.0,298.3 333.5,298.3 333.5,298.1 334.0,298.1 334.0,298.5 334.5,298.5 334.5,298.1 335.0,298.1 335.0,298.3 335.5,298.3 335.5,298.6 336.0,298.6 336.0,299.1 336.5,299.1 336.5,298.5 337.0,298.5 337.0,298.5 337.5,298.5 337.5,299.5 338.0,299.5 338.0,298.7 338.5,298.7 338.5,299.2 339.0,299.2 339.0,299.5 339.5,299.5 339.5,299.0 340.0,299.0 340.0,299.8 340.5,299.8 340.5,299.9 341.0,299.9 341.0,299.6 341.5,299.6 341.5,299.4 342.0,299.4 342.0,299.4 342.5,299.4 342.5,299.1 343.0,299.1 343.0,299.2 343.5,299.2 343.5,299.3 344.0,299.3 344.0,299.8 344.5,299.8 344.5,299.9 345.0,299.9 345.0,300.1 345.5,300.1 345.5,300.3 346.0,300.3 346.0,299.6 346.5,299.6 346.5,299.7 347.0,299.7 347.0,299.5 347.5,299.5 347.5,299.5 348.0,299.5 348.0,299.5 348.5,299.5 348.5,300.3 349.0,300.3 349.0,299.8 349.5,299.8 349.5,299.6 350.0,299.6 350.0,300.2 350.5,300.2 350.5,300.1 351.0,300.1 351.0,300.7 351.5,300.7 351.5,300.5 352.0,300.5 352.0,299.9 352.5,299.9 352.5,299.8 353.0,299.8 353.0,300.2 353.5,300.2 353.5,300.5 354.0,300.5 354.0,300.2 354.5,300.2 354.5,300.6 355.0,300.6 355.0,300.7 355.5,300.7 355.5,300.8 356.0,300.8 356.0,300.7 356.5,300.7 356.5,300.4 357.0,300.4 357.0,300.5 357.5,300.5 357.5,300.4 358.0,300.4 358.0,301.1 358.5,301.1 358.5,301.1 359.0,301.1 359.0,301.1 359.5,301.1 359.5,300.8 360.0,300.8 360.0,300.5 360.5,300.5 360.5,301.1 361.0,301.1 361.0,300.9 361.5,300.9 361.5,300.3 362.0,300.3 362.0,301.2 362.5,301.2 362.5,300.3 363.0,300.3 363.0,300.8 363.5,300.8 363.5,301.3 364.0,301.3 364.0,301.2 364.5,301.2 364.5,300.8 365.0,300.8 365.0,301.2 365.5,301.2 365.5,301.2 366.0,301.2 366.0,301.2 366.5,301.2 366.5,300.9 367.0,300.9 367.0,301.5 367.5,301.5 367.5,301.0 368.0,301.0 368.0,300.9 368.5,300.9 368.5,301.3 369.0,301.3 369.0,301.4 369.5,301.4 369.5,301.6 370.0,301.6 370.0,307.1 369.5,307.1 369.5,306.9 369.0,306.9 369.0,307.5 368.5,307.5 368.5,307.4 368.0,307.4 368.0,307.5 367.5,307.5 367.5,307.7 367.0,307.7 367.0,307.6 366.5,307.6 366.5,307.5 366.0,307.5 366.0,306.6 365.5,306.6 365.5,306.9 365.0,306.9 365.0,306.9 364.5,306.9 364.5,307.1 364.0,307.1 364.0,307.0 363.5,307.0 363.5,307.0 363.0,307.0 363.0,306.5 362.5,306.5 362.5,306.5 362.0,306.5 362.0,306.9 361.5,306.9 361.5,307.3 361.0,307.3 361.0,307.4 360.5,307.4 360.5,306.5 360.0,306.5 360.0,306.7 359.5,306.7 359.5,306.9 359.0,306.9 359.0,307.0 358.5,307.0 358.5,306.8 358.0,306.8 358.0,306.7 357.5,306.7 357.5,307.1 357.0,307.1 357.0,306.2 356.5,306.2 356.5,306.2 356.0,306.2 356.0,307.0 355.5,307.0 355.5,306.9 355.0,306.9 355.0,306.5 354.5,306.5 354.5,306.0 354.0,306.0 354.0,307.1 353.5,307.1 353.5,307.1 353.0,307.1 353.0,305.9 352.5,305.9 352.5,306.1 352.0,306.1 352.0,306.9 351.5,306.9 351.5,306.0 351.0,306.0 351.0,306.4 350.5,306.4 350.5,306.8 350.0,306.8 350.0,305.8 349.5,305.8 349.5,306.3 349.0,306.3 349.0,306.1 348.5,306.1 348.5,306.2 348.0,306.2 348.0,306.8 347.5,306.8 347.5,305.7 347.0,305.7 347.0,305.6 346.5,305.6 346.5,306.0 346.0,306.0 346.0,306.0 345.5,306.0 345.5,306.0 345.0,306.0 345.0,306.1 344.5,306.1 344.5,305.3 344.0,305.3 344.0,306.4 343.5,306.4 343.5,305.4 343.0,305.4 343.0,305.5 342.5,305.5 342.5,305.3 342.0,305.3 342.0,305.4 341.5,305.4 341.5,305.3 341.0,305.3 341.0,306.0 340.5,306.0 340.5,305.7 340.0,305.7 340.0,305.0 339.5,305.0 339.5,305.9 339.0,305.9 339.0,305.5 338.5,305.5 338.5,305.8 338.0,305.8 338.0,304.7 337.5,304.7 337.5,304.8 337.0,304.8 337.0,304.7 336.5,304.7 336.5,304.7 336.0,304.7 336.0,305.2 335.5,305.2 335.5,304.9 335.0,304.9 335.0,304.9 334.5,304.9 334.5,304.4 334.0,304.4 334.0,304.2 333.5,304.2 333.5,304.1 333.0,304.1 333.0,304.5 332.5,304.5 332.5,304.9 332.0,304.9 332.0,304.9 331.5,304.9 331.5,304.4 331.0,304.4 331.0,304.5 330.5,304.5 330.5,304.5 330.0,304.5 330.0,303.9 329.5,303.9 329.5,303.9 329.0,303.9 329.0,303.7 328.5,303.7 328.5,303.9 328.0,303.9 328.0,303.4 327.5,303.4 327.5,303.5 327.0,303.5 327.0,303.5 326.5,303.5 326.5,303.3 326.0,303.3 326.0,302.8 325.5,302.8 325.5,303.0 325.0,303.0 325.0,303.5 324.5,303.5 324.5,302.8 324.0,302.8 324.0,302.8 323.5,302.8 323.5,302.9 323.0,302.9 323.0,302.4 322.5,302.4 322.5,302.3 322.0,302.3 322.0,303.0 321.5,303.0 321.5,302.4 321.0,302.4 321.0,301.8 320.5,301.8 320.5,302.5 320.0,302.5 320.0,302.1 319.5,302.1 319.5,302.0 319.0,302.0 319.0,301.7 318.5,301.7 318.5,301.8 318.0,301.8 318.0,301.5 317.5,301.5 317.5,300.8 317.0,300.8 317.0,301.5 316.5,301.5 316.5,300.6 316.0,300.6 316.0,301.1 315.5,301.1 315.5,300.7 315.0,300.7 315.0,299.9 314.5,299.9 314.5,300.6 314.0,300.6 314.0,300.5 313.5,300.5 313.5,299.9 313.0,299.9 313.0,300.2 312.5,300.2 312.5,299.5 312.0,299.5 312.0,299.3 311.5,299.3 311.5,299.3 311.0,299.3 311.0,299.3 310.5,299.3 310.5,298.8 310.0,298.8 310.0,298.4 309.5,298.4 309.5,297.9 309.0,297.9 309.0,298.4 308.5,298.4 308.5,298.2 308.0,298.2 308.0,297.3 307.5,297.3 307.5,297.6 307.0,297.6 307.0,297.1 306.5,297.1 306.5,297.2 306.0,297.2 306.0,296.5 305.5,296.5 305.5,296.3 305.0,296.3 305.0,295.7 304.5,295.7 304.5,296.1 304.0,296.1 304.0,295.6 303.5,295.6 303.5,295.9 303.0,295.9 303.0,294.6 302.5,294.6 302.5,294.5 302.0,294.5 302.0,294.3 301.5,294.3 301.5,293.9 301.0,293.9 301.0,294.0 300.5,294.0 300.5,293.0 300.0,293.0 300.0,293.1 299.5,293.1 299.5,292.6 299.0,292.6 299.0,292.5 298.5,292.5 298.5,291.8 298.0,291.8 298.0,292.3 297.5,292.3 297.5,291.5 297.0,291.5 297.0,291.8 296.5,291.8 296.5,290.3 296.0,290.3 296.0,290.4 295.5,290.4 295.5,289.8 295.0,289.8 295.0,289.3 294.5,289.3 294.5,288.7 294.0,288.7 294.0,289.1 293.5,289.1 293.5,287.8 293.0,287.8 293.0,288.3 292.5,288.3 292.5,287.6 292.0,287.6 292.0,287.3 291.5,287.3 291.5,286.1 291.0,286.1 291.0,286.0 290.5,286.0 290.5,285.5 290.0,285.5 290.0,284.5 289.5,284.5 289.5,284.4 289.0,284.4 289.0,284.1 288.5,284.1 288.5,283.8 288.0,283.8 288.0,282.9 287.5,282.9 287.5,282.2 287.0,282.2 287.0,281.4 286.5,281.4 286.5,281.1 286.0,281.1 286.0,280.3 285.5,280.3 285.5,279.6 285.0,279.6 285.0,279.3 284.5,279.3 284.5,279.0 284.0,279.0 284.0,277.8 283.5,277.8 283.5,277.4 283.0,277.4 283.0,276.9 282.5,276.9 282.5,275.7 282.0,275.7 282.0,274.7 281.5,274.7 281.5,273.6 281.0,273.6 281.0,273.7 280.5,273.7 280.5,272.1 280.0,272.1 280.0,271.5 279.5,271.5 279.5,271.1 279.0,271.1 279.0,270.6 278.5,270.6 278.5,268.6 278.0,268.6 278.0,267.9 277.5,267.9 277.5,267.3 277.0,267.3 277.0,267.1 276.5,267.1 276.5,265.4 276.0,265.4 276.0,264.9 275.5,264.9 275.5,264.2 275.0,264.2 275.0,262.7 274.5,262.7 274.5,261.7 274.0,261.7 274.0,259.9 273.5,259.9 273.5,259.5 273.0,259.5 273.0,258.3 272.5,258.3 272.5,256.6 272.0,256.6 272.0,255.6 271.5,255.6 271.5,255.1 271.0,255.1 271.0,254.1 270.5,254.1 270.5,252.2 270.0,252.2 270.0,251.1 269.5,251.1 269.5,249.3 269.0,249.3 269.0,248.7 268.5,248.7 268.5,247.3 268.0,247.3Z" fill="#8cffff" fill-opacity="0.8"/>
<path d="M370.8,361.8 371.3,361.8 371.3,360.0 371.8,360.0 371.8,359.0 372.3,359.0 372.3,357.7 372.8,357.7 372.8,356.3 373.3,356.3 373.3,355.6 373.8,355.6 373.8,353.6 374.3,353.6 374.3,352.8 374.8,352.8 374.8,351.4 375.3,351.4 375.3,350.3 375.8,350.3 375.8,349.1 376.3,349.1 376.3,348.0 376.8,348.0 376.8,347.5 377.3,347.5 377.3,346.7 377.8,346.7 377.8,345.2 378.3,345.2 378.3,344.6 378.8,344.6 378.8,343.8 379.3,343.8 379.3,342.7 379.8,342.7 379.8,341.0 380.3,341.0 380.3,340.7 380.8,340.7 380.8,339.5 381.3,339.5 381.3,338.7 381.8,338.7 381.8,338.5 382.3,338.5 382.3,336.9 382.8,336.9 382.8,337.0 383.3,337.0 383.3,335.9 383.8,335.9 383.8,334.4 384.3,334.4 384.3,333.9 384.8,333.9 384.8,333.1 385.3,333.1 385.3,332.3 385.8,332.3 385.8,331.6 386.3,331.6 386.3,331.3 386.8,331.3 386.8,330.3 387.3,330.3 387.3,329.6 387.8,329.6 387.8,328.8 388.3,328.8 388.3,328.2 388.8,328.2 388.8,327.6 389.3,327.6 389.3,327.9 389.8,327.9 389.8,327.3 390.3,327.3 390.3,326.5 390.8,326.5 390.8,325.9 391.3,325.9 391.3,325.1 391.8,325.1 391.8,324.9 392.3,324.9 392.3,323.9 392.8,323.9 392.8,323.2 393.3,323.2 393.3,323.4 393.8,323.4 393.8,322.6 394.3,322.6 394.3,322.5 394.8,322.5 394.8,321.4 395.3,321.4 395.3,322.0 395.8,322.0 395.8,321.5 396.3,321.5 396.3,320.1 396.8,320.1 396.8,319.9 397.3,319.9 397.3,319.9 397.8,319.9 397.8,319.4 398.3,319.4 398.3,318.7 398.8,318.7 398.8,319.0 399.3,319.0 399.3,317.8 399.8,317.8 399.8,317.5 400.3,317.5 400.3,317.8 400.8,317.8 400.8,317.5 401.3,317.5 401.3,317.0 401.8,317.0 401.8,315.8 402.3,315.8 402.3,316.3 402.8,316.3 402.8,315.5 403.3,315.5 403.3,315.5 403.8,315.5 403.8,314.5 404.3,314.5 404.3,314.1 404.8,314.1 404.8,314.0 405.3,314.0 405.3,314.1 405.8,314.1 405.8,314.3 406.3,314.3 406.3,313.6 406.8,313.6 406.8,313.6 407.3,313.6 407.3,313.5 407.8,313.5 407.8,312.4 408.3,312.4 408.3,312.7 408.8,312.7 408.8,311.8 409.3,311.8 409.3,312.6 409.8,312.6 409.8,311.9 410.3,311.9 410.3,311.8 410.8,311.8 410.8,311.2 411.3,311.2 411.3,311.1 411.8,311.1 411.8,310.5 412.3,310.5 412.3,310.9 412.8,310.9 412.8,311.1 413.3,311.1 413.3,310.1 413.8,310.1 413.8,310.2 414.3,310.2 414.3,309.5 414.8,309.5 414.8,309.4 415.3,309.4 415.3,309.8 415.8,309.8 415.8,308.8 416.3,308.8 416.3,309.6 416.8,309.6 416.8,308.9 417.3,308.9 417.3,309.0 417.8,309.0 417.8,308.5 418.3,308.5 418.3,308.2 418.8,308.2 418.8,308.3 419.3,308.3 419.3,307.7 419.8,307.7 419.8,307.7 420.3,307.7 420.3,308.1 420.8,308.1 420.8,307.6 421.3,307.6 421.3,307.9 421.8,307.9 421.8,307.4 422.3,307.4 422.3,307.0 422.8,307.0 422.8,307.7 423.3,307.7 423.3,306.7 423.8,306.7 423.8,306.7 424.3,306.7 424.3,307.1 424.8,307.1 424.8,307.0 425.3,307.0 425.3,306.1 425.8,306.1 425.8,306.9 426.3,306.9 426.3,305.9 426.8,305.9 426.8,306.5 427.3,306.5 427.3,306.7 427.8,306.7 427.8,306.2 428.3,306.2 428.3,305.5 428.8,305.5 428.8,306.3 429.3,306.3 429.3,305.9 429.8,305.9 429.8,305.6 430.3,305.6 430.3,305.9 430.8,305.9 430.8,305.2 431.3,305.2 431.3,305.4 431.8,305.4 431.8,305.1 432.3,305.1 432.3,305.4 432.8,305.4 432.8,305.2 433.3,305.2 433.3,305.0 433.8,305.0 433.8,304.7 434.3,304.7 434.3,304.6 434.8,304.6 434.8,305.1 435.3,305.1 435.3,305.1 435.8,305.1 435.8,305.3 436.3,305.3 436.3,304.4 436.8,304.4 436.8,304.7 437.3,304.7 437.3,305.0 437.8,305.0 437.8,304.3 438.3,304.3 438.3,304.2 438.8,304.2 438.8,304.0 439.3,304.0 439.3,303.7 439.8,303.7 439.8,304.4 440.3,304.4 440.3,303.8 440.8,303.8 440.8,304.5 441.3,304.5 441.3,304.0 441.8,304.0 441.8,303.8 442.3,303.8 442.3,304.4 442.8,304.4 442.8,304.4 443.3,304.4 443.3,303.8 443.8,303.8 443.8,303.6 444.3,303.6 444.3,303.8 444.8,303.8 444.8,304.0 445.3,304.0 445.3,303.3 445.8,303.3 445.8,304.0 446.3,304.0 446.3,303.2 446.8,303.2 446.8,303.0 447.3,303.0 447.3,303.2 447.8,303.2 447.8,303.2 448.3,303.2 448.3,303.8 448.8,303.8 448.8,303.1 449.3,303.1 449.3,303.6 449.8,303.6 449.8,303.1 450.3,303.1 450.3,303.5 450.8,303.5 450.8,303.5 451.3,303.5 451.3,302.9 451.8,302.9 451.8,302.8 452.3,302.8 452.3,302.8 452.8,302.8 452.8,302.6 453.3,302.6 453.3,303.6 453.8,303.6 453.8,303.4 454.3,303.4 454.3,303.5 454.8,303.5 454.8,302.9 455.3,302.9 455.3,303.4 455.8,303.4 455.8,303.3 456.3,303.3 456.3,302.7 456.8,302.7 456.8,303.0 457.3,303.0 457.3,303.1 457.8,303.1 457.8,303.1 458.3,303.1 458.3,302.4 458.8,302.4 458.8,303.3 459.3,303.3 459.3,303.2 459.8,303.2 459.8,302.7 460.3,302.7 460.3,302.5 460.8,302.5 460.8,302.5 461.3,302.5 461.3,302.6 461.8,302.6 461.8,302.9 462.3,302.9 462.3,301.9 462.8,301.9 462.8,302.0 463.3,302.0 463.3,301.9 463.8,301.9 463.8,302.5 464.3,302.5 464.3,302.5 464.8,302.5 464.8,302.2 465.3,302.2 465.3,302.6 465.8,302.6 465.8,302.5 466.3,302.5 466.3,302.8 466.8,302.8 466.8,302.3 467.3,302.3 467.3,302.7 467.8,302.7 467.8,302.7 468.3,302.7 468.3,302.2 468.8,302.2 468.8,301.7 469.3,301.7 469.3,301.7 469.8,301.7 469.8,302.0 470.3,302.0 470.3,302.8 470.8,302.8 470.8,302.8 471.3,302.8 471.3,302.0 471.8,302.0 471.8,302.5 472.3,302.5 472.3,302.6 472.8,302.6 472.8,301.6 473.3,301.6 473.3,302.7 473.8,302.7 473.8,302.3 474.3,302.3 474.3,301.8 474.8,301.8 474.8,302.6 475.3,302.6 475.3,302.5 475.8,302.5 475.8,302.1 476.3,302.1 476.3,301.6 476.8,301.6 476.8,302.1 477.3,302.1 477.3,302.5 477.8,302.5 477.8,302.0 478.3,302.0 478.3,302.4 478.8,302.4 478.8,302.6 479.3,302.6 479.3,301.8 479.8,301.8 479.8,301.4 480.3,301.4 480.3,301.7 480.8,301.7 480.8,301.6 481.3,301.6 481.3,302.4 481.8,302.4 481.8,302.3 482.3,302.3 482.3,302.1 482.8,302.1 482.8,307.6 482.3,307.6 482.3,308.3 481.8,308.3 481.8,307.6 481.3,307.6 481.3,308.6 480.8,308.6 480.8,308.1 480.3,308.1 480.3,308.1 479.8,308.1 479.8,308.8 479.3,308.8 479.3,308.7 478.8,308.7 478.8,308.0 478.3,308.0 478.3,308.3 477.8,308.3 477.8,307.8 477.3,307.8 477.3,308.7 476.8,308.7 476.8,308.7 476.3,308.7 476.3,308.9 475.8,308.9 475.8,308.7 475.3,308.7 475.3,307.9 474.8,307.9 474.8,308.3 474.3,308.3 474.3,308.8 473.8,308.8 473.8,308.0 473.3,308.0 473.3,308.2 472.8,308.2 472.8,308.6 472.3,308.6 472.3,308.2 471.8,308.2 471.8,308.6 471.3,308.6 471.3,308.9 470.8,308.9 470.8,308.1 470.3,308.1 470.3,308.7 469.8,308.7 469.8,309.0 469.3,309.0 469.3,308.8 468.8,308.8 468.8,308.8 468.3,308.8 468.3,308.3 467.8,308.3 467.8,308.8 467.3,308.8 467.3,308.5 466.8,308.5 466.8,308.9 466.3,308.9 466.3,308.3 465.8,308.3 465.8,308.2 465.3,308.2 465.3,308.6 464.8,308.6 464.8,308.9 464.3,308.9 464.3,308.2 463.8,308.2 463.8,308.2 463.3,308.2 463.3,308.5 462.8,308.5 462.8,309.1 462.3,309.1 462.3,309.2 461.8,309.2 461.8,308.9 461.3,308.9 461.3,308.7 460.8,308.7 460.8,309.1 460.3,309.1 460.3,308.3 459.8,308.3 459.8,308.9 459.3,308.9 459.3,309.2 458.8,309.2 458.8,309.0 458.3,309.0 458.3,309.4 457.8,309.4 457.8,309.3 457.3,309.3 457.3,309.1 456.8,309.1 456.8,308.8 456.3,308.8 456.3,308.7 455.8,308.7 455.8,309.5 455.3,309.5 455.3,309.5 454.8,309.5 454.8,309.1 454.3,309.1 454.3,308.9 453.8,308.9 453.8,309.4 453.3,309.4 453.3,309.0 452.8,309.0 452.8,308.8 452.3,308.8 452.3,309.1 451.8,309.1 451.8,309.9 451.3,309.9 451.3,308.9 450.8,308.9 450.8,309.1 450.3,309.1 450.3,309.8 449.8,309.8 449.8,309.0 449.3,309.0 449.3,309.7 448.8,309.7 448.8,309.8 448.3,309.8 448.3,310.1 447.8,310.1 447.8,310.0 447.3,310.0 447.3,310.2 446.8,310.2 446.8,309.7 446.3,309.7 446.3,310.0 445.8,310.0 445.8,310.2 445.3,310.2 445.3,310.3 444.8,310.3 444.8,310.0 444.3,310.0 444.3,310.1 443.8,310.1 443.8,310.5 443.3,310.5 443.3,310.0 442.8,310.0 442.8,309.9 442.3,309.9 442.3,310.7 441.8,310.7 441.8,310.3 441.3,310.3 441.3,310.7 440.8,310.7 440.8,310.2 440.3,310.2 440.3,310.3 439.8,310.3 439.8,310.8 439.3,310.8 439.3,310.4 438.8,310.4 438.8,310.8 438.3,310.8 438.3,311.2 437.8,311.2 437.8,310.5 437.3,310.5 437.3,311.2 436.8,311.2 436.8,311.1 436.3,311.1 436.3,311.0 435.8,311.0 435.8,310.7 435.3,310.7 435.3,311.6 434.8,311.6 434.8,311.2 434.3,311.2 434.3,310.7 433.8,310.7 433.8,311.0 433.3,311.0 433.3,311.1 432.8,311.1 432.8,312.0 432.3,312.0 432.3,311.3 431.8,311.3 431.8,311.9 431.3,311.9 431.3,311.7 430.8,311.7 430.8,311.4 430.3,311.4 430.3,312.3 429.8,312.3 429.8,312.4 429.3,312.4 429.3,312.6 428.8,312.6 428.8,311.9 428.3,311.9 428.3,312.2 427.8,312.2 427.8,312.1 427.3,312.1 427.3,312.4 426.8,312.4 426.8,312.3 426.3,312.3 426.3,312.5 425.8,312.5 425.8,313.4 425.3,313.4 425.3,312.8 424.8,312.8 424.8,312.6 424.3,312.6 424.3,312.8 423.8,312.8 423.8,312.9 423.3,312.9 423.3,313.5 422.8,313.5 422.8,313.4 422.3,313.4 422.3,314.1 421.8,314.1 421.8,313.5 421.3,313.5 421.3,314.2 420.8,314.2 420.8,314.7 420.3,314.7 420.3,314.5 419.8,314.5 419.8,314.6 419.3,314.6 419.3,314.5 418.8,314.5 418.8,314.5 418.3,314.5 418.3,314.6 417.8,314.6 417.8,315.4 417.3,315.4 417.3,314.7 416.8,314.7 416.8,315.5 416.3,315.5 416.3,316.1 415.8,316.1 415.8,315.3 415.3,315.3 415.3,315.4 414.8,315.4 414.8,316.4 414.3,316.4 414.3,316.6 413.8,316.6 413.8,316.6 413.3,316.6 413.3,317.1 412.8,317.1 412.8,317.5 412.3,317.5 412.3,317.1 411.8,317.1 411.8,317.6 411.3,317.6 411.3,317.4 410.8,317.4 410.8,318.0 410.3,318.0 410.3,318.6 409.8,318.6 409.8,318.4 409.3,318.4 409.3,318.7 408.8,318.7 408.8,319.3 408.3,319.3 408.3,319.0 407.8,319.0 407.8,319.3 407.3,319.3 407.3,319.3 406.8,319.3 406.8,320.2 406.3,320.2 406.3,320.6 405.8,320.6 405.8,319.7 405.3,319.7 405.3,320.2 404.8,320.2 404.8,320.6 404.3,320.6 404.3,321.2 403.8,321.2 403.8,321.5 403.3,321.5 403.3,322.3 402.8,322.3 402.8,322.7 402.3,322.7 402.3,322.3 401.8,322.3 401.8,322.6 401.3,322.6 401.3,323.6 400.8,323.6 400.8,323.8 400.3,323.8 400.3,324.3 399.8,324.3 399.8,324.2 399.3,324.2 399.3,324.4 398.8,324.4 398.8,324.8 398.3,324.8 398.3,325.9 397.8,325.9 397.8,325.5 397.3,325.5 397.3,326.2 396.8,326.2 396.8,326.6 396.3,326.6 396.3,326.7 395.8,326.7 395.8,327.6 395.3,327.6 395.3,328.4 394.8,328.4 394.8,328.6 394.3,328.6 394.3,329.4 393.8,329.4 393.8,329.0 393.3,329.0 393.3,330.3 392.8,330.3 392.8,330.7 392.3,330.7 392.3,331.3 391.8,331.3 391.8,331.8 391.3,331.8 391.3,332.5 390.8,332.5 390.8,332.3 390.3,332.3 390.3,332.8 389.8,332.8 389.8,334.2 389.3,334.2 389.3,334.7 388.8,334.7 388.8,334.5 388.3,334.5 388.3,335.6 387.8,335.6 387.8,336.0 387.3,336.0 387.3,337.2 386.8,337.2 386.8,337.5 386.3,337.5 386.3,338.6 385.8,338.6 385.8,339.2 385.3,339.2 385.3,340.2 384.8,340.2 384.8,340.0 384.3,340.0 384.3,341.4 383.8,341.4 383.8,341.5 383.3,341.5 383.3,343.0 382.8,343.0 382.8,343.8 382.3,343.8 382.3,344.5 381.8,344.5 381.8,345.3 381.3,345.3 381.3,346.5 380.8,346.5 380.8,346.9 380.3,346.9 380.3,348.1 379.8,348.1 379.8,349.3 379.3,349.3 379.3,349.3 378.8,349.3 378.8,350.2 378.3,350.2 378.3,351.2 377.8,351.2 377.8,352.9 377.3,352.9 377.3,353.1 376.8,353.1 376.8,354.6 376.3,354.6 376.3,355.2 375.8,355.2 375.8,356.8 375.3,356.8 375.3,357.8 374.8,357.8 374.8,359.4 374.3,359.4 374.3,359.8 373.8,359.8 373.8,361.7 373.3,361.7 373.3,362.3 372.8,362.3 372.8,364.4 372.3,364.4 372.3,365.0 371.8,365.0 371.8,366.2 371.3,366.2 371.3,367.8 370.8,367.8Z" fill="#8cffff" fill-opacity="0.8"/>
<path d="M484.0,240.5 484.5,240.5 484.5,242.3 485.0,242.3 485.0,243.1 485.5,243.1 485.5,245.4 486.0,245.4 486.0,246.0 486.5,246.0 486.5,247.4 487.0,247.4 487.0,248.9 487.5,248.9 487.5,249.3 488.0,249.3 488.0,251.4 488.5,251.4 488.5,252.5 489.0,252.5 489.0,253.3 489.5,253.3 489.5,254.1 490.0,254.1 490.0,255.4 490.5,255.4 490.5,256.1 491.0,256.1 491.0,257.4 491.5,257.4 491.5,258.2 492.0,258.2 492.0,259.7 492.5,259.7 492.5,260.1 493.0,260.1 493.0,261.7 493.5,261.7 493.5,262.0 494.0,262.0 494.0,263.4 494.5,263.4 494.5,264.2 495.0,264.2 495.0,264.4 495.5,264.4 495.5,265.4 496.0,265.4 496.0,266.9 496.5,266.9 496.5,266.6 497.0,266.6 497.0,268.5 497.5,268.5 497.5,269.0 498.0,269.0 498.0,269.8 498.5,269.8 498.5,269.7 499.0,269.7 499.0,270.4 499.5,270.4 499.5,272.0 500.0,272.0 500.0,271.9 500.5,271.9 500.5,272.3 501.0,272.3 501.0,273.9 501.5,273.9 501.5,274.6 502.0,274.6 502.0,275.3 502.5,275.3 502.5,274.9 503.0,274.9 503.0,276.6 503.5,276.6 503.5,276.5 504.0,276.5 504.0,277.1 504.5,277.1 504.5,277.6 505.0,277.6 505.0,278.7 505.5,278.7 505.5,278.7 506.0,278.7 506.0,279.4 506.5,279.4 506.5,279.5 507.0,279.5 507.0,279.8 507.5,279.8 507.5,280.8 508.0,280.8 508.0,281.0 508.5,281.0 508.5,281.7 509.0,281.7 509.0,281.5 509.5,281.5 509.5,282.7 510.0,282.7 510.0,282.7 510.5,282.7 510.5,283.0 511.0,283.0 511.0,284.0 511.5,284.0 511.5,283.9 512.0,283.9 512.0,284.5 512.5,284.5 512.5,284.6 513.0,284.6 513.0,285.9 513.5,285.9 513.5,285.5 514.0,285.5 514.0,286.0 514.5,286.0 514.5,286.5 515.0,286.5 515.0,286.6 515.5,286.6 515.5,286.8 516.0,286.8 516.0,286.9 516.5,286.9 516.5,287.5 517.0,287.5 517.0,287.8 517.5,287.8 517.5,288.4 518.0,288.4 518.0,289.0 518.5,289.0 518.5,289.0 519.0,289.0 519.0,289.5 519.5,289.5 519.5,289.7 520.0,289.7 520.0,290.3 520.5,290.3 520.5,289.5 521.0,289.5 521.0,289.8 521.5,289.8 521.5,290.1 522.0,290.1 522.0,290.5 522.5,290.5 522.5,291.3 523.0,291.3 523.0,297.1 522.5,297.1 522.5,296.7 522.0,296.7 522.0,297.3 521.5,297.3 521.5,296.8 521.0,296.8 521.0,296.4 520.5,296.4 520.5,295.9 520.0,295.9 520.0,295.5 519.5,295.5 519.5,295.2 519.0,295.2 519.0,295.4 518.5,295.4 518.5,295.4 518.0,295.4 518.0,295.0 517.5,295.0 517.5,294.7 517.0,294.7 517.0,293.4 516.5,293.4 516.5,294.0 516.0,294.0 516.0,293.6 515.5,293.6 515.5,293.5 515.0,293.5 515.0,292.7 514.5,292.7 514.5,292.2 514.0,292.2 514.0,292.0 513.5,292.0 513.5,291.1 513.0,291.1 513.0,290.6 512.5,290.6 512.5,291.4 512.0,291.4 512.0,290.0 511.5,290.0 511.5,289.8 511.0,289.8 511.0,289.1 510.5,289.1 510.5,289.6 510.0,289.6 510.0,288.3 509.5,288.3 509.5,288.4 509.0,288.4 509.0,287.4 508.5,287.4 508.5,287.0 508.0,287.0 508.0,286.5 507.5,286.5 507.5,286.8 507.0,286.8 507.0,285.4 506.5,285.4 506.5,284.9 506.0,284.9 506.0,284.7 505.5,284.7 505.5,283.9 505.0,283.9 505.0,284.2 504.5,284.2 504.5,283.5 504.0,283.5 504.0,283.1 503.5,283.1 503.5,282.6 503.0,282.6 503.0,282.1 502.5,282.1 502.5,281.3 502.0,281.3 502.0,280.4 501.5,280.4 501.5,280.1 501.0,280.1 501.0,279.4 500.5,279.4 500.5,278.0 500.0,278.0 500.0,277.2 499.5,277.2 499.5,276.8 499.0,276.8 499.0,276.5 498.5,276.5 498.5,275.9 498.0,275.9 498.0,275.4 497.5,275.4 497.5,273.6 497.0,273.6 497.0,273.7 496.5,273.7 496.5,272.1 496.0,272.1 496.0,272.1 495.5,272.1 495.5,271.3 495.0,271.3 495.0,270.0 494.5,270.0 494.5,269.8 494.0,269.8 494.0,267.8 493.5,267.8 493.5,267.9 493.0,267.9 493.0,266.5 492.5,266.5 492.5,265.7 492.0,265.7 492.0,264.9 491.5,264.9 491.5,263.5 491.0,263.5 491.0,262.1 490.5,262.1 490.5,261.0 490.0,261.0 490.0,260.7 489.5,260.7 489.5,259.5 489.0,259.5 489.0,257.9 488.5,257.9 488.5,257.3 488.0,257.3 488.0,255.8 487.5,255.8 487.5,254.5 487.0,254.5 487.0,253.7 486.5,253.7 486.5,252.8 486.0,252.8 486.0,250.8 485.5,250.8 485.5,249.8 485.0,249.8 485.0,247.9 484.5,247.9 484.5,247.4 484.0,247.4Z" fill="#8cffff" fill-opacity="0.8"/>
<path d="M22.0,304.1 22.5,304.1 22.5,303.6 23.0,303.6 23.0,303.9 23.5,303.9 23.5,303.6 24.0,303.6 24.0,303.6 24.5,303.6 24.5,303.9 25.0,303.9 25.0,303.8 25.5,303.8 25.5,303.7 26.0,303.7 26.0,303.4 26.5,303.4 26.5,303.6 27.0,303.6 27.0,303.5 27.5,303.5 27.5,303.6 28.0,303.6 28.0,303.4 28.5,303.4 28.5,303.7 29.0,303.7 29.0,303.6 29.5,303.6 29.5,303.7 30.0,303.7 30.0,303.3 30.5,303.3 30.5,303.6 31.0,303.6 31.0,303.3 31.5,303.3 31.5,303.2 32.0,303.2 32.0,303.5 32.5,303.5 32.5,303.6 33.0,303.6 33.0,303.4 33.5,303.4 33.5,303.0 34.0,303.0 34.0,303.2 34.5,303.2 34.5,303.2 35.0,303.2 35.0,303.3 35.5,303.3 35.5,303.4 36.0,303.4 36.0,303.3 36.5,303.3 36.5,303.4 37.0,303.4 37.0,302.9 37.5,302.9 37.5,303.3 38.0,303.3 38.0,303.3 38.5,303.3 38.5,303.2 39.0,303.2 39.0,303.0 39.5,303.0 39.5,303.0 40.0,303.0 40.0,302.9 40.5,302.9 40.5,302.9 41.0,302.9 41.0,302.9 41.5,302.9 41.5,302.8 42.0,302.8 42.0,302.9 42.5,302.9 42.5,303.2 43.0,303.2 43.0,302.8 43.5,302.8 43.5,302.9 44.0,302.9 44.0,302.9 44.5,302.9 44.5,303.1 45.0,303.1 45.0,302.7 45.5,302.7 45.5,302.9 46.0,302.9 46.0,303.1 46.5,303.1 46.5,303.2 47.0,303.2 47.0,303.1 47.5,303.1 47.5,303.0 48.0,303.0 48.0,303.1 48.5,303.1 48.5,303.0 49.0,303.0 49.0,302.8 49.5,302.8 49.5,303.0 50.0,303.0 50.0,302.9 50.5,302.9 50.5,307.3 50.0,307.3 50.0,307.5 49.5,307.5 49.5,307.2 49.0,307.2 49.0,307.3 48.5,307.3 48.5,307.5 48.0,307.5 48.0,307.5 47.5,307.5 47.5,307.6 47.0,307.6 47.0,307.6 46.5,307.6 46.5,307.2 46.0,307.2 46.0,307.5 45.5,307.5 45.5,307.4 45.0,307.4 45.0,307.3 44.5,307.3 44.5,307.3 44.0,307.3 44.0,307.5 43.5,307.5 43.5,307.3 43.0,307.3 43.0,307.3 42.5,307.3 42.5,307.4 42.0,307.4 42.0,307.7 41.5,307.7 41.5,307.4 41.0,307.4 41.0,307.3 40.5,307.3 40.5,307.5 40.0,307.5 40.0,307.4 39.5,307.4 39.5,307.6 39.0,307.6 39.0,307.6 38.5,307.6 38.5,307.4 38.0,307.4 38.0,307.8 37.5,307.8 37.5,307.8 37.0,307.8 37.0,307.7 36.5,307.7 36.5,307.5 36.0,307.5 36.0,307.5 35.5,307.5 35.5,307.5 35.0,307.5 35.0,307.8 34.5,307.8 34.5,307.8 34.0,307.8 34.0,307.8 33.5,307.8 33.5,307.7 33.0,307.7 33.0,307.9 32.5,307.9 32.5,307.7 32.0,307.7 32.0,308.0 31.5,308.0 31.5,308.0 31.0,308.0 31.0,307.9 30.5,307.9 30.5,308.2 30.0,308.2 30.0,307.8 29.5,307.8 29.5,308.2 29.0,308.2 29.0,307.8 28.5,307.8 28.5,308.2 28.0,308.2 28.0,308.2 27.5,308.2 27.5,308.3 27.0,308.3 27.0,308.2 26.5,308.2 26.5,307.9 26.0,307.9 26.0,308.2 25.5,308.2 25.5,308.2 25.0,308.2 25.0,308.4 24.5,308.4 24.5,308.2 24.0,308.2 24.0,308.4 23.5,308.4 23.5,308.4 23.0,308.4 23.0,308.5 22.5,308.5 22.5,308.2 22.0,308.2Z" fill="#00ffff" fill-opacity="1"/>
<path d="M52.0,241.6 52.5,241.6 52.5,243.2 53.0,243.2 53.0,244.5 53.5,244.5 53.5,245.6 54.0,245.6 54.0,246.8 54.5,246.8 54.5,248.1 55.0,248.1 55.0,249.6 55.5,249.6 55.5,250.7 56.0,250.7 56.0,251.8 56.5,251.8 56.5,253.1 57.0,253.1 57.0,254.1 57.5,254.1 57.5,255.3 58.0,255.3 58.0,256.4 58.5,256.4 58.5,257.3 59.0,257.3 59.0,258.0 59.5,258.0 59.5,259.5 60.0,259.5 60.0,260.1 60.5,260.1 60.5,261.0 61.0,261.0 61.0,261.9 61.5,261.9 61.5,262.8 62.0,262.8 62.0,264.0 62.5,264.0 62.5,264.6 63.0,264.6 63.0,265.8 63.5,265.8 63.5,266.2 64.0,266.2 64.0,267.1 64.5,267.1 64.5,268.1 65.0,268.1 65.0,269.0 65.5,269.0 65.5,269.6 66.0,269.6 66.0,270.1 66.5,270.1 66.5,271.2 67.0,271.2 67.0,271.7 67.5,271.7 67.5,272.7 68.0,272.7 68.0,273.0 68.5,273.0 68.5,273.9 69.0,273.9 69.0,274.3 69.5,274.3 69.5,275.2 70.0,275.2 70.0,275.4 70.5,275.4 70.5,276.1 71.0,276.1 71.0,276.6 71.5,276.6 71.5,277.6 72.0,277.6 72.0,277.8 72.5,277.8 72.5,278.7 73.0,278.7 73.0,279.1 73.5,279.1 73.5,279.7 74.0,279.7 74.0,280.1 74.5,280.1 74.5,280.7 75.0,280.7 75.0,281.3 75.5,281.3 75.5,281.7 76.0,281.7 76.0,282.0 76.5,282.0 76.5,282.5 77.0,282.5 77.0,282.9 77.5,282.9 77.5,283.2 78.0,283.2 78.0,283.6 78.5,283.6 78.5,284.4 79.0,284.4 79.0,284.7 79.5,284.7 79.5,285.1 80.0,285.1 80.0,285.7 80.5,285.7 80.5,286.0 81.0,286.0 81.0,286.4 81.5,286.4 81.5,286.7 82.0,286.7 82.0,286.9 82.5,286.9 82.5,287.4 83.0,287.4 83.0,287.8 83.5,287.8 83.5,288.1 84.0,288.1 84.0,288.3 84.5,288.3 84.5,288.4 85.0,288.4 85.0,289.0 85.5,289.0 85.5,289.2 86.0,289.2 86.0,289.5 86.5,289.5 86.5,289.7 87.0,289.7 87.0,289.8 87.5,289.8 87.5,290.1 88.0,290.1 88.0,290.8 88.5,290.8 88.5,291.1 89.0,291.1 89.0,291.3 89.5,291.3 89.5,291.2 90.0,291.2 90.0,291.7 90.5,291.7 90.5,291.7 91.0,291.7 91.0,292.1 91.5,292.1 91.5,292.6 92.0,292.6 92.0,292.5 92.5,292.5 92.5,292.7 93.0,292.7 93.0,292.8 93.5,292.8 93.5,293.5 94.0,293.5 94.0,293.4 94.5,293.4 94.5,293.6 95.0,293.6 95.0,294.0 95.5,294.0 95.5,294.0 96.0,294.0 96.0,294.4 96.5,294.4 96.5,294.4 97.0,294.4 97.0,294.5 97.5,294.5 97.5,295.0 98.0,295.0 98.0,294.9 98.5,294.9 98.5,295.0 99.0,295.0 99.0,295.0 99.5,295.0 99.5,295.6 100.0,295.6 100.0,295.4 100.5,295.4 100.5,295.8 101.0,295.8 101.0,295.7 101.5,295.7 101.5,295.9 102.0,295.9 102.0,296.1 102.5,296.1 102.5,296.5 103.0,296.5 103.0,296.6 103.5,296.6 103.5,296.8 104.0,296.8 104.0,296.8 104.5,296.8 104.5,297.1 105.0,297.1 105.0,296.8 105.5,296.8 105.5,297.2 106.0,297.2 106.0,297.3 106.5,297.3 106.5,297.4 107.0,297.4 107.0,297.4 107.5,297.4 107.5,297.6 108.0,297.6 108.0,297.6 108.5,297.6 108.5,297.7 109.0,297.7 109.0,297.8 109.5,297.8 109.5,298.2 110.0,298.2 110.0,298.2 110.5,298.2 110.5,298.0 111.0,298.0 111.0,298.1 111.5,298.1 111.5,298.3 112.0,298.3 112.0,298.7 112.5,298.7 112.5,298.5 113.0,298.5 113.0,298.9 113.5,298.9 113.5,298.9 114.0,298.9 114.0,299.1 114.5,299.1 114.5,299.0 115.0,299.0 115.0,298.7 115.5,298.7 115.5,299.3 116.0,299.3 116.0,298.9 116.5,298.9 116.5,299.3 117.0,299.3 117.0,299.4 117.5,299.4 117.5,299.4 118.0,299.4 118.0,299.6 118.5,299.6 118.5,299.7 119.0,299.7 119.0,299.5 119.5,299.5 119.5,299.7 120.0,299.7 120.0,299.6 120.5,299.6 120.5,299.8 121.0,299.8 121.0,299.6 121.5,299.6 121.5,300.1 122.0,300.1 122.0,299.8 122.5,299.8 122.5,299.9 123.0,299.9 123.0,299.9 123.5,299.9 123.5,300.3 124.0,300.3 124.0,300.3 124.5,300.3 124.5,300.0 125.0,300.0 125.0,300.4 125.5,300.4 125.5,300.2 126.0,300.2 126.0,300.5 126.5,300.5 126.5,300.4 127.0,300.4 127.0,300.4 127.5,300.4 127.5,300.6 128.0,300.6 128.0,300.5 128.5,300.5 128.5,300.8 129.0,300.8 129.0,300.8 129.5,300.8 129.5,300.6 130.0,300.6 130.0,300.6 130.5,300.6 130.5,300.9 131.0,300.9 131.0,300.7 131.5,300.7 131.5,301.0 132.0,301.0 132.0,300.7 132.5,300.7 132.5,300.8 133.0,300.8 133.0,300.8 133.5,300.8 133.5,301.0 134.0,301.0 134.0,301.2 134.5,301.2 134.5,301.2 135.0,301.2 135.0,301.0 135.5,301.0 135.5,300.9 136.0,300.9 136.0,301.1 136.5,301.1 136.5,301.3 137.0,301.3 137.0,301.2 137.5,301.2 137.5,301.1 138.0,301.1 138.0,301.1 138.5,301.1 138.5,301.5 139.0,301.5 139.0,301.3 139.5,301.3 139.5,301.2 140.0,301.2 140.0,301.4 140.5,301.4 140.5,301.3 141.0,301.3 141.0,301.5 141.5,301.5 141.5,301.2 142.0,301.2 142.0,301.4 142.5,301.4 142.5,301.5 143.0,301.5 143.0,301.6 143.5,301.6 143.5,301.3 144.0,301.3 144.0,301.7 144.5,301.7 144.5,301.5 145.0,301.5 145.0,301.8 145.5,301.8 145.5,301.4 146.0,301.4 146.0,301.8 146.5,301.8 146.5,301.8 147.0,301.8 147.0,301.9 147.5,301.9 147.5,301.5 148.0,301.5 148.0,301.9 148.5,301.9 148.5,301.9 149.0,301.9 149.0,301.5 149.5,301.5 149.5,301.9 150.0,301.9 150.0,301.8 150.5,301.8 150.5,301.9 151.0,301.9 151.0,301.5 151.5,301.5 151.5,301.9 152.0,301.9 152.0,301.6 152.5,301.6 152.5,301.8 153.0,301.8 153.0,301.8 153.5,301.8 153.5,301.9 154.0,301.9 154.0,301.7 154.5,301.7 154.5,306.2 154.0,306.2 154.0,306.5 153.5,306.5 153.5,306.2 153.0,306.2 153.0,306.5 152.5,306.5 152.5,306.5 152.0,306.5 152.0,306.4 151.5,306.4 151.5,306.1 151.0,306.1 151.0,306.1 150.5,306.1 150.5,306.2 150.0,306.2 150.0,306.4 149.5,306.4 149.5,306.0 149.0,306.0 149.0,306.2 148.5,306.2 148.5,306.0 148.0,306.0 148.0,306.0 147.5,306.0 147.5,306.0 147.0,306.0 147.0,306.4 146.5,306.4 146.5,306.0 146.0,306.0 146.0,306.1 145.5,306.1 145.5,306.2 145.0,306.2 145.0,305.9 144.5,305.9 144.5,306.0 144.0,306.0 144.0,306.2 143.5,306.2 143.5,305.7 143.0,305.7 143.0,306.0 142.5,306.0 142.5,305.7 142.0,305.7 142.0,306.1 141.5,306.1 141.5,305.9 141.0,305.9 141.0,306.0 140.5,306.0 140.5,305.8 140.0,305.8 140.0,305.7 139.5,305.7 139.5,305.7 139.0,305.7 139.0,305.7 138.5,305.7 138.5,305.5 138.0,305.5 138.0,305.7 137.5,305.7 137.5,305.6 137.0,305.6 137.0,305.6 136.5,305.6 136.5,305.5 136.0,305.5 136.0,305.8 135.5,305.8 135.5,305.4 135.0,305.4 135.0,305.3 134.5,305.3 134.5,305.5 134.0,305.5 134.0,305.6 133.5,305.6 133.5,305.3 133.0,305.3 133.0,305.6 132.5,305.6 132.5,305.5 132.0,305.5 132.0,305.2 131.5,305.2 131.5,305.2 131.0,305.2 131.0,305.1 130.5,305.1 130.5,305.4 130.0,305.4 130.0,305.3 129.5,305.3 129.5,305.0 129.0,305.0 129.0,305.2 128.5,305.2 128.5,305.1 128.0,305.1 128.0,304.9 127.5,304.9 127.5,304.8 127.0,304.8 127.0,304.7 126.5,304.7 126.5,304.7 126.0,304.7 126.0,304.8 125.5,304.8 125.5,304.5 125.0,304.5 125.0,304.8 124.5,304.8 124.5,304.8 124.0,304.8 124.0,304.6 123.5,304.6 123.5,304.7 123.0,304.7 123.0,304.3 122.5,304.3 122.5,304.4 122.0,304.4 122.0,304.2 121.5,304.2 121.5,304.3 121.0,304.3 121.0,304.1 120.5,304.1 120.5,304.1 120.0,304.1 120.0,304.3 119.5,304.3 119.5,304.2 119.0,304.2 119.0,303.8 118.5,303.8 118.5,303.7 118.0,303.7 118.0,303.7 117.5,303.7 117.5,303.7 117.0,303.7 117.0,303.7 116.5,303.7 116.5,303.5 116.0,303.5 116.0,303.8 115.5,303.8 115.5,303.2 115.0,303.2 115.0,303.5 114.5,303.5 114.5,303.2 114.0,303.2 114.0,303.3 113.5,303.3 113.5,302.9 113.0,302.9 113.0,303.0 112.5,303.0 112.5,303.0 112.0,303.0 112.0,302.7 111.5,302.7 111.5,303.0 111.0,303.0 111.0,302.7 110.5,302.7 110.5,302.5 110.0,302.5 110.0,302.6 109.5,302.6 109.5,302.6 109.0,302.6 109.0,302.4 108.5,302.4 108.5,302.4 108.0,302.4 108.0,302.3 107.5,302.3 107.5,301.8 107.0,301.8 107.0,301.6 106.5,301.6 106.5,301.6 106.0,301.6 106.0,301.7 105.5,301.7 105.5,301.5 105.0,301.5 105.0,301.4 104.5,301.4 104.5,301.2 104.0,301.2 104.0,300.9 103.5,300.9 103.5,300.9 103.0,300.9 103.0,300.7 102.5,300.7 102.5,300.8 102.0,300.8 102.0,300.5 101.5,300.5 101.5,300.3 101.0,300.3 101.0,300.5 100.5,300.5 100.5,299.9 100.0,299.9 100.0,299.9 99.5,299.9 99.5,299.9 99.0,299.9 99.0,299.5 98.5,299.5 98.5,299.5 98.0,299.5 98.0,299.3 97.5,299.3 97.5,299.2 97.0,299.2 97.0,298.9 96.5,298.9 96.5,298.8 96.0,298.8 96.0,298.6 95.5,298.6 95.5,298.3 95.0,298.3 95.0,298.0 94.5,298.0 94.5,297.8 94.0,297.8 94.0,297.9 93.5,297.9 93.5,297.4 93.0,297.4 93.0,297.5 92.5,297.5 92.5,297.1 92.0,297.1 92.0,296.7 91.5,296.7 91.5,296.6 91.0,296.6 91.0,296.5 90.5,296.5 90.5,296.2 90.0,296.2 90.0,296.1 89.5,296.1 89.5,295.5 89.0,295.5 89.0,295.1 88.5,295.1 88.5,295.3 88.0,295.3 88.0,294.8 87.5,294.8 87.5,294.5 87.0,294.5 87.0,294.5 86.5,294.5 86.5,294.2 86.0,294.2 86.0,293.7 85.5,293.7 85.5,293.2 85.0,293.2 85.0,292.9 84.5,292.9 84.5,292.8 84.0,292.8 84.0,292.3 83.5,292.3 83.5,292.3 83.0,292.3 83.0,291.6 82.5,291.6 82.5,291.5 82.0,291.5 82.0,291.0 81.5,291.0 81.5,290.7 81.0,290.7 81.0,290.5 80.5,290.5 80.5,289.9 80.0,289.9 80.0,289.6 79.5,289.6 79.5,289.1 79.0,289.1 79.0,289.0 78.5,289.0 78.5,288.3 78.0,288.3 78.0,287.7 77.5,287.7 77.5,287.3 77.0,287.3 77.0,287.2 76.5,287.2 76.5,286.8 76.0,286.8 76.0,286.1 75.5,286.1 75.5,285.8 75.0,285.8 75.0,285.2 74.5,285.2 74.5,284.8 74.0,284.8 74.0,284.2 73.5,284.2 73.5,283.4 73.0,283.4 73.0,282.8 72.5,282.8 72.5,282.3 72.0,282.3 72.0,282.0 71.5,282.0 71.5,281.2 71.0,281.2 71.0,280.7 70.5,280.7 70.5,280.3 70.0,280.3 70.0,279.7 69.5,279.7 69.5,279.0 69.0,279.0 69.0,278.3 68.5,278.3 68.5,277.6 68.0,277.6 68.0,276.9 67.5,276.9 67.5,276.2 67.0,276.2 67.0,275.3 66.5,275.3 66.5,274.8 66.0,274.8 66.0,273.9 65.5,273.9 65.5,273.4 65.0,273.4 65.0,272.4 64.5,272.4 64.5,271.5 64.0,271.5 64.0,270.9 63.5,270.9 63.5,270.0 63.0,270.0 63.0,269.1 62.5,269.1 62.5,268.2 62.0,268.2 62.0,267.5 61.5,267.5 61.5,266.4 61.0,266.4 61.0,265.9 60.5,265.9 60.5,264.8 60.0,264.8 60.0,263.6 59.5,263.6 59.5,262.8 59.0,262.8 59.0,261.7 58.5,261.7 58.5,260.5 58.0,260.5 58.0,259.6 57.5,259.6 57.5,258.4 57.0,258.4 57.0,257.3 56.5,257.3 56.5,256.4 56.0,256.4 56.0,254.9 55.5,254.9 55.5,253.7 55.0,253.7 55.0,252.9 54.5,252.9 54.5,251.3 54.0,251.3 54.0,250.2 53.5,250.2 53.5,248.8 53.0,248.8 53.0,247.4 52.5,247.4 52.5,246.1 52.0,246.1Z" fill="#00ffff" fill-opacity="1"/>
<path d="M155.2,362.8 155.7,362.8 155.7,361.5 156.2,361.5 156.2,360.1 156.7,360.1 156.7,358.8 157.2,358.8 157.2,357.2 157.7,357.2 157.7,356.0 158.2,356.0 158.2,355.2 158.7,355.2 158.7,353.9 159.2,353.9 159.2,352.7 159.7,352.7 159.7,351.3 160.2,351.3 160.2,350.7 160.7,350.7 160.7,349.3 161.2,349.3 161.2,348.1 161.7,348.1 161.7,347.1 162.2,347.1 162.2,346.4 162.7,346.4 162.7,345.3 163.2,345.3 163.2,344.4 163.7,344.4 163.7,343.5 164.2,343.5 164.2,342.5 164.7,342.5 164.7,341.4 165.2,341.4 165.2,340.8 165.7,340.8 165.7,339.7 166.2,339.7 166.2,338.9 166.7,338.9 166.7,338.0 167.2,338.0 167.2,337.3 167.7,337.3 167.7,336.4 168.2,336.4 168.2,335.8 168.7,335.8 168.7,334.9 169.2,334.9 169.2,334.1 169.7,334.1 169.7,333.4 170.2,333.4 170.2,332.7 170.7,332.7 170.7,332.1 171.2,332.1 171.2,331.8 171.7,331.8 171.7,330.9 172.2,330.9 172.2,330.3 172.7,330.3 172.7,329.5 173.2,329.5 173.2,329.2 173.7,329.2 173.7,328.5 174.2,328.5 174.2,327.9 174.7,327.9 174.7,327.1 175.2,327.1 175.2,326.9 175.7,326.9 175.7,326.0 176.2,326.0 176.2,325.7 176.7,325.7 176.7,325.0 177.2,325.0 177.2,324.7 177.7,324.7 177.7,323.9 178.2,323.9 178.2,323.4 178.7,323.4 178.7,323.2 179.2,323.2 179.2,322.6 179.7,322.6 179.7,322.2 180.2,322.2 180.2,321.8 180.7,321.8 180.7,321.4 181.2,321.4 181.2,320.8 181.7,320.8 181.7,320.6 182.2,320.6 182.2,319.9 182.7,319.9 182.7,319.9 183.2,319.9 183.2,319.5 183.7,319.5 183.7,319.0 184.2,319.0 184.2,318.6 184.7,318.6 184.7,318.2 185.2,318.2 185.2,317.7 185.7,317.7 185.7,317.6 186.2,317.6 186.2,317.0 186.7,317.0 186.7,316.6 187.2,316.6 187.2,316.5 187.7,316.5 187.7,316.1 188.2,316.1 188.2,316.0 188.7,316.0 188.7,315.7 189.2,315.7 189.2,315.4 189.7,315.4 189.7,315.0 190.2,315.0 190.2,314.9 190.7,314.9 190.7,314.2 191.2,314.2 191.2,314.0 191.7,314.0 191.7,313.7 192.2,313.7 192.2,313.5 192.7,313.5 192.7,313.5 193.2,313.5 193.2,313.3 193.7,313.3 193.7,312.9 194.2,312.9 194.2,312.5 194.7,312.5 194.7,312.4 195.2,312.4 195.2,312.2 195.7,312.2 195.7,311.9 196.2,311.9 196.2,311.8 196.7,311.8 196.7,311.7 197.2,311.7 197.2,311.4 197.7,311.4 197.7,311.2 198.2,311.2 198.2,311.2 198.7,311.2 198.7,310.7 199.2,310.7 199.2,310.7 199.7,310.7 199.7,310.4 200.2,310.4 200.2,310.2 200.7,310.2 200.7,310.2 201.2,310.2 201.2,309.8 201.7,309.8 201.7,309.6 202.2,309.6 202.2,309.7 202.7,309.7 202.7,309.2 203.2,309.2 203.2,309.0 203.7,309.0 203.7,309.3 204.2,309.3 204.2,308.8 204.7,308.8 204.7,309.0 205.2,309.0 205.2,308.6 205.7,308.6 205.7,308.6 206.2,308.6 206.2,308.5 206.7,308.5 206.7,308.4 207.2,308.4 207.2,308.1 207.7,308.1 207.7,308.2 208.2,308.2 208.2,308.1 208.7,308.1 208.7,307.8 209.2,307.8 209.2,307.8 209.7,307.8 209.7,307.5 210.2,307.5 210.2,307.4 210.7,307.4 210.7,307.3 211.2,307.3 211.2,307.1 211.7,307.1 211.7,307.2 212.2,307.2 212.2,306.9 212.7,306.9 212.7,306.9 213.2,306.9 213.2,306.8 213.7,306.8 213.7,306.6 214.2,306.6 214.2,306.7 214.7,306.7 214.7,306.4 215.2,306.4 215.2,306.2 215.7,306.2 215.7,306.4 216.2,306.4 216.2,306.0 216.7,306.0 216.7,306.2 217.2,306.2 217.2,306.0 217.7,306.0 217.7,305.8 218.2,305.8 218.2,306.1 218.7,306.1 218.7,305.6 219.2,305.6 219.2,305.7 219.7,305.7 219.7,305.7 220.2,305.7 220.2,305.6 220.7,305.6 220.7,305.7 221.2,305.7 221.2,305.2 221.7,305.2 221.7,305.6 222.2,305.6 222.2,305.3 222.7,305.3 222.7,305.3 223.2,305.3 223.2,305.3 223.7,305.3 223.7,304.9 224.2,304.9 224.2,305.1 224.7,305.1 224.7,305.1 225.2,305.1 225.2,304.8 225.7,304.8 225.7,305.0 226.2,305.0 226.2,304.9 226.7,304.9 226.7,304.8 227.2,304.8 227.2,304.8 227.7,304.8 227.7,304.9 228.2,304.9 228.2,304.9 228.7,304.9 228.7,304.8 229.2,304.8 229.2,304.7 229.7,304.7 229.7,304.7 230.2,304.7 230.2,304.3 230.7,304.3 230.7,304.2 231.2,304.2 231.2,304.3 231.7,304.3 231.7,304.5 232.2,304.5 232.2,304.3 232.7,304.3 232.7,304.1 233.2,304.1 233.2,304.2 233.7,304.2 233.7,304.0 234.2,304.0 234.2,304.1 234.7,304.1 234.7,304.3 235.2,304.3 235.2,304.2 235.7,304.2 235.7,303.9 236.2,303.9 236.2,304.2 236.7,304.2 236.7,304.1 237.2,304.1 237.2,303.8 237.7,303.8 237.7,303.9 238.2,303.9 238.2,303.9 238.7,303.9 238.7,303.9 239.2,303.9 239.2,303.5 239.7,303.5 239.7,303.6 240.2,303.6 240.2,303.9 240.7,303.9 240.7,303.8 241.2,303.8 241.2,303.9 241.7,303.9 241.7,303.5 242.2,303.5 242.2,303.6 242.7,303.6 242.7,303.5 243.2,303.5 243.2,303.4 243.7,303.4 243.7,303.6 244.2,303.6 244.2,303.3 244.7,303.3 244.7,303.3 245.2,303.3 245.2,303.6 245.7,303.6 245.7,303.5 246.2,303.5 246.2,303.7 246.7,303.7 246.7,303.2 247.2,303.2 247.2,303.6 247.7,303.6 247.7,303.4 248.2,303.4 248.2,303.3 248.7,303.3 248.7,303.4 249.2,303.4 249.2,303.1 249.7,303.1 249.7,303.2 250.2,303.2 250.2,303.3 250.7,303.3 250.7,303.0 251.2,303.0 251.2,303.1 251.7,303.1 251.7,303.0 252.2,303.0 252.2,303.3 252.7,303.3 252.7,303.3 253.2,303.3 253.2,303.3 253.7,303.3 253.7,303.1 254.2,303.1 254.2,302.9 254.7,302.9 254.7,302.9 255.2,302.9 255.2,303.3 255.7,303.3 255.7,303.0 256.2,303.0 256.2,303.0 256.7,303.0 256.7,302.8 257.2,302.8 257.2,302.9 257.7,302.9 257.7,303.1 258.2,303.1 258.2,302.8 258.7,302.8 258.7,302.9 259.2,302.9 259.2,302.9 259.7,302.9 259.7,303.2 260.2,303.2 260.2,302.8 260.7,302.8 260.7,302.9 261.2,302.9 261.2,303.0 261.7,303.0 261.7,302.7 262.2,302.7 262.2,303.0 262.7,303.0 262.7,302.8 263.2,302.8 263.2,302.9 263.7,302.9 263.7,302.9 264.2,302.9 264.2,302.9 264.7,302.9 264.7,302.7 265.2,302.7 265.2,302.8 265.7,302.8 265.7,302.6 266.2,302.6 266.2,302.7 266.7,302.7 266.7,307.2 266.2,307.2 266.2,307.4 265.7,307.4 265.7,307.1 265.2,307.1 265.2,307.2 264.7,307.2 264.7,307.2 264.2,307.2 264.2,307.6 263.7,307.6 263.7,307.6 263.2,307.6 263.2,307.5 262.7,307.5 262.7,307.5 262.2,307.5 262.2,307.7 261.7,307.7 261.7,307.6 261.2,307.6 261.2,307.3 260.7,307.3 260.7,307.3 260.2,307.3 260.2,307.5 259.7,307.5 259.7,307.6 259.2,307.6 259.2,307.4 258.7,307.4 258.7,307.5 258.2,307.5 258.2,307.3 257.7,307.3 257.7,307.3 257.2,307.3 257.2,307.3 256.7,307.3 256.7,307.5 256.2,307.5 256.2,307.8 255.7,307.8 255.7,307.7 255.2,307.7 255.2,307.7 254.7,307.7 254.7,307.4 254.2,307.4 254.2,307.5 253.7,307.5 253.7,307.8 253.2,307.8 253.2,307.7 252.7,307.7 252.7,307.8 252.2,307.8 252.2,307.8 251.7,307.8 251.7,307.9 251.2,307.9 251.2,307.9 250.7,307.9 250.7,307.6 250.2,307.6 250.2,307.7 249.7,307.7 249.7,308.0 249.2,308.0 249.2,308.0 248.7,308.0 248.7,307.9 248.2,307.9 248.2,307.9 247.7,307.9 247.7,308.0 247.2,308.0 247.2,307.9 246.7,307.9 246.7,308.1 246.2,308.1 246.2,308.0 245.7,308.0 245.7,307.8 245.2,307.8 245.2,308.0 244.7,308.0 244.7,308.2 244.2,308.2 244.2,308.0 243.7,308.0 243.7,308.1 243.2,308.1 243.2,308.1 242.7,308.1 242.7,308.2 242.2,308.2 242.2,307.9 241.7,307.9 241.7,308.2 241.2,308.2 241.2,308.3 240.7,308.3 240.7,308.0 240.2,308.0 240.2,308.1 239.7,308.1 239.7,308.5 239.2,308.5 239.2,308.2 238.7,308.2 238.7,308.3 238.2,308.3 238.2,308.6 237.7,308.6 237.7,308.6 237.2,308.6 237.2,308.5 236.7,308.5 236.7,308.3 236.2,308.3 236.2,308.6 235.7,308.6 235.7,308.3 235.2,308.3 235.2,308.4 234.7,308.4 234.7,308.8 234.2,308.8 234.2,308.8 233.7,308.8 233.7,308.5 233.2,308.5 233.2,308.9 232.7,308.9 232.7,308.6 232.2,308.6 232.2,309.0 231.7,309.0 231.7,309.1 231.2,309.1 231.2,309.1 230.7,309.1 230.7,309.1 230.2,309.1 230.2,308.9 229.7,308.9 229.7,308.9 229.2,308.9 229.2,309.2 228.7,309.2 228.7,309.0 228.2,309.0 228.2,309.3 227.7,309.3 227.7,309.4 227.2,309.4 227.2,309.2 226.7,309.2 226.7,309.5 226.2,309.5 226.2,309.3 225.7,309.3 225.7,309.3 225.2,309.3 225.2,309.6 224.7,309.6 224.7,309.5 224.2,309.5 224.2,309.7 223.7,309.7 223.7,309.7 223.2,309.7 223.2,309.9 222.7,309.9 222.7,309.8 222.2,309.8 222.2,309.8 221.7,309.8 221.7,310.1 221.2,310.1 221.2,309.8 220.7,309.8 220.7,310.0 220.2,310.0 220.2,310.4 219.7,310.4 219.7,310.3 219.2,310.3 219.2,310.5 218.7,310.5 218.7,310.3 218.2,310.3 218.2,310.7 217.7,310.7 217.7,310.6 217.2,310.6 217.2,310.5 216.7,310.5 216.7,310.7 216.2,310.7 216.2,310.9 215.7,310.9 215.7,311.0 215.2,311.0 215.2,310.7 214.7,310.7 214.7,311.3 214.2,311.3 214.2,311.1 213.7,311.1 213.7,311.2 213.2,311.2 213.2,311.3 212.7,311.3 212.7,311.7 212.2,311.7 212.2,311.4 211.7,311.4 211.7,311.5 211.2,311.5 211.2,311.6 210.7,311.6 210.7,312.1 210.2,312.1 210.2,312.2 209.7,312.2 209.7,312.1 209.2,312.1 209.2,312.2 208.7,312.2 208.7,312.2 208.2,312.2 208.2,312.3 207.7,312.3 207.7,312.5 207.2,312.5 207.2,312.7 206.7,312.7 206.7,312.7 206.2,312.7 206.2,313.1 205.7,313.1 205.7,313.4 205.2,313.4 205.2,313.3 204.7,313.3 204.7,313.5 204.2,313.5 204.2,313.4 203.7,313.4 203.7,313.7 203.2,313.7 203.2,313.7 202.7,313.7 202.7,314.2 202.2,314.2 202.2,314.3 201.7,314.3 201.7,314.5 201.2,314.5 201.2,314.6 200.7,314.6 200.7,314.9 200.2,314.9 200.2,314.8 199.7,314.8 199.7,315.0 199.2,315.0 199.2,315.4 198.7,315.4 198.7,315.4 198.2,315.4 198.2,315.5 197.7,315.5 197.7,315.9 197.2,315.9 197.2,316.0 196.7,316.0 196.7,316.3 196.2,316.3 196.2,316.7 195.7,316.7 195.7,316.5 195.2,316.5 195.2,317.2 194.7,317.2 194.7,317.4 194.2,317.4 194.2,317.6 193.7,317.6 193.7,317.4 193.2,317.4 193.2,318.1 192.7,318.1 192.7,318.3 192.2,318.3 192.2,318.4 191.7,318.4 191.7,318.5 191.2,318.5 191.2,319.0 190.7,319.0 190.7,319.4 190.2,319.4 190.2,319.6 189.7,319.6 189.7,319.8 189.2,319.8 189.2,320.2 188.7,320.2 188.7,320.3 188.2,320.3 188.2,320.9 187.7,320.9 187.7,321.0 187.2,321.0 187.2,321.6 186.7,321.6 186.7,321.5 186.2,321.5 186.2,322.1 185.7,322.1 185.7,322.3 185.2,322.3 185.2,322.9 184.7,322.9 184.7,322.9 184.2,322.9 184.2,323.5 183.7,323.5 183.7,323.9 183.2,323.9 183.2,324.4 182.7,324.4 182.7,324.7 182.2,324.7 182.2,324.9 181.7,324.9 181.7,325.3 181.2,325.3 181.2,326.0 180.7,326.0 180.7,326.3 180.2,326.3 180.2,326.9 179.7,326.9 179.7,327.0 179.2,327.0 179.2,327.8 178.7,327.8 178.7,328.2 178.2,328.2 178.2,328.6 177.7,328.6 177.7,329.2 177.2,329.2 177.2,329.8 176.7,329.8 176.7,330.1 176.2,330.1 176.2,330.5 175.7,330.5 175.7,331.0 175.2,331.0 175.2,331.6 174.7,331.6 174.7,332.1 174.2,332.1 174.2,332.7 173.7,332.7 173.7,333.4 173.2,333.4 173.2,334.3 172.7,334.3 172.7,334.9 172.2,334.9 172.2,335.4 171.7,335.4 171.7,336.2 171.2,336.2 171.2,336.8 170.7,336.8 170.7,337.5 170.2,337.5 170.2,337.9 169.7,337.9 169.7,339.0 169.2,339.0 169.2,339.5 168.7,339.5 168.7,340.2 168.2,340.2 168.2,340.9 167.7,340.9 167.7,341.8 167.2,341.8 167.2,342.5 166.7,342.5 166.7,343.6 166.2,343.6 166.2,344.6 165.7,344.6 165.7,345.4 165.2,345.4 165.2,346.2 164.7,346.2 164.7,347.0 164.2,347.0 164.2,348.1 163.7,348.1 163.7,348.6 163.2,348.6 163.2,349.7 162.7,349.7 162.7,350.7 162.2,350.7 162.2,351.9 161.7,351.9 161.7,352.7 161.2,352.7 161.2,354.0 160.7,354.0 160.7,355.1 160.2,355.1 160.2,356.1 159.7,356.1 159.7,357.3 159.2,357.3 159.2,358.2 158.7,358.2 158.7,359.6 158.2,359.6 158.2,360.6 157.7,360.6 157.7,361.8 157.2,361.8 157.2,363.2 156.7,363.2 156.7,364.4 156.2,364.4 156.2,366.0 155.7,366.0 155.7,367.4 155.2,367.4Z" fill="#00ffff" fill-opacity="1"/>
<path d="M268.0,241.6 268.5,241.6 268.5,243.2 269.0,243.2 269.0,244.6 269.5,244.6 269.5,245.9 270.0,245.9 270.0,246.8 270.5,246.8 270.5,248.2 271.0,248.2 271.0,249.3 271.5,249.3 271.5,250.7 272.0,250.7 272.0,252.0 272.5,252.0 272.5,252.8 273.0,252.8 273.0,254.2 273.5,254.2 273.5,255.2 274.0,255.2 274.0,256.0 274.5,256.0 274.5,257.1 275.0,257.1 275.0,258.1 275.5,258.1 275.5,259.0 276.0,259.0 276.0,260.0 276.5,260.0 276.5,261.1 277.0,261.1 277.0,261.9 277.5,261.9 277.5,263.2 278.0,263.2 278.0,263.7 278.5,263.7 278.5,264.6 279.0,264.6 279.0,265.6 279.5,265.6 279.5,266.2 280.0,266.2 280.0,267.4 280.5,267.4 280.5,268.0 281.0,268.0 281.0,269.0 281.5,269.0 281.5,269.6 282.0,269.6 282.0,270.4 282.5,270.4 282.5,271.0 283.0,271.0 283.0,271.7 283.5,271.7 283.5,272.2 284.0,272.2 284.0,272.9 284.5,272.9 284.5,273.9 285.0,273.9 285.0,274.2 285.5,274.2 285.5,275.0 286.0,275.0 286.0,275.9 286.5,275.9 286.5,276.4 287.0,276.4 287.0,276.8 287.5,276.8 287.5,277.2 288.0,277.2 288.0,278.0 288.5,278.0 288.5,278.5 289.0,278.5 289.0,278.9 289.5,278.9 289.5,279.7 290.0,279.7 290.0,280.2 290.5,280.2 290.5,280.7 291.0,280.7 291.0,281.3 291.5,281.3 291.5,281.5 292.0,281.5 292.0,282.0 292.5,282.0 292.5,282.3 293.0,282.3 293.0,282.9 293.5,282.9 293.5,283.1 294.0,283.1 294.0,283.7 294.5,283.7 294.5,284.5 295.0,284.5 295.0,284.4 295.5,284.4 295.5,285.0 296.0,285.0 296.0,285.5 296.5,285.5 296.5,285.8 297.0,285.8 297.0,286.4 297.5,286.4 297.5,286.7 298.0,286.7 298.0,287.1 298.5,287.1 298.5,287.4 299.0,287.4 299.0,287.6 299.5,287.6 299.5,287.7 300.0,287.7 300.0,288.2 300.5,288.2 300.5,288.4 301.0,288.4 301.0,289.1 301.5,289.1 301.5,289.3 302.0,289.3 302.0,289.6 302.5,289.6 302.5,289.6 303.0,289.6 303.0,289.8 303.5,289.8 303.5,290.3 304.0,290.3 304.0,290.5 304.5,290.5 304.5,291.0 305.0,291.0 305.0,291.3 305.5,291.3 305.5,291.6 306.0,291.6 306.0,291.6 306.5,291.6 306.5,292.1 307.0,292.1 307.0,292.1 307.5,292.1 307.5,292.4 308.0,292.4 308.0,292.8 308.5,292.8 308.5,292.9 309.0,292.9 309.0,292.9 309.5,292.9 309.5,293.1 310.0,293.1 310.0,293.7 310.5,293.7 310.5,293.7 311.0,293.7 311.0,293.7 311.5,293.7 311.5,294.0 312.0,294.0 312.0,294.3 312.5,294.3 312.5,294.2 313.0,294.2 313.0,294.8 313.5,294.8 313.5,295.0 314.0,295.0 314.0,295.1 314.5,295.1 314.5,295.2 315.0,295.2 315.0,295.3 315.5,295.3 315.5,295.6 316.0,295.6 316.0,295.7 316.5,295.7 316.5,295.5 317.0,295.5 317.0,295.9 317.5,295.9 317.5,296.3 318.0,296.3 318.0,296.0 318.5,296.0 318.5,296.5 319.0,296.5 319.0,296.7 319.5,296.7 319.5,296.7 320.0,296.7 320.0,296.6 320.5,296.6 320.5,296.9 321.0,296.9 321.0,296.9 321.5,296.9 321.5,297.0 322.0,297.0 322.0,297.0 322.5,297.0 322.5,297.5 323.0,297.5 323.0,297.6 323.5,297.6 323.5,297.5 324.0,297.5 324.0,297.8 324.5,297.8 324.5,297.7 325.0,297.7 325.0,297.9 325.5,297.9 325.5,298.0 326.0,298.0 326.0,298.3 326.5,298.3 326.5,298.0 327.0,298.0 327.0,298.5 327.5,298.5 327.5,298.4 328.0,298.4 328.0,298.4 328.5,298.4 328.5,298.4 329.0,298.4 329.0,298.4 329.5,298.4 329.5,298.8 330.0,298.8 330.0,298.8 330.5,298.8 330.5,298.8 331.0,298.8 331.0,298.9 331.5,298.9 331.5,299.3 332.0,299.3 332.0,299.0 332.5,299.0 332.5,299.3 333.0,299.3 333.0,299.2 333.5,299.2 333.5,299.4 334.0,299.4 334.0,299.5 334.5,299.5 334.5,299.6 335.0,299.6 335.0,299.6 335.5,299.6 335.5,299.8 336.0,299.8 336.0,299.5 336.5,299.5 336.5,299.9 337.0,299.9 337.0,299.7 337.5,299.7 337.5,299.9 338.0,299.9 338.0,300.2 338.5,300.2 338.5,300.1 339.0,300.1 339.0,299.8 339.5,299.8 339.5,299.9 340.0,299.9 340.0,300.0 340.5,300.0 340.5,300.0 341.0,300.0 341.0,300.0 341.5,300.0 341.5,300.5 342.0,300.5 342.0,300.4 342.5,300.4 342.5,300.5 343.0,300.5 343.0,300.4 343.5,300.4 343.5,300.6 344.0,300.6 344.0,300.5 344.5,300.5 344.5,300.5 345.0,300.5 345.0,300.6 345.5,300.6 345.5,300.5 346.0,300.5 346.0,300.6 346.5,300.6 346.5,300.9 347.0,300.9 347.0,300.8 347.5,300.8 347.5,300.9 348.0,300.9 348.0,300.7 348.5,300.7 348.5,300.9 349.0,300.9 349.0,301.1 349.5,301.1 349.5,301.0 350.0,301.0 350.0,301.1 350.5,301.1 350.5,300.9 351.0,300.9 351.0,301.2 351.5,301.2 351.5,301.0 352.0,301.0 352.0,301.0 352.5,301.0 352.5,301.3 353.0,301.3 353.0,301.2 353.5,301.2 353.5,301.0 354.0,301.0 354.0,301.1 354.5,301.1 354.5,301.1 355.0,301.1 355.0,301.4 355.5,301.4 355.5,301.2 356.0,301.2 356.0,301.3 356.5,301.3 356.5,301.5 357.0,301.5 357.0,301.3 357.5,301.3 357.5,301.2 358.0,301.2 358.0,301.5 358.5,301.5 358.5,301.5 359.0,301.5 359.0,301.6 359.5,301.6 359.5,301.6 360.0,301.6 360.0,301.3 360.5,301.3 360.5,301.4 361.0,301.4 361.0,301.6 361.5,301.6 361.5,301.4 362.0,301.4 362.0,301.8 362.5,301.8 362.5,301.7 363.0,301.7 363.0,301.6 363.5,301.6 363.5,301.9 364.0,301.9 364.0,301.7 364.5,301.7 364.5,301.8 365.0,301.8 365.0,301.8 365.5,301.8 365.5,301.7 366.0,301.7 366.0,302.0 366.5,302.0 366.5,301.7 367.0,301.7 367.0,301.9 367.5,301.9 367.5,301.6 368.0,301.6 368.0,301.8 368.5,301.8 368.5,301.9 369.0,301.9 369.0,301.9 369.5,301.9 369.5,301.8 370.0,301.8 370.0,306.4 369.5,306.4 369.5,306.4 369.0,306.4 369.0,306.1 368.5,306.1 368.5,306.3 368.0,306.3 368.0,306.2 367.5,306.2 367.5,306.5 367.0,306.5 367.0,306.2 366.5,306.2 366.5,306.3 366.0,306.3 366.0,306.1 365.5,306.1 365.5,306.3 365.0,306.3 365.0,306.3 364.5,306.3 364.5,305.9 364.0,305.9 364.0,306.1 363.5,306.1 363.5,306.0 363.0,306.0 363.0,306.1 362.5,306.1 362.5,306.3 362.0,306.3 362.0,306.0 361.5,306.0 361.5,305.9 361.0,305.9 361.0,306.2 360.5,306.2 360.5,305.9 360.0,305.9 360.0,306.2 359.5,306.2 359.5,305.8 359.0,305.8 359.0,306.2 358.5,306.2 358.5,305.9 358.0,305.9 358.0,306.1 357.5,306.1 357.5,306.1 357.0,306.1 357.0,305.9 356.5,305.9 356.5,305.8 356.0,305.8 356.0,305.9 355.5,305.9 355.5,305.6 355.0,305.6 355.0,305.6 354.5,305.6 354.5,306.0 354.0,306.0 354.0,305.7 353.5,305.7 353.5,305.4 353.0,305.4 353.0,305.4 352.5,305.4 352.5,305.7 352.0,305.7 352.0,305.7 351.5,305.7 351.5,305.7 351.0,305.7 351.0,305.4 350.5,305.4 350.5,305.6 350.0,305.6 350.0,305.4 349.5,305.4 349.5,305.4 349.0,305.4 349.0,305.5 348.5,305.5 348.5,305.5 348.0,305.5 348.0,305.3 347.5,305.3 347.5,305.2 347.0,305.2 347.0,305.4 346.5,305.4 346.5,305.2 346.0,305.2 346.0,305.3 345.5,305.3 345.5,305.0 345.0,305.0 345.0,304.9 344.5,304.9 344.5,305.0 344.0,305.0 344.0,305.0 343.5,305.0 343.5,304.8 343.0,304.8 343.0,304.9 342.5,304.9 342.5,304.8 342.0,304.8 342.0,304.8 341.5,304.8 341.5,304.8 341.0,304.8 341.0,304.8 340.5,304.8 340.5,304.7 340.0,304.7 340.0,304.7 339.5,304.7 339.5,304.4 339.0,304.4 339.0,304.7 338.5,304.7 338.5,304.2 338.0,304.2 338.0,304.5 337.5,304.5 337.5,304.1 337.0,304.1 337.0,304.4 336.5,304.4 336.5,304.3 336.0,304.3 336.0,304.2 335.5,304.2 335.5,303.8 335.0,303.8 335.0,304.2 334.5,304.2 334.5,304.0 334.0,304.0 334.0,304.0 333.5,304.0 333.5,303.9 333.0,303.9 333.0,303.5 332.5,303.5 332.5,303.4 332.0,303.4 332.0,303.7 331.5,303.7 331.5,303.7 331.0,303.7 331.0,303.5 330.5,303.5 330.5,303.1 330.0,303.1 330.0,303.1 329.5,303.1 329.5,303.3 329.0,303.3 329.0,303.0 328.5,303.0 328.5,303.0 328.0,303.0 328.0,302.7 327.5,302.7 327.5,302.8 327.0,302.8 327.0,302.9 326.5,302.9 326.5,302.6 326.0,302.6 326.0,302.3 325.5,302.3 325.5,302.5 325.0,302.5 325.0,302.2 324.5,302.2 324.5,302.1 324.0,302.1 324.0,302.3 323.5,302.3 323.5,301.8 323.0,301.8 323.0,301.8 322.5,301.8 322.5,301.5 322.0,301.5 322.0,301.4 321.5,301.4 321.5,301.5 321.0,301.5 321.0,301.2 320.5,301.2 320.5,301.3 320.0,301.3 320.0,300.9 319.5,300.9 319.5,301.0 319.0,301.0 319.0,300.9 318.5,300.9 318.5,300.8 318.0,300.8 318.0,300.4 317.5,300.4 317.5,300.2 317.0,300.2 317.0,300.4 316.5,300.4 316.5,300.0 316.0,300.0 316.0,299.8 315.5,299.8 315.5,300.0 315.0,300.0 315.0,299.5 314.5,299.5 314.5,299.5 314.0,299.5 314.0,299.2 313.5,299.2 313.5,298.9 313.0,298.9 313.0,299.0 312.5,299.0 312.5,298.7 312.0,298.7 312.0,298.7 311.5,298.7 311.5,298.2 311.0,298.2 311.0,298.1 310.5,298.1 310.5,297.9 310.0,297.9 310.0,297.6 309.5,297.6 309.5,297.4 309.0,297.4 309.0,297.2 308.5,297.2 308.5,296.9 308.0,296.9 308.0,296.9 307.5,296.9 307.5,296.7 307.0,296.7 307.0,296.4 306.5,296.4 306.5,296.3 306.0,296.3 306.0,295.7 305.5,295.7 305.5,295.5 305.0,295.5 305.0,295.6 304.5,295.6 304.5,295.1 304.0,295.1 304.0,294.7 303.5,294.7 303.5,294.6 303.0,294.6 303.0,294.5 302.5,294.5 302.5,294.1 302.0,294.1 302.0,293.5 301.5,293.5 301.5,293.5 301.0,293.5 301.0,293.3 300.5,293.3 300.5,292.5 300.0,292.5 300.0,292.4 299.5,292.4 299.5,292.0 299.0,292.0 299.0,292.0 298.5,292.0 298.5,291.6 298.0,291.6 298.0,291.2 297.5,291.2 297.5,290.5 297.0,290.5 297.0,290.5 296.5,290.5 296.5,290.1 296.0,290.1 296.0,289.3 295.5,289.3 295.5,289.1 295.0,289.1 295.0,288.7 294.5,288.7 294.5,288.1 294.0,288.1 294.0,288.0 293.5,288.0 293.5,287.7 293.0,287.7 293.0,287.1 292.5,287.1 292.5,286.4 292.0,286.4 292.0,285.9 291.5,285.9 291.5,285.4 291.0,285.4 291.0,285.3 290.5,285.3 290.5,284.8 290.0,284.8 290.0,284.1 289.5,284.1 289.5,283.6 289.0,283.6 289.0,283.0 288.5,283.0 288.5,282.7 288.0,282.7 288.0,282.0 287.5,282.0 287.5,281.4 287.0,281.4 287.0,280.6 286.5,280.6 286.5,280.0 286.0,280.0 286.0,279.4 285.5,279.4 285.5,278.8 285.0,278.8 285.0,278.3 284.5,278.3 284.5,277.8 284.0,277.8 284.0,276.9 283.5,276.9 283.5,276.1 283.0,276.1 283.0,275.7 282.5,275.7 282.5,274.7 282.0,274.7 282.0,274.1 281.5,274.1 281.5,273.1 281.0,273.1 281.0,272.5 280.5,272.5 280.5,271.8 280.0,271.8 280.0,271.1 279.5,271.1 279.5,270.3 279.0,270.3 279.0,269.1 278.5,269.1 278.5,268.5 278.0,268.5 278.0,267.7 277.5,267.7 277.5,266.6 277.0,266.6 277.0,265.7 276.5,265.7 276.5,264.9 276.0,264.9 276.0,263.8 275.5,263.8 275.5,262.6 275.0,262.6 275.0,261.6 274.5,261.6 274.5,260.7 274.0,260.7 274.0,259.5 273.5,259.5 273.5,258.6 273.0,258.6 273.0,257.3 272.5,257.3 272.5,256.1 272.0,256.1 272.0,255.4 271.5,255.4 271.5,254.1 271.0,254.1 271.0,252.7 270.5,252.7 270.5,251.3 270.0,251.3 270.0,250.4 269.5,250.4 269.5,248.9 269.0,248.9 269.0,247.7 268.5,247.7 268.5,246.1 268.0,246.1Z" fill="#00ffff" fill-opacity="1"/>
<path d="M370.8,362.8 371.3,362.8 371.3,361.4 371.8,361.4 371.8,360.1 372.3,360.1 372.3,358.9 372.8,358.9 372.8,357.6 373.3,357.6 373.3,356.3 373.8,356.3 373.8,355.0 374.3,355.0 374.3,353.7 374.8,353.7 374.8,352.8 375.3,352.8 375.3,351.5 375.8,351.5 375.8,350.6 376.3,350.6 376.3,349.5 376.8,349.5 376.8,348.1 377.3,348.1 377.3,347.2 377.8,347.2 377.8,346.1 378.3,346.1 378.3,345.4 378.8,345.4 378.8,344.3 379.3,344.3 379.3,343.6 379.8,343.6 379.8,342.6 380.3,342.6 380.3,341.7 380.8,341.7 380.8,340.7 381.3,340.7 381.3,339.8 381.8,339.8 381.8,338.9 382.3,338.9 382.3,337.9 382.8,337.9 382.8,337.3 383.3,337.3 383.3,336.6 383.8,336.6 383.8,335.9 384.3,335.9 384.3,335.1 384.8,335.1 384.8,334.3 385.3,334.3 385.3,333.7 385.8,333.7 385.8,332.7 386.3,332.7 386.3,332.4 386.8,332.4 386.8,331.5 387.3,331.5 387.3,331.0 387.8,331.0 387.8,330.3 388.3,330.3 388.3,329.4 388.8,329.4 388.8,329.1 389.3,329.1 389.3,328.3 389.8,328.3 389.8,327.9 390.3,327.9 390.3,327.4 390.8,327.4 390.8,326.7 391.3,326.7 391.3,326.2 391.8,326.2 391.8,325.9 392.3,325.9 392.3,324.9 392.8,324.9 392.8,324.5 393.3,324.5 393.3,324.1 393.8,324.1 393.8,323.8 394.3,323.8 394.3,323.0 394.8,323.0 394.8,322.6 395.3,322.6 395.3,322.2 395.8,322.2 395.8,321.8 396.3,321.8 396.3,321.3 396.8,321.3 396.8,320.9 397.3,320.9 397.3,320.7 397.8,320.7 397.8,320.0 398.3,320.0 398.3,319.6 398.8,319.6 398.8,319.3 399.3,319.3 399.3,319.0 399.8,319.0 399.8,318.5 400.3,318.5 400.3,318.3 400.8,318.3 400.8,317.6 401.3,317.6 401.3,317.4 401.8,317.4 401.8,317.1 402.3,317.1 402.3,316.6 402.8,316.6 402.8,316.4 403.3,316.4 403.3,316.0 403.8,316.0 403.8,315.7 404.3,315.7 404.3,315.8 404.8,315.8 404.8,315.3 405.3,315.3 405.3,314.9 405.8,314.9 405.8,314.5 406.3,314.5 406.3,314.2 406.8,314.2 406.8,314.4 407.3,314.4 407.3,314.1 407.8,314.1 407.8,313.6 408.3,313.6 408.3,313.6 408.8,313.6 408.8,313.3 409.3,313.3 409.3,312.7 409.8,312.7 409.8,312.4 410.3,312.4 410.3,312.3 410.8,312.3 410.8,312.0 411.3,312.0 411.3,311.9 411.8,311.9 411.8,312.0 412.3,312.0 412.3,311.6 412.8,311.6 412.8,311.2 413.3,311.2 413.3,311.1 413.8,311.1 413.8,310.8 414.3,310.8 414.3,310.9 414.8,310.9 414.8,310.7 415.3,310.7 415.3,310.2 415.8,310.2 415.8,310.1 416.3,310.1 416.3,310.2 416.8,310.2 416.8,309.7 417.3,309.7 417.3,309.7 417.8,309.7 417.8,309.8 418.3,309.8 418.3,309.3 418.8,309.3 418.8,309.3 419.3,309.3 419.3,309.2 419.8,309.2 419.8,308.9 420.3,308.9 420.3,308.8 420.8,308.8 420.8,308.4 421.3,308.4 421.3,308.5 421.8,308.5 421.8,308.5 422.3,308.5 422.3,308.3 422.8,308.3 422.8,308.3 423.3,308.3 423.3,307.9 423.8,307.9 423.8,307.9 424.3,307.9 424.3,307.9 424.8,307.9 424.8,307.9 425.3,307.9 425.3,307.6 425.8,307.6 425.8,307.4 426.3,307.4 426.3,307.2 426.8,307.2 426.8,307.0 427.3,307.0 427.3,306.9 427.8,306.9 427.8,306.9 428.3,306.9 428.3,306.9 428.8,306.9 428.8,306.5 429.3,306.5 429.3,306.9 429.8,306.9 429.8,306.6 430.3,306.6 430.3,306.6 430.8,306.6 430.8,306.4 431.3,306.4 431.3,306.5 431.8,306.5 431.8,306.4 432.3,306.4 432.3,306.1 432.8,306.1 432.8,306.0 433.3,306.0 433.3,306.2 433.8,306.2 433.8,306.0 434.3,306.0 434.3,305.7 434.8,305.7 434.8,305.7 435.3,305.7 435.3,305.5 435.8,305.5 435.8,305.5 436.3,305.5 436.3,305.5 436.8,305.5 436.8,305.5 437.3,305.5 437.3,305.6 437.8,305.6 437.8,305.2 438.3,305.2 438.3,305.2 438.8,305.2 438.8,305.4 439.3,305.4 439.3,304.9 439.8,304.9 439.8,305.2 440.3,305.2 440.3,305.1 440.8,305.1 440.8,305.0 441.3,305.0 441.3,305.0 441.8,305.0 441.8,304.9 442.3,304.9 442.3,304.7 442.8,304.7 442.8,304.9 443.3,304.9 443.3,304.8 443.8,304.8 443.8,304.5 444.3,304.5 444.3,304.3 444.8,304.3 444.8,304.8 445.3,304.8 445.3,304.5 445.8,304.5 445.8,304.5 446.3,304.5 446.3,304.6 446.8,304.6 446.8,304.3 447.3,304.3 447.3,304.3 447.8,304.3 447.8,304.1 448.3,304.1 448.3,304.4 448.8,304.4 448.8,304.0 449.3,304.0 449.3,304.1 449.8,304.1 449.8,304.1 450.3,304.1 450.3,304.2 450.8,304.2 450.8,303.9 451.3,303.9 451.3,304.1 451.8,304.1 451.8,303.7 452.3,303.7 452.3,303.9 452.8,303.9 452.8,303.7 453.3,303.7 453.3,304.1 453.8,304.1 453.8,303.7 454.3,303.7 454.3,304.0 454.8,304.0 454.8,303.7 455.3,303.7 455.3,304.0 455.8,304.0 455.8,303.8 456.3,303.8 456.3,303.8 456.8,303.8 456.8,303.6 457.3,303.6 457.3,303.5 457.8,303.5 457.8,303.6 458.3,303.6 458.3,303.8 458.8,303.8 458.8,303.8 459.3,303.8 459.3,303.8 459.8,303.8 459.8,303.6 460.3,303.6 460.3,303.5 460.8,303.5 460.8,303.5 461.3,303.5 461.3,303.4 461.8,303.4 461.8,303.2 462.3,303.2 462.3,303.4 462.8,303.4 462.8,303.1 463.3,303.1 463.3,303.3 463.8,303.3 463.8,303.4 464.3,303.4 464.3,303.4 464.8,303.4 464.8,303.5 465.3,303.5 465.3,303.1 465.8,303.1 465.8,303.3 466.3,303.3 466.3,303.3 466.8,303.3 466.8,303.2 467.3,303.2 467.3,303.0 467.8,303.0 467.8,303.3 468.3,303.3 468.3,303.2 468.8,303.2 468.8,303.2 469.3,303.2 469.3,303.2 469.8,303.2 469.8,303.0 470.3,303.0 470.3,302.9 470.8,302.9 470.8,303.2 471.3,303.2 471.3,303.3 471.8,303.3 471.8,303.2 472.3,303.2 472.3,303.3 472.8,303.3 472.8,303.2 473.3,303.2 473.3,303.2 473.8,303.2 473.8,303.0 474.3,303.0 474.3,302.8 474.8,302.8 474.8,303.1 475.3,303.1 475.3,302.8 475.8,302.8 475.8,302.8 476.3,302.8 476.3,302.7 476.8,302.7 476.8,302.9 477.3,302.9 477.3,303.1 477.8,303.1 477.8,302.8 478.3,302.8 478.3,302.8 478.8,302.8 478.8,302.9 479.3,302.9 479.3,302.9 479.8,302.9 479.8,302.8 480.3,302.8 480.3,303.0 480.8,303.0 480.8,303.1 481.3,303.1 481.3,302.8 481.8,302.8 481.8,303.0 482.3,303.0 482.3,302.8 482.8,302.8 482.8,307.4 482.3,307.4 482.3,307.3 481.8,307.3 481.8,307.2 481.3,307.2 481.3,307.5 480.8,307.5 480.8,307.4 480.3,307.4 480.3,307.3 479.8,307.3 479.8,307.3 479.3,307.3 479.3,307.2 478.8,307.2 478.8,307.3 478.3,307.3 478.3,307.5 477.8,307.5 477.8,307.2 477.3,307.2 477.3,307.6 476.8,307.6 476.8,307.4 476.3,307.4 476.3,307.3 475.8,307.3 475.8,307.2 475.3,307.2 475.3,307.4 474.8,307.4 474.8,307.5 474.3,307.5 474.3,307.3 473.8,307.3 473.8,307.4 473.3,307.4 473.3,307.3 472.8,307.3 472.8,307.4 472.3,307.4 472.3,307.5 471.8,307.5 471.8,307.5 471.3,307.5 471.3,307.7 470.8,307.7 470.8,307.4 470.3,307.4 470.3,307.4 469.8,307.4 469.8,307.7 469.3,307.7 469.3,307.9 468.8,307.9 468.8,307.4 468.3,307.4 468.3,307.7 467.8,307.7 467.8,307.9 467.3,307.9 467.3,307.7 466.8,307.7 466.8,307.6 466.3,307.6 466.3,307.9 465.8,307.9 465.8,307.6 465.3,307.6 465.3,307.8 464.8,307.8 464.8,307.6 464.3,307.6 464.3,308.0 463.8,308.0 463.8,308.0 463.3,308.0 463.3,307.8 462.8,307.8 462.8,307.8 462.3,307.8 462.3,307.9 461.8,307.9 461.8,307.8 461.3,307.8 461.3,307.8 460.8,307.8 460.8,308.0 460.3,308.0 460.3,307.8 459.8,307.8 459.8,308.1 459.3,308.1 459.3,308.3 458.8,308.3 458.8,308.2 458.3,308.2 458.3,308.3 457.8,308.3 457.8,308.0 457.3,308.0 457.3,308.1 456.8,308.1 456.8,308.0 456.3,308.0 456.3,308.3 455.8,308.3 455.8,308.2 455.3,308.2 455.3,308.4 454.8,308.4 454.8,308.4 454.3,308.4 454.3,308.4 453.8,308.4 453.8,308.3 453.3,308.3 453.3,308.4 452.8,308.4 452.8,308.5 452.3,308.5 452.3,308.2 451.8,308.2 451.8,308.7 451.3,308.7 451.3,308.3 450.8,308.3 450.8,308.6 450.3,308.6 450.3,308.6 449.8,308.6 449.8,308.7 449.3,308.7 449.3,308.6 448.8,308.6 448.8,308.7 448.3,308.7 448.3,308.8 447.8,308.8 447.8,308.9 447.3,308.9 447.3,308.8 446.8,308.8 446.8,309.1 446.3,309.1 446.3,308.8 445.8,308.8 445.8,309.2 445.3,309.2 445.3,309.2 444.8,309.2 444.8,308.9 444.3,308.9 444.3,309.3 443.8,309.3 443.8,309.0 443.3,309.0 443.3,309.0 442.8,309.0 442.8,309.1 442.3,309.1 442.3,309.5 441.8,309.5 441.8,309.4 441.3,309.4 441.3,309.3 440.8,309.3 440.8,309.3 440.3,309.3 440.3,309.4 439.8,309.4 439.8,309.4 439.3,309.4 439.3,309.9 438.8,309.9 438.8,309.9 438.3,309.9 438.3,309.6 437.8,309.6 437.8,310.0 437.3,310.0 437.3,309.9 436.8,309.9 436.8,310.1 436.3,310.1 436.3,310.0 435.8,310.0 435.8,310.1 435.3,310.1 435.3,310.1 434.8,310.1 434.8,310.3 434.3,310.3 434.3,310.2 433.8,310.2 433.8,310.7 433.3,310.7 433.3,310.7 432.8,310.7 432.8,310.6 432.3,310.6 432.3,310.7 431.8,310.7 431.8,310.8 431.3,310.8 431.3,310.7 430.8,310.7 430.8,311.2 430.3,311.2 430.3,310.9 429.8,310.9 429.8,311.1 429.3,311.1 429.3,311.1 428.8,311.1 428.8,311.4 428.3,311.4 428.3,311.6 427.8,311.6 427.8,311.7 427.3,311.7 427.3,311.6 426.8,311.6 426.8,311.6 426.3,311.6 426.3,311.9 425.8,311.9 425.8,312.2 425.3,312.2 425.3,312.3 424.8,312.3 424.8,312.2 424.3,312.2 424.3,312.4 423.8,312.4 423.8,312.5 423.3,312.5 423.3,312.5 422.8,312.5 422.8,312.9 422.3,312.9 422.3,313.0 421.8,313.0 421.8,313.2 421.3,313.2 421.3,313.1 420.8,313.1 420.8,313.1 420.3,313.1 420.3,313.4 419.8,313.4 419.8,313.7 419.3,313.7 419.3,313.6 418.8,313.6 418.8,314.1 418.3,314.1 418.3,314.2 417.8,314.2 417.8,314.2 417.3,314.2 417.3,314.3 416.8,314.3 416.8,314.4 416.3,314.4 416.3,314.7 415.8,314.7 415.8,314.8 415.3,314.8 415.3,315.2 414.8,315.2 414.8,315.5 414.3,315.5 414.3,315.5 413.8,315.5 413.8,315.7 413.3,315.7 413.3,315.7 412.8,315.7 412.8,316.1 412.3,316.1 412.3,316.5 411.8,316.5 411.8,316.4 411.3,316.4 411.3,316.9 410.8,316.9 410.8,316.8 410.3,316.8 410.3,317.1 409.8,317.1 409.8,317.6 409.3,317.6 409.3,317.9 408.8,317.9 408.8,317.8 408.3,317.8 408.3,318.0 407.8,318.0 407.8,318.2 407.3,318.2 407.3,318.6 406.8,318.6 406.8,318.9 406.3,318.9 406.3,319.1 405.8,319.1 405.8,319.5 405.3,319.5 405.3,320.0 404.8,320.0 404.8,320.3 404.3,320.3 404.3,320.4 403.8,320.4 403.8,320.5 403.3,320.5 403.3,320.9 402.8,320.9 402.8,321.6 402.3,321.6 402.3,321.4 401.8,321.4 401.8,321.8 401.3,321.8 401.3,322.5 400.8,322.5 400.8,322.7 400.3,322.7 400.3,323.2 399.8,323.2 399.8,323.6 399.3,323.6 399.3,323.7 398.8,323.7 398.8,324.3 398.3,324.3 398.3,324.6 397.8,324.6 397.8,324.9 397.3,324.9 397.3,325.5 396.8,325.5 396.8,325.7 396.3,325.7 396.3,326.2 395.8,326.2 395.8,326.6 395.3,326.6 395.3,327.0 394.8,327.0 394.8,327.5 394.3,327.5 394.3,328.2 393.8,328.2 393.8,328.5 393.3,328.5 393.3,329.1 392.8,329.1 392.8,329.7 392.3,329.7 392.3,330.0 391.8,330.0 391.8,330.8 391.3,330.8 391.3,331.4 390.8,331.4 390.8,331.9 390.3,331.9 390.3,332.3 389.8,332.3 389.8,333.0 389.3,333.0 389.3,333.3 388.8,333.3 388.8,334.1 388.3,334.1 388.3,334.7 387.8,334.7 387.8,335.6 387.3,335.6 387.3,336.0 386.8,336.0 386.8,336.8 386.3,336.8 386.3,337.3 385.8,337.3 385.8,337.9 385.3,337.9 385.3,338.8 384.8,338.8 384.8,339.5 384.3,339.5 384.3,340.5 383.8,340.5 383.8,341.2 383.3,341.2 383.3,341.8 382.8,341.8 382.8,342.5 382.3,342.5 382.3,343.5 381.8,343.5 381.8,344.2 381.3,344.2 381.3,345.1 380.8,345.1 380.8,345.8 380.3,345.8 380.3,346.7 379.8,346.7 379.8,347.8 379.3,347.8 379.3,349.1 378.8,349.1 378.8,349.9 378.3,349.9 378.3,350.6 377.8,350.6 377.8,351.7 377.3,351.7 377.3,353.0 376.8,353.0 376.8,353.9 376.3,353.9 376.3,354.9 375.8,354.9 375.8,356.3 375.3,356.3 375.3,357.3 374.8,357.3 374.8,358.5 374.3,358.5 374.3,359.3 373.8,359.3 373.8,360.7 373.3,360.7 373.3,362.1 372.8,362.1 372.8,363.4 372.3,363.4 372.3,364.7 371.8,364.7 371.8,365.8 371.3,365.8 371.3,367.0 370.8,367.0Z" fill="#00ffff" fill-opacity="1"/>
<path d="M484.0,241.8 484.5,241.8 484.5,242.9 485.0,242.9 485.0,244.2 485.5,244.2 485.5,245.5 486.0,245.5 486.0,247.1 486.5,247.1 486.5,248.2 487.0,248.2 487.0,249.2 487.5,249.2 487.5,250.5 488.0,250.5 488.0,252.0 488.5,252.0 488.5,253.1 489.0,253.1 489.0,254.0 489.5,254.0 489.5,255.2 490.0,255.2 490.0,256.4 490.5,256.4 490.5,257.4 491.0,257.4 491.0,258.2 491.5,258.2 491.5,259.5 492.0,259.5 492.0,260.0 492.5,260.0 492.5,261.2 493.0,261.2 493.0,262.0 493.5,262.0 493.5,262.9 494.0,262.9 494.0,263.9 494.5,263.9 494.5,264.9 495.0,264.9 495.0,265.4 495.5,265.4 495.5,266.2 496.0,266.2 496.0,267.1 496.5,267.1 496.5,267.9 497.0,267.9 497.0,268.6 497.5,268.6 497.5,269.4 498.0,269.4 498.0,270.2 498.5,270.2 498.5,271.1 499.0,271.1 499.0,271.6 499.5,271.6 499.5,272.2 500.0,272.2 500.0,273.3 500.5,273.3 500.5,273.7 501.0,273.7 501.0,274.5 501.5,274.5 501.5,275.2 502.0,275.2 502.0,275.8 502.5,275.8 502.5,276.3 503.0,276.3 503.0,276.9 503.5,276.9 503.5,277.5 504.0,277.5 504.0,278.0 504.5,278.0 504.5,278.8 505.0,278.8 505.0,279.1 505.5,279.1 505.5,279.4 506.0,279.4 506.0,280.2 506.5,280.2 506.5,280.8 507.0,280.8 507.0,281.1 507.5,281.1 507.5,281.7 508.0,281.7 508.0,281.8 508.5,281.8 508.5,282.3 509.0,282.3 509.0,283.1 509.5,283.1 509.5,283.6 510.0,283.6 510.0,283.7 510.5,283.7 510.5,284.2 511.0,284.2 511.0,284.8 511.5,284.8 511.5,285.2 512.0,285.2 512.0,285.6 512.5,285.6 512.5,285.8 513.0,285.8 513.0,286.1 513.5,286.1 513.5,286.3 514.0,286.3 514.0,286.9 514.5,286.9 514.5,287.0 515.0,287.0 515.0,287.8 515.5,287.8 515.5,287.8 516.0,287.8 516.0,288.2 516.5,288.2 516.5,288.4 517.0,288.4 517.0,288.9 517.5,288.9 517.5,289.1 518.0,289.1 518.0,289.7 518.5,289.7 518.5,289.6 519.0,289.6 519.0,290.0 519.5,290.0 519.5,290.5 520.0,290.5 520.0,290.6 520.5,290.6 520.5,290.7 521.0,290.7 521.0,291.2 521.5,291.2 521.5,291.3 522.0,291.3 522.0,291.4 522.5,291.4 522.5,292.1 523.0,292.1 523.0,296.4 522.5,296.4 522.5,296.0 522.0,296.0 522.0,295.7 521.5,295.7 521.5,295.8 521.0,295.8 521.0,295.6 520.5,295.6 520.5,295.0 520.0,295.0 520.0,294.7 519.5,294.7 519.5,294.8 519.0,294.8 519.0,294.2 518.5,294.2 518.5,294.1 518.0,294.1 518.0,293.6 517.5,293.6 517.5,293.4 517.0,293.4 517.0,293.2 516.5,293.2 516.5,292.8 516.0,292.8 516.0,292.7 515.5,292.7 515.5,292.0 515.0,292.0 515.0,291.7 514.5,291.7 514.5,291.3 514.0,291.3 514.0,291.2 513.5,291.2 513.5,290.7 513.0,290.7 513.0,290.5 512.5,290.5 512.5,290.0 512.0,290.0 512.0,289.5 511.5,289.5 511.5,289.2 511.0,289.2 511.0,288.9 510.5,288.9 510.5,288.4 510.0,288.4 510.0,288.0 509.5,288.0 509.5,287.6 509.0,287.6 509.0,287.2 508.5,287.2 508.5,286.5 508.0,286.5 508.0,286.0 507.5,286.0 507.5,285.6 507.0,285.6 507.0,285.2 506.5,285.2 506.5,284.4 506.0,284.4 506.0,284.0 505.5,284.0 505.5,283.3 505.0,283.3 505.0,283.2 504.5,283.2 504.5,282.4 504.0,282.4 504.0,281.7 503.5,281.7 503.5,281.2 503.0,281.2 503.0,280.9 502.5,280.9 502.5,280.3 502.0,280.3 502.0,279.6 501.5,279.6 501.5,278.7 501.0,278.7 501.0,278.1 500.5,278.1 500.5,277.4 500.0,277.4 500.0,277.0 499.5,277.0 499.5,276.4 499.0,276.4 499.0,275.5 498.5,275.5 498.5,274.8 498.0,274.8 498.0,273.9 497.5,273.9 497.5,273.5 497.0,273.5 497.0,272.6 496.5,272.6 496.5,271.6 496.0,271.6 496.0,270.9 495.5,270.9 495.5,270.2 495.0,270.2 495.0,269.5 494.5,269.5 494.5,268.4 494.0,268.4 494.0,267.5 493.5,267.5 493.5,266.7 493.0,266.7 493.0,265.6 492.5,265.6 492.5,264.7 492.0,264.7 492.0,263.6 491.5,263.6 491.5,262.8 491.0,262.8 491.0,261.7 490.5,261.7 490.5,260.8 490.0,260.8 490.0,259.7 489.5,259.7 489.5,258.4 489.0,258.4 489.0,257.3 488.5,257.3 488.5,256.5 488.0,256.5 488.0,255.2 487.5,255.2 487.5,254.0 487.0,254.0 487.0,252.6 486.5,252.6 486.5,251.6 486.0,251.6 486.0,250.4 485.5,250.4 485.5,249.1 485.0,249.1 485.0,247.5 484.5,247.5 484.5,246.2 484.0,246.2Z" fill="#00ffff" fill-opacity="1"/>
<g shape-rendering="crispEdges">
<line x1="24" y1="241.5" x2="523" y2="241.5" stroke="#009999" stroke-width="1" stroke-dasharray="4 4"/>
<rect x="22" y="306" width="501" height="1" fill="#009999"/>
<g stroke="#000" stroke-width="1">
<line x1="22" y1="19.5" x2="523" y2="19.5" stroke-dasharray="1 1"/>
<line x1="22" y1="421.5" x2="523" y2="421.5" stroke-dasharray="1 1"/>
<line x1="21.5" y1="20" x2="21.5" y2="421" stroke-dasharray="1 1"/>
<line x1="522.5" y1="20" x2="522.5" y2="421" stroke-dasharray="1 1"/>
<rect x="21" y="19" width="1" height="1" stroke="none"/><rect x="21" y="421" width="1" height="1" stroke="none"/>
<line x1="22" y1="220.5" x2="523" y2="220.5" stroke-dasharray="1 1"/>
<line x1="272.5" y1="20" x2="272.5" y2="421" stroke-dasharray="1 1"/>
<line x1="72.5" y1="30" x2="72.5" y2="411" stroke-dasharray="1 9"/>
<line x1="122.5" y1="30" x2="122.5" y2="411" stroke-dasharray="1 9"/>
<line x1="172.5" y1="30" x2="172.5" y2="411" stroke-dasharray="1 9"/>
<line x1="222.5" y1="30" x2="222.5" y2="411" stroke-dasharray="1 9"/>
<line x1="322.5" y1="30" x2="322.5" y2="411" stroke-dasharray="1 9"/>
<line x1="372.5" y1="30" x2="372.5" y2="411" stroke-dasharray="1 9"/>
<line x1="422.5" y1="30" x2="422.5" y2="411" stroke-dasharray="1 9"/>
<line x1="472.5" y1="30" x2="472.5" y2="411" stroke-dasharray="1 9"/>
<line x1="32" y1="70.5" x2="513" y2="70.5" stroke-dasharray="1 9"/>
<line x1="32" y1="120.5" x2="513" y2="120.5" stroke-dasharray="1 9"/>
<line x1="32" y1="170.5" x2="513" y2="170.5" stroke-dasharray="1 9"/>
<line x1="32" y1="270.5" x2="513" y2="270.5" stroke-dasharray="1 9"/>
<line x1="32" y1="320.5" x2="513" y2="320.5" stroke-dasharray="1 9"/>
<line x1="32" y1="370.5" x2="513" y2="370.5" stroke-dasharray="1 9"/>
</g>
<path d="M32 20h1v1h-1zM32 22h1v1h-1zM32 420h1v1h-1zM32 418h1v1h-1zM32 217h1v1h-1zM32 219h1v1h-1zM32 221h1v1h-1zM32 223h1v1h-1zM42 20h1v1h-1zM42 22h1v1h-1zM42 420h1v1h-1zM42 418h1v1h-1zM42 217h1v1h-1zM42 219h1v1h-1zM42 221h1v1h-1zM42 223h1v1h-1zM52 20h1v1h-1zM52 22h1v1h-1zM52 420h1v1h-1zM52 418h1v1h-1zM52 217h1v1h-1zM52 219h1v1h-1zM52 221h1v1h-1zM52 223h1v1h-1zM62 20h1v1h-1zM62 22h1v1h-1zM62 420h1v1h-1zM62 418h1v1h-1zM62 217h1v1h-1zM62 219h1v1h-1zM62 221h1v1h-1zM62 223h1v1h-1zM72 21h1v1h-1zM72 23h1v1h-1zM72 25h1v1h-1zM72 419h1v1h-1zM72 417h1v1h-1zM72 415h1v1h-1zM82 20h1v1h-1zM82 22h1v1h-1zM82 420h1v1h-1zM82 418h1v1h-1zM82 217h1v1h-1zM82 219h1v1h-1zM82 221h1v1h-1zM82 223h1v1h-1zM92 20h1v1h-1zM92 22h1v1h-1zM92 420h1v1h-1zM92 418h1v1h-1zM92 217h1v1h-1zM92 219h1v1h-1zM92 221h1v1h-1zM92 223h1v1h-1zM102 20h1v1h-1zM102 22h1v1h-1zM102 420h1v1h-1zM102 418h1v1h-1zM102 217h1v1h-1zM102 219h1v1h-1zM102 221h1v1h-1zM102 223h1v1h-1zM112 20h1v1h-1zM112 22h1v1h-1zM112 420h1v1h-1zM112 418h1v1h-1zM112 217h1v1h-1zM112 219h1v1h-1zM112 221h1v1h-1zM112 223h1v1h-1zM122 21h1v1h-1zM122 23h1v1h-1zM122 25h1v1h-1zM122 419h1v1h-1zM122 417h1v1h-1zM122 415h1v1h-1zM132 20h1v1h-1zM132 22h1v1h-1zM132 420h1v1h-1zM132 418h1v1h-1zM132 217h1v1h-1zM132 219h1v1h-1zM132 221h1v1h-1zM132 223h1v1h-1zM142 20h1v1h-1zM142 22h1v1h-1zM142 420h1v1h-1zM142 418h1v1h-1zM142 217h1v1h-1zM142 219h1v1h-1zM142 221h1v1h-1zM142 223h1v1h-1zM152 20h1v1h-1zM152 22h1v1h-1zM152 420h1v1h-1zM152 418h1v1h-1zM152 217h1v1h-1zM152 219h1v1h-1zM152 221h1v1h-1zM152 223h1v1h-1zM162 20h1v1h-1zM162 22h1v1h-1zM162 420h1v1h-1zM162 418h1v1h-1zM162 217h1v1h-1zM162 219h1v1h-1zM162 221h1v1h-1zM162 223h1v1h-1zM172 21h1v1h-1zM172 23h1v1h-1zM172 25h1v1h-1zM172 419h1v1h-1zM172 417h1v1h-1zM172 415h1v1h-1zM182 20h1v1h-1zM182 22h1v1h-1zM182 420h1v1h-1zM182 418h1v1h-1zM182 217h1v1h-1zM182 219h1v1h-1zM182 221h1v1h-1zM182 223h1v1h-1zM192 20h1v1h-1zM192 22h1v1h-1zM192 420h1v1h-1zM192 418h1v1h-1zM192 217h1v1h-1zM192 219h1v1h-1zM192 221h1v1h-1zM192 223h1v1h-1zM202 20h1v1h-1zM202 22h1v1h-1zM202 420h1v1h-1zM202 418h1v1h-1zM202 217h1v1h-1zM202 219h1v1h-1zM202 221h1v1h-1zM202 223h1v1h-1zM212 20h1v1h-1zM212 22h1v1h-1zM212 420h1v1h-1zM212 418h1v1h-1zM212 217h1v1h-1zM212 219h1v1h-1zM212 221h1v1h-1zM212 223h1v1h-1zM222 21h1v1h-1zM222 23h1v1h-1zM222 25h1v1h-1zM222 419h1v1h-1zM222 417h1v1h-1zM222 415h1v1h-1zM232 20h1v1h-1zM232 22h1v1h-1zM232 420h1v1h-1zM232 418h1v1h-1zM232 217h1v1h-1zM232 219h1v1h-1zM232 221h1v1h-1zM232 223h1v1h-1zM242 20h1v1h-1zM242 22h1v1h-1zM242 420h1v1h-1zM242 418h1v1h-1zM242 217h1v1h-1zM242 219h1v1h-1zM242 221h1v1h-1zM242 223h1v1h-1zM252 20h1v1h-1zM252 22h1v1h-1zM252 420h1v1h-1zM252 418h1v1h-1zM252 217h1v1h-1zM252 219h1v1h-1zM252 221h1v1h-1zM252 223h1v1h-1zM262 20h1v1h-1zM262 22h1v1h-1zM262 420h1v1h-1zM262 418h1v1h-1zM262 217h1v1h-1zM262 219h1v1h-1zM262 221h1v1h-1zM262 223h1v1h-1zM282 20h1v1h-1zM282 22h1v1h-1zM282 420h1v1h-1zM282 418h1v1h-1zM282 217h1v1h-1zM282 219h1v1h-1zM282 221h1v1h-1zM282 223h1v1h-1zM292 20h1v1h-1zM292 22h1v1h-1zM292 420h1v1h-1zM292 418h1v1h-1zM292 217h1v1h-1zM292 219h1v1h-1zM292 221h1v1h-1zM292 223h1v1h-1zM302 20h1v1h-1zM302 22h1v1h-1zM302 420h1v1h-1zM302 418h1v1h-1zM302 217h1v1h-1zM302 219h1v1h-1zM302 221h1v1h-1zM302 223h1v1h-1zM312 20h1v1h-1zM312 22h1v1h-1zM312 420h1v1h-1zM312 418h1v1h-1zM312 217h1v1h-1zM312 219h1v1h-1zM312 221h1v1h-1zM312 223h1v1h-1zM322 21h1v1h-1zM322 23h1v1h-1zM322 25h1v1h-1zM322 419h1v1h-1zM322 417h1v1h-1zM322 415h1v1h-1zM332 20h1v1h-1zM332 22h1v1h-1zM332 420h1v1h-1zM332 418h1v1h-1zM332 217h1v1h-1zM332 219h1v1h-1zM332 221h1v1h-1zM332 223h1v1h-1zM342 20h1v1h-1zM342 22h1v1h-1zM342 420h1v1h-1zM342 418h1v1h-1zM342 217h1v1h-1zM342 219h1v1h-1zM342 221h1v1h-1zM342 223h1v1h-1zM352 20h1v1h-1zM352 22h1v1h-1zM352 420h1v1h-1zM352 418h1v1h-1zM352 217h1v1h-1zM352 219h1v1h-1zM352 221h1v1h-1zM352 223h1v1h-1zM362 20h1v1h-1zM362 22h1v1h-1zM362 420h1v1h-1zM362 418h1v1h-1zM362 217h1v1h-1zM362 219h1v1h-1zM362 221h1v1h-1zM362 223h1v1h-1zM372 21h1v1h-1zM372 23h1v1h-1zM372 25h1v1h-1zM372 419h1v1h-1zM372 417h1v1h-1zM372 415h1v1h-1zM382 20h1v1h-1zM382 22h1v1h-1zM382 420h1v1h-1zM382 418h1v1h-1zM382 217h1v1h-1zM382 219h1v1h-1zM382 221h1v1h-1zM382 223h1v1h-1zM392 20h1v1h-1zM392 22h1v1h-1zM392 420h1v1h-1zM392 418h1v1h-1zM392 217h1v1h-1zM392 219h1v1h-1zM392 221h1v1h-1zM392 223h1v1h-1zM402 20h1v1h-1zM402 22h1v1h-1zM402 420h1v1h-1zM402 418h1v1h-1zM402 217h1v1h-1zM402 219h1v1h-1zM402 221h1v1h-1zM402 223h1v1h-1zM412 20h1v1h-1zM412 22h1v1h-1zM412 420h1v1h-1zM412 418h1v1h-1zM412 217h1v1h-1zM412 219h1v1h-1zM412 221h1v1h-1zM412 223h1v1h-1zM422 21h1v1h-1zM422 23h1v1h-1zM422 25h1v1h-1zM422 419h1v1h-1zM422 417h1v1h-1zM422 415h1v1h-1zM432 20h1v1h-1zM432 22h1v1h-1zM432 420h1v1h-1zM432 418h1v1h-1zM432 217h1v1h-1zM432 219h1v1h-1zM432 221h1v1h-1zM432 223h1v1h-1zM442 20h1v1h-1zM442 22h1v1h-1zM442 420h1v1h-1zM442 418h1v1h-1zM442 217h1v1h-1zM442 219h1v1h-1zM442 221h1v1h-1zM442 223h1v1h-1zM452 20h1v1h-1zM452 22h1v1h-1zM452 420h1v1h-1zM452 418h1v1h-1zM452 217h1v1h-1zM452 219h1v1h-1zM452 221h1v1h-1zM452 223h1v1h-1zM462 20h1v1h-1zM462 22h1v1h-1zM462 420h1v1h-1zM462 418h1v1h-1zM462 217h1v1h-1zM462 219h1v1h-1zM462 221h1v1h-1zM462 223h1v1h-1zM472 21h1v1h-1zM472 23h1v1h-1zM472 25h1v1h-1zM472 419h1v1h-1zM472 417h1v1h-1zM472 415h1v1h-1zM482 20h1v1h-1zM482 22h1v1h-1zM482 420h1v1h-1zM482 418h1v1h-1zM482 217h1v1h-1zM482 219h1v1h-1zM482 221h1v1h-1zM482 223h1v1h-1zM492 20h1v1h-1zM492 22h1v1h-1zM492 420h1v1h-1zM492 418h1v1h-1zM492 217h1v1h-1zM492 219h1v1h-1zM492 221h1v1h-1zM492 223h1v1h-1zM502 20h1v1h-1zM502 22h1v1h-1zM502 420h1v1h-1zM502 418h1v1h-1zM502 217h1v1h-1zM502 219h1v1h-1zM502 221h1v1h-1zM502 223h1v1h-1zM512 20h1v1h-1zM512 22h1v1h-1zM512 420h1v1h-1zM512 418h1v1h-1zM512 217h1v1h-1zM512 219h1v1h-1zM512 221h1v1h-1zM512 223h1v1h-1zM22 30h1v1h-1zM24 30h1v1h-1zM521 30h1v1h-1zM519 30h1v1h-1zM269 30h1v1h-1zM271 30h1v1h-1zM273 30h1v1h-1zM275 30h1v1h-1zM22 40h1v1h-1zM24 40h1v1h-1zM521 40h1v1h-1zM519 40h1v1h-1zM269 40h1v1h-1zM271 40h1v1h-1zM273 40h1v1h-1zM275 40h1v1h-1zM22 50h1v1h-1zM24 50h1v1h-1zM521 50h1v1h-1zM519 50h1v1h-1zM269 50h1v1h-1zM271 50h1v1h-1zM273 50h1v1h-1zM275 50h1v1h-1zM22 60h1v1h-1zM24 60h1v1h-1zM521 60h1v1h-1zM519 60h1v1h-1zM269 60h1v1h-1zM271 60h1v1h-1zM273 60h1v1h-1zM275 60h1v1h-1zM23 70h1v1h-1zM25 70h1v1h-1zM27 70h1v1h-1zM520 70h1v1h-1zM518 70h1v1h-1zM516 70h1v1h-1zM22 80h1v1h-1zM24 80h1v1h-1zM521 80h1v1h-1zM519 80h1v1h-1zM269 80h1v1h-1zM271 80h1v1h-1zM273 80h1v1h-1zM275 80h1v1h-1zM22 90h1v1h-1zM24 90h1v1h-1zM521 90h1v1h-1zM519 90h1v1h-1zM269 90h1v1h-1zM271 90h1v1h-1zM273 90h1v1h-1zM275 90h1v1h-1zM22 100h1v1h-1zM24 100h1v1h-1zM521 100h1v1h-1zM519 100h1v1h-1zM269 100h1v1h-1zM271 100h1v1h-1zM273 100h1v1h-1zM275 100h1v1h-1zM22 110h1v1h-1zM24 110h1v1h-1zM521 110h1v1h-1zM519 110h1v1h-1zM269 110h1v1h-1zM271 110h1v1h-1zM273 110h1v1h-1zM275 110h1v1h-1zM23 120h1v1h-1zM25 120h1v1h-1zM27 120h1v1h-1zM520 120h1v1h-1zM518 120h1v1h-1zM516 120h1v1h-1zM22 130h1v1h-1zM24 130h1v1h-1zM521 130h1v1h-1zM519 130h1v1h-1zM269 130h1v1h-1zM271 130h1v1h-1zM273 130h1v1h-1zM275 130h1v1h-1zM22 140h1v1h-1zM24 140h1v1h-1zM521 140h1v1h-1zM519 140h1v1h-1zM269 140h1v1h-1zM271 140h1v1h-1zM273 140h1v1h-1zM275 140h1v1h-1zM22 150h1v1h-1zM24 150h1v1h-1zM521 150h1v1h-1zM519 150h1v1h-1zM269 150h1v1h-1zM271 150h1v1h-1zM273 150h1v1h-1zM275 150h1v1h-1zM22 160h1v1h-1zM24 160h1v1h-1zM521 160h1v1h-1zM519 160h1v1h-1zM269 160h1v1h-1zM271 160h1v1h-1zM273 160h1v1h-1zM275 160h1v1h-1zM23 170h1v1h-1zM25 170h1v1h-1zM27 170h1v1h-1zM520 170h1v1h-1zM518 170h1v1h-1zM516 170h1v1h-1zM22 180h1v1h-1zM24 180h1v1h-1zM521 180h1v1h-1zM519 180h1v1h-1zM269 180h1v1h-1zM271 180h1v1h-1zM273 180h1v1h-1zM275 180h1v1h-1zM22 190h1v1h-1zM24 190h1v1h-1zM521 190h1v1h-1zM519 190h1v1h-1zM269 190h1v1h-1zM271 190h1v1h-1zM273 190h1v1h-1zM275 190h1v1h-1zM22 200h1v1h-1zM24 200h1v1h-1zM521 200h1v1h-1zM519 200h1v1h-1zM269 200h1v1h-1zM271 200h1v1h-1zM273 200h1v1h-1zM275 200h1v1h-1zM22 210h1v1h-1zM24 210h1v1h-1zM521 210h1v1h-1zM519 210h1v1h-1zM269 210h1v1h-1zM271 210h1v1h-1zM273 210h1v1h-1zM275 210h1v1h-1zM22 230h1v1h-1zM24 230h1v1h-1zM521 230h1v1h-1zM519 230h1v1h-1zM269 230h1v1h-1zM271 230h1v1h-1zM273 230h1v1h-1zM275 230h1v1h-1zM22 240h1v1h-1zM24 240h1v1h-1zM521 240h1v1h-1zM519 240h1v1h-1zM269 240h1v1h-1zM271 240h1v1h-1zM273 240h1v1h-1zM275 240h1v1h-1zM22 250h1v1h-1zM24 250h1v1h-1zM521 250h1v1h-1zM519 250h1v1h-1zM269 250h1v1h-1zM271 250h1v1h-1zM273 250h1v1h-1zM275 250h1v1h-1zM22 260h1v1h-1zM24 260h1v1h-1zM521 260h1v1h-1zM519 260h1v1h-1zM269 260h1v1h-1zM271 260h1v1h-1zM273 260h1v1h-1zM275 260h1v1h-1zM23 270h1v1h-1zM25 270h1v1h-1zM27 270h1v1h-1zM520 270h1v1h-1zM518 270h1v1h-1zM516 270h1v1h-1zM22 280h1v1h-1zM24 280h1v1h-1zM521 280h1v1h-1zM519 280h1v1h-1zM269 280h1v1h-1zM271 280h1v1h-1zM273 280h1v1h-1zM275 280h1v1h-1zM22 290h1v1h-1zM24 290h1v1h-1zM521 290h1v1h-1zM519 290h1v1h-1zM269 290h1v1h-1zM271 290h1v1h-1zM273 290h1v1h-1zM275 290h1v1h-1zM22 300h1v1h-1zM24 300h1v1h-1zM521 300h1v1h-1zM519 300h1v1h-1zM269 300h1v1h-1zM271 300h1v1h-1zM273 300h1v1h-1zM275 300h1v1h-1zM22 310h1v1h-1zM24 310h1v1h-1zM521 310h1v1h-1zM519 310h1v1h-1zM269 310h1v1h-1zM271 310h1v1h-1zM273 310h1v1h-1zM275 310h1v1h-1zM23 320h1v1h-1zM25 320h1v1h-1zM27 320h1v1h-1zM520 320h1v1h-1zM518 320h1v1h-1zM516 320h1v1h-1zM22 330h1v1h-1zM24 330h1v1h-1zM521 330h1v1h-1zM519 330h1v1h-1zM269 330h1v1h-1zM271 330h1v1h-1zM273 330h1v1h-1zM275 330h1v1h-1zM22 340h1v1h-1zM24 340h1v1h-1zM521 340h1v1h-1zM519 340h1v1h-1zM269 340h1v1h-1zM271 340h1v1h-1zM273 340h1v1h-1zM275 340h1v1h-1zM22 350h1v1h-1zM24 350h1v1h-1zM521 350h1v1h-1zM519 350h1v1h-1zM269 350h1v1h-1zM271 350h1v1h-1zM273 350h1v1h-1zM275 350h1v1h-1zM22 360h1v1h-1zM24 360h1v1h-1zM521 360h1v1h-1zM519 360h1v1h-1zM269 360h1v1h-1zM271 360h1v1h-1zM273 360h1v1h-1zM275 360h1v1h-1zM23 370h1v1h-1zM25 370h1v1h-1zM27 370h1v1h-1zM520 370h1v1h-1zM518 370h1v1h-1zM516 370h1v1h-1zM22 380h1v1h-1zM24 380h1v1h-1zM521 380h1v1h-1zM519 380h1v1h-1zM269 380h1v1h-1zM271 380h1v1h-1zM273 380h1v1h-1zM275 380h1v1h-1zM22 390h1v1h-1zM24 390h1v1h-1zM521 390h1v1h-1zM519 390h1v1h-1zM269 390h1v1h-1zM271 390h1v1h-1zM273 390h1v1h-1zM275 390h1v1h-1zM22 400h1v1h-1zM24 400h1v1h-1zM521 400h1v1h-1zM519 400h1v1h-1zM269 400h1v1h-1zM271 400h1v1h-1zM273 400h1v1h-1zM275 400h1v1h-1zM22 410h1v1h-1zM24 410h1v1h-1zM521 410h1v1h-1zM519 410h1v1h-1zM269 410h1v1h-1zM271 410h1v1h-1zM273 410h1v1h-1zM275 410h1v1h-1zM266 70h1v1h-1zM268 70h1v1h-1zM270 70h1v1h-1zM274 70h1v1h-1zM276 70h1v1h-1zM278 70h1v1h-1zM266 120h1v1h-1zM268 120h1v1h-1zM270 120h1v1h-1zM274 120h1v1h-1zM276 120h1v1h-1zM278 120h1v1h-1zM266 170h1v1h-1zM268 170h1v1h-1zM270 170h1v1h-1zM274 170h1v1h-1zM276 170h1v1h-1zM278 170h1v1h-1zM266 270h1v1h-1zM268 270h1v1h-1zM270 270h1v1h-1zM274 270h1v1h-1zM276 270h1v1h-1zM278 270h1v1h-1zM266 320h1v1h-1zM268 320h1v1h-1zM270 320h1v1h-1zM274 320h1v1h-1zM276 320h1v1h-1zM278 320h1v1h-1zM266 370h1v1h-1zM268 370h1v1h-1zM270 370h1v1h-1zM274 370h1v1h-1zM276 370h1v1h-1zM278 370h1v1h-1zM72 214h1v1h-1zM72 216h1v1h-1zM72 218h1v1h-1zM72 222h1v1h-1zM72 224h1v1h-1zM72 226h1v1h-1zM122 214h1v1h-1zM122 216h1v1h-1zM122 218h1v1h-1zM122 222h1v1h-1zM122 224h1v1h-1zM122 226h1v1h-1zM172 214h1v1h-1zM172 216h1v1h-1zM172 218h1v1h-1zM172 222h1v1h-1zM172 224h1v1h-1zM172 226h1v1h-1zM222 214h1v1h-1zM222 216h1v1h-1zM222 218h1v1h-1zM222 222h1v1h-1zM222 224h1v1h-1zM222 226h1v1h-1zM322 214h1v1h-1zM322 216h1v1h-1zM322 218h1v1h-1zM322 222h1v1h-1zM322 224h1v1h-1zM322 226h1v1h-1zM372 214h1v1h-1zM372 216h1v1h-1zM372 218h1v1h-1zM372 222h1v1h-1zM372 224h1v1h-1zM372 226h1v1h-1zM422 214h1v1h-1zM422 216h1v1h-1zM422 218h1v1h-1zM422 222h1v1h-1zM422 224h1v1h-1zM422 226h1v1h-1zM472 214h1v1h-1zM472 216h1v1h-1zM472 218h1v1h-1zM472 222h1v1h-1zM472 224h1v1h-1zM472 226h1v1h-1z" fill="#000"/>
</g>
<g shape-rendering="crispEdges">
<polygon points="19,17 525,17 523,19 21,19" fill="#7b7b7b"/>
<polygon points="19,17 21,19 21,422 19,424" fill="#7b7b7b"/>
<polygon points="19,424 21,422 523,422 525,424" fill="#c3c3c3"/>
<polygon points="525,17 525,424 523,422 523,19" fill="#c3c3c3"/>
<rect x="92" y="1" width="1" height="16" fill="#808080"/>
<rect x="93" y="16" width="359" height="1" fill="#c8c8c8"/>
<rect x="451" y="1" width="1" height="16" fill="#c0c0c0"/>
<path d="M164 1h3v1h-2v13h2v1h-3z" fill="#000"/>
<path d="M380 1h-3v1h2v13h-2v1h3z" fill="#000"/>
<rect x="165" y="8" width="214" height="1" fill="#009999"/>
<rect x="51" y="424" width="99" height="1" fill="#808080"/>
<rect x="51" y="424" width="1" height="18" fill="#808080"/>
<rect x="51" y="441" width="99" height="1" fill="#b0b0b0"/>
<rect x="149" y="424" width="1" height="18" fill="#a0a0a0"/>
<rect x="183" y="424" width="99" height="1" fill="#808080"/>
<rect x="183" y="424" width="1" height="18" fill="#808080"/>
<rect x="183" y="441" width="99" height="1" fill="#b0b0b0"/>
<rect x="281" y="424" width="1" height="18" fill="#a0a0a0"/>
<rect x="297" y="424" width="61" height="1" fill="#808080"/>
<rect x="297" y="424" width="1" height="18" fill="#808080"/>
<rect x="297" y="441" width="61" height="1" fill="#b0b0b0"/>
<rect x="357" y="424" width="1" height="18" fill="#a0a0a0"/>
<rect x="384" y="425" width="1" height="18" fill="#808080"/>
<rect x="384" y="442" width="141" height="1" fill="#b0b0b0"/>
<rect x="524" y="425" width="1" height="18" fill="#a0a0a0"/>
<rect x="324" y="462" width="102" height="1" fill="#808080"/>
<rect x="324" y="462" width="1" height="18" fill="#808080"/>
<rect x="324" y="479" width="102" height="1" fill="#b0b0b0"/>
<rect x="425" y="462" width="1" height="18" fill="#a0a0a0"/>
<rect x="151" y="425" width="31" height="16" fill="#009999"/>
</g>
<path d="M0.5 124.5H12.5L20.5 132.5L12.5 140.5" fill="none" stroke="#000099" stroke-width="1"/>
<line x1="0.5" y1="124" x2="0.5" y2="141" stroke="#000099" stroke-width="1" shape-rendering="crispEdges"/>
<line x1="1" y1="140.5" x2="13" y2="140.5" stroke="#000099" stroke-width="1" stroke-dasharray="1 1" shape-rendering="crispEdges"/>
<text x="4.45" y="138" fill="#000099" stroke="#000099" stroke-width="0.7" font-size="15.6" >1</text>
<path d="M4.56 136.00H7.97V139.00H4.56ZM10.15 136.00H13.46V139.00H10.15Z" fill="#fff"/>
<path d="M0 296H12L20.5 304.5L12 313H0Z" fill="#009999"/>
<rect x="0" y="296" width="1" height="17" fill="#8a8a8a" shape-rendering="crispEdges"/>
<rect x="0" y="296" width="12" height="1" fill="#9a8f8f" shape-rendering="crispEdges"/>
<path d="M1 312h1v1h-1zM3 312h1v1h-1zM5 312h1v1h-1zM7 312h1v1h-1zM9 312h1v1h-1zM11 312h1v1h-1zM13 311h1v1h-1zM15 309h1v1h-1zM17 307h1v1h-1zM19 305h1v1h-1z" fill="#fff" shape-rendering="crispEdges"/>
<text x="4.26" y="310" fill="#fff" stroke="#fff" stroke-width="0.5" font-size="15.6" >2</text>
<path d="M511 126.5L517 121V132Z" fill="#000099"/>
<rect x="517" y="126" width="5" height="1" fill="#000099" shape-rendering="crispEdges"/>
<path d="M268.9 0.9H276.2L272.5 4.9Z" fill="#ff7a00"/>
<path d="M267 4.8H271.2Q273.2 4.8 273.2 6.8V13.6Q273.2 15 271.6 15.6L269.2 16.2L266.6 15.6Q265 15 265 13.6V6.8Q265 4.8 267 4.8Z" fill="#ff7a00"/>
<path d="M266.2 6.2H272V7.8H270V15.4H268.1V7.8H266.2Z" fill="#fff"/>
<path d="M266.7 20H278.3L272.5 26Z" fill="#ff7a00"/>
<path d="M263.2 26.8H271Q273.1 26.8 273.1 29V38.4L270.5 40.6L267 42.1L263.5 40.6L261 38.4V29Q261 26.8 263.2 26.8Z" fill="#ff7a00"/>
<path d="M262.2 28.3H272V30.4H268.5V38.8H265.7V30.4H262.2Z" fill="#fff"/>
<rect x="286" y="464" width="12" height="13" rx="2.2" fill="#ff7a00"/>
<path d="M287.5 466H296.5V468.4H293.3V475.6H290.7V468.4H287.5Z" fill="#fff"/>
<path d="M299 469.6H305V466.2L308.2 470.2L305 474.2V470.8H299Z" fill="#ff7a00"/>
<path d="M308.8 467H320.2L314.5 473.2Z" fill="#ff7a00"/>
<path d="M439 437H443.7L446.3 428H451" fill="none" stroke="#000" stroke-width="2"/>
<text x="-0.5" y="15" font-family="'Liberation Serif',serif" font-weight="bold" font-size="21.3" textLength="32.5" lengthAdjust="spacingAndGlyphs" fill="#000" stroke="#000" stroke-width="0.55">Tek</text>
<text x="33.74 45.55 56.60" y="13" fill="#000" stroke="#000" stroke-width="0.5" font-size="15.6" >Run</text>
<text x="456.16 466.84 473.07 478.29 489.16 493.99" y="13" fill="#000" stroke="#000" stroke-width="0.5" font-size="15.6" >Trig'd</text>
<text x="435.37 447.01" y="33" fill="#009999" stroke="#009999" stroke-width="0.5" font-size="15.6"  transform="scale(1.22,1)">Δ:</text>
<text x="573.66 583.66 588.56 599.29 608.50 613.22" y="33" fill="#009999" stroke="#009999" stroke-width="0.5" font-size="15.6" >2.60 V</text>
<text x="530.95 546.06" y="49" fill="#009999" stroke="#009999" stroke-width="0.5" font-size="14" >@:</text>
<text x="561.89 573.66 584.54 594.38 599.29 609.12 622.60" y="49" fill="#009999" stroke="#009999" stroke-width="0.5" font-size="15.6" >−80.0mV</text>
<text x="547.77 559.63 571.35 579.00 584.96 596.71 603.18 610.48" y="155" fill="#000099" stroke="#000099" stroke-width="0.5" font-size="15.6" >Ch1 Freq</text>
<path d="M571.46 153.00H574.97V156.00H571.46ZM576.95 153.00H580.36V156.00H576.95Z" fill="#fff"/>
<text x="548.56 559.81 571.35 579.13 583.78 594.00 598.46 610.52" y="171" fill="#000099" stroke="#000099" stroke-width="0.5" font-size="15.6" >231.6 Hz</text>
<path d="M571.46 169.00H574.97V172.00H571.46ZM576.95 169.00H580.36V172.00H576.95Z" fill="#fff"/>
<text x="543.77 555.63 567.35 575.00 580.80 592.37 606.49 619.19" y="226" fill="#000099" stroke="#000099" stroke-width="0.5" font-size="15.6" >Ch1 Ampl</text>
<path d="M567.46 224.00H570.97V227.00H567.46ZM572.95 224.00H576.36V227.00H572.95Z" fill="#fff"/>
<text x="558.66 569.53 574.65 585.66 595.00 598.55" y="242" fill="#000099" stroke="#000099" stroke-width="0.5" font-size="15.6" >2.70 V</text>
<text x="543.77 555.63 565.61 575.50 580.80 592.37 606.49 619.19" y="297" fill="#009999" stroke="#009999" stroke-width="0.5" font-size="15.6" >Ch2 Ampl</text>
<text x="553.44 563.79 574.68 579.81 590.50 603.82" y="313" fill="#009999" stroke="#009999" stroke-width="0.5" font-size="15.6" >40.0mV</text>
<text x="18.82 30.68 41.60" y="438" fill="#000099" stroke="#000099" stroke-width="0.5" font-size="15.6" >Ch1</text>
<path d="M41.71 436.00H45.22V439.00H41.71ZM47.20 436.00H50.61V439.00H47.20Z" fill="#fff"/>
<text x="70.65 78.61 85.51 95.86 105.00 109.45" y="438" fill="#000099" stroke="#000099" stroke-width="0.5" font-size="15.6" >1.00 V</text>
<path d="M70.76 436.00H74.27V439.00H70.76ZM76.25 436.00H79.66V439.00H76.25Z" fill="#fff"/>
<text x="150.77 162.73 173.41" y="438" fill="#fff" stroke="#fff" stroke-width="0.3" font-size="15.6" >Ch2</text>
<text x="202.16 212.83 219.21 230.01 239.00 242.10" y="438" fill="#009999" stroke="#009999" stroke-width="0.5" font-size="15.6" >2.00 V</text>
<text x="283.05" y="438" fill="#000" stroke="#000" stroke-width="0.5" font-size="15.6" >M</text>
<text x="300.05 308.03 313.66 324.29 334.50 348.66" y="438" fill="#000" stroke="#000" stroke-width="0.5" font-size="15.6" >1.00ms</text>
<path d="M300.16 436.00H303.67V439.00H300.16ZM305.65 436.00H309.06V439.00H305.65Z" fill="#fff"/>
<text x="372.80" y="438" fill="#000" stroke="#000" stroke-width="0.5" font-size="15.6" >A</text>
<text x="396.84 409.00 419.75" y="438" fill="#000099" stroke="#000099" stroke-width="0.5" font-size="15.6" >Ch1</text>
<path d="M419.86 436.00H423.37V439.00H419.86ZM425.35 436.00H428.76V439.00H425.35Z" fill="#fff"/>
<text x="470.35 479.56 490.54 500.65 513.70" y="438" fill="#000" stroke="#000" stroke-width="0.5" font-size="15.6" >120mV</text>
<path d="M470.46 436.00H473.97V439.00H470.46ZM475.95 436.00H479.36V439.00H475.95Z" fill="#fff"/>
<text x="327.25 335.96 346.41 356.53 362.11 372.61 382.91 392.80 403.44" y="476" fill="#000" stroke="#000" stroke-width="0.5" font-size="15.6" >100.000µs</text>
<path d="M327.36 474.00H330.87V477.00H327.36ZM332.85 474.00H336.26V477.00H332.85Z" fill="#fff"/>
<text x="547.55 556.00 562.40 576.26 586.26 593.00 600.41 611.11 622.35 630.85" y="460" fill="#000" stroke="#000" stroke-width="0.5" font-size="15.6" >1 Mar 2011</text>
<path d="M547.66 458.00H551.17V461.00H547.66ZM553.15 458.00H556.56V461.00H553.15Z" fill="#fff"/>
<path d="M622.46 458.00H625.97V461.00H622.46ZM627.95 458.00H631.36V461.00H627.95Z" fill="#fff"/>
<path d="M630.96 458.00H634.47V461.00H630.96ZM636.45 458.00H639.86V461.00H636.45Z" fill="#fff"/>
<text x="538.10 546.95 557.53 563.86 574.06 584.13 589.91 599.95" y="476" fill="#000" stroke="#000" stroke-width="0.5" font-size="15.6" >17:04:31</text>
<path d="M538.21 474.00H541.72V477.00H538.21ZM543.70 474.00H547.11V477.00H543.70Z" fill="#fff"/>
<path d="M600.06 474.00H603.57V477.00H600.06ZM605.55 474.00H608.96V477.00H605.55Z" fill="#fff"/>
</svg>
</body></html>
